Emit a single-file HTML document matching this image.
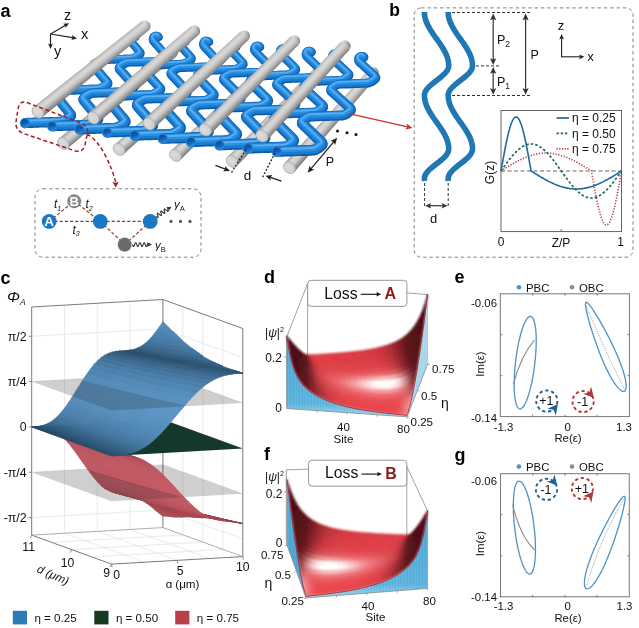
<!DOCTYPE html>
<html><head><meta charset="utf-8"><title>figure</title>
<style>
html,body{margin:0;padding:0;background:#fff;}
svg{display:block;font-family:"Liberation Sans",sans-serif;opacity:0.999;}
</style></head><body>
<svg width="639" height="628" viewBox="0 0 639 628">
<rect width="639" height="628" fill="#fff"/>
<defs><linearGradient id="rodcap" x1="0" y1="0" x2="0" y2="1"><stop offset="0" stop-color="#c4c4c4"/><stop offset="0.5" stop-color="#d6d6d6"/><stop offset="1" stop-color="#8f8f8f"/></linearGradient><radialGradient id="rodface" cx="0.45" cy="0.4" r="0.7"><stop offset="0" stop-color="#dedede"/><stop offset="0.7" stop-color="#cfcfcf"/><stop offset="1" stop-color="#b0b0b0"/></radialGradient><linearGradient id="tubeend" x1="0" y1="0" x2="0.3" y2="1"><stop offset="0" stop-color="#08428a"/><stop offset="0.55" stop-color="#0f5cae"/><stop offset="1" stop-color="#2a86d6"/></linearGradient></defs><text x="0.5" y="16.5" font-size="18" font-weight="bold" fill="#000">a</text><line x1="50.5" y1="34" x2="66.4" y2="24.7" stroke="#222" stroke-width="1.2"/><polygon points="69,23.2 65.5,28.1 65.3,25.4 63,23.8" fill="#222"/><line x1="50.5" y1="34" x2="74" y2="37.9" stroke="#222" stroke-width="1.2"/><polygon points="77,38.4 71.2,39.9 72.7,37.7 72,35.1" fill="#222"/><line x1="50.5" y1="34" x2="50.5" y2="46" stroke="#222" stroke-width="1.2"/><polygon points="50.5,49 48.1,43.5 50.5,44.7 52.9,43.5" fill="#222"/><text x="67.5" y="19.5" font-size="14.5" text-anchor="middle" fill="#111">z</text><text x="84.5" y="38.5" font-size="14.5" text-anchor="middle" fill="#111">x</text><text x="57.5" y="55.5" font-size="14.5" text-anchor="middle" fill="#111">y</text><linearGradient id="rg1" gradientUnits="userSpaceOnUse" x1="114.1" y1="93.3" x2="121.9" y2="102.6"><stop offset="0" stop-color="#a8a8a8"/><stop offset="0.14" stop-color="#c9c9c9"/><stop offset="0.36" stop-color="#dadada"/><stop offset="0.6" stop-color="#c4c4c4"/><stop offset="0.82" stop-color="#9c9c9c"/><stop offset="1" stop-color="#7e7e7e"/></linearGradient><ellipse cx="172.7" cy="52.5" rx="5.3" ry="5.5" transform="rotate(-39.7 172.7 52.5)" fill="url(#rg1)"/><polygon points="59.1,138.3 169.2,48.2 176.2,56.7 67.5,148.4" fill="url(#rg1)"/><ellipse cx="63.3" cy="143.4" rx="5.3" ry="6.6" transform="rotate(-39.7 63.3 143.4)" fill="url(#rodface)" stroke="#a2a2a2" stroke-width="0.6"/><linearGradient id="rg2" gradientUnits="userSpaceOnUse" x1="166.7" y1="98.9" x2="174.7" y2="107.9"><stop offset="0" stop-color="#a8a8a8"/><stop offset="0.14" stop-color="#c9c9c9"/><stop offset="0.36" stop-color="#dadada"/><stop offset="0.6" stop-color="#c4c4c4"/><stop offset="0.82" stop-color="#9c9c9c"/><stop offset="1" stop-color="#7e7e7e"/></linearGradient><ellipse cx="222.3" cy="57.4" rx="5.3" ry="5.5" transform="rotate(-41.7 222.3 57.4)" fill="url(#rg2)"/><polygon points="114.7,144.4 218.7,53.3 226,61.5 123.5,154.3" fill="url(#rg2)"/><ellipse cx="119.1" cy="149.4" rx="5.3" ry="6.6" transform="rotate(-41.7 119.1 149.4)" fill="url(#rodface)" stroke="#a2a2a2" stroke-width="0.6"/><linearGradient id="rg3" gradientUnits="userSpaceOnUse" x1="219.7" y1="104.6" x2="228.1" y2="113.3"><stop offset="0" stop-color="#a8a8a8"/><stop offset="0.14" stop-color="#c9c9c9"/><stop offset="0.36" stop-color="#dadada"/><stop offset="0.6" stop-color="#c4c4c4"/><stop offset="0.82" stop-color="#9c9c9c"/><stop offset="1" stop-color="#7e7e7e"/></linearGradient><ellipse cx="272.3" cy="62.4" rx="5.3" ry="5.5" transform="rotate(-43.8 272.3 62.4)" fill="url(#rg3)"/><polygon points="170.9,150.7 268.5,58.5 276.1,66.4 180,160.2" fill="url(#rg3)"/><ellipse cx="175.4" cy="155.4" rx="5.3" ry="6.6" transform="rotate(-43.8 175.4 155.4)" fill="url(#rodface)" stroke="#a2a2a2" stroke-width="0.6"/><linearGradient id="rg4" gradientUnits="userSpaceOnUse" x1="273.1" y1="110.3" x2="281.8" y2="118.7"><stop offset="0" stop-color="#a8a8a8"/><stop offset="0.14" stop-color="#c9c9c9"/><stop offset="0.36" stop-color="#dadada"/><stop offset="0.6" stop-color="#c4c4c4"/><stop offset="0.82" stop-color="#9c9c9c"/><stop offset="1" stop-color="#7e7e7e"/></linearGradient><ellipse cx="322.7" cy="67.5" rx="5.3" ry="5.5" transform="rotate(-46.1 322.7 67.5)" fill="url(#rg4)"/><polygon points="227.4,157 318.7,63.7 326.6,71.3 237,166.1" fill="url(#rg4)"/><ellipse cx="232.2" cy="161.5" rx="5.3" ry="6.6" transform="rotate(-46.1 232.2 161.5)" fill="url(#rodface)" stroke="#a2a2a2" stroke-width="0.6"/><linearGradient id="rg5" gradientUnits="userSpaceOnUse" x1="326.9" y1="116.1" x2="336" y2="124.1"><stop offset="0" stop-color="#a8a8a8"/><stop offset="0.14" stop-color="#c9c9c9"/><stop offset="0.36" stop-color="#dadada"/><stop offset="0.6" stop-color="#c4c4c4"/><stop offset="0.82" stop-color="#9c9c9c"/><stop offset="1" stop-color="#7e7e7e"/></linearGradient><ellipse cx="373.4" cy="72.5" rx="5.3" ry="5.5" transform="rotate(-48.6 373.4 72.5)" fill="url(#rg5)"/><polygon points="284.5,163.3 369.3,68.9 377.5,76.2 294.4,172" fill="url(#rg5)"/><ellipse cx="289.4" cy="167.7" rx="5.3" ry="6.6" transform="rotate(-48.6 289.4 167.7)" fill="url(#rodface)" stroke="#a2a2a2" stroke-width="0.6"/><g fill="none" stroke-linecap="round" stroke-linejoin="round"><defs><path id="tb0_0" d="M25.5 123 L27.1 122.9 L28.9 122.9 L30.7 122.8 L32.5 122.8 L34.3 122.7 L36.1 122.6 L37.9 122.6 L39.7 122.5 L41.6 122.5 L43.4 122.4 L45.2 122.3 L47 122.3 L48.8 122.2 L50.6 122.2 L52.4 122.1 L54.2 122 L56.1 122 L57.9 121.9 L59.7 121.9 L61.6 121.7 L64.4 120.6 L67.3 119 L69.5 117.6 L70.4 116.9 L70.8 116.4 L71.1 115.8 L71 115.2 L70.8 114.5 L70.3 113.8 L69.8 113.2 L69.2 112.5 L68.7 111.8 L68.2 111.2 L67.6 110.5 L67.1 109.8 L66.6 109.1 L66.1 108.5 L65.5 107.8 L65 107.2 L64.5 106.5 L64 105.8 L63.5 105.2 L62.9 104.5 L62.4 103.9 L61.9 103.2 L61.4 102.5 L60.9 101.9 L60.3 101.2 L59.8 100.6 L59.3 99.9 L58.8 99.3 L58.3 98.6 L57.8 98 L57.3 97.3"/><path id="tb0_1" d="M57.3 97.3 L57 96.7 L56.9 96.1 L57.1 95.5 L57.4 95 L58.1 94.4 L60 93.3 L62.7 91.8 L65.5 90.6 L67.5 90.2 L69.3 90.2 L71 90.1 L72.8 90 L74.5 90 L76.3 89.9 L78 89.9 L79.8 89.8 L81.5 89.8 L83.3 89.7 L85 89.7 L86.7 89.6 L88.5 89.5 L90.2 89.5 L92 89.4 L93.7 89.4 L95.5 89.3 L97.2 89.3 L99.1 89.1 L101.8 88 L104.5 86.5 L106.5 85.2 L107.3 84.7 L107.7 84.1 L107.8 83.6 L107.8 83 L107.5 82.4 L107 81.8 L106.4 81.1 L105.9 80.5 L105.4 79.9 L104.8 79.3 L104.3 78.7 L103.7 78 L103.2 77.4 L102.7 76.8 L102.1 76.2 L101.6 75.6 L101.1 74.9 L100.6 74.3 L100 73.7 L99.5 73.1 L99 72.5 L98.4 71.9 L97.9 71.3 L97.4 70.7 L96.9 70 L96.3 69.4 L95.8 68.8 L95.3 68.2 L94.8 67.6"/><path id="tb0_2" d="M94.8 67.6 L94.3 67 L93.8 66.4 L93.5 65.8 L93.4 65.3 L93.5 64.7 L93.9 64.2 L94.5 63.7 L96.4 62.6 L99 61.2 L101.6 60.1 L103.5 59.8 L105.2 59.8 L106.9 59.7 L108.6 59.7 L110.3 59.6 L111.9 59.6 L113.6 59.5 L115.3 59.5 L116.2 59.3 L117.8 59.3 L119.4 59.2 L121 59.1 L122.7 59.1 L124.3 59 L125.9 59 L127.5 58.9 L129.1 58.9 L130.7 58.8 L132.5 58.6 L135 57.5 L137.5 56.1 L139.3 55 L140 54.4 L140.3 54 L140.5 53.4 L140.4 52.9 L140.1 52.3 L139.6 51.8 L139.2 51.2 L138.7 50.6 L138.2 50 L137.7 49.5 L137.2 48.9 L136.7 48.3 L136.2 47.7 L135.8 47.2 L135.3 46.6 L134.8 46 L134.3 45.5 L133.8 44.9 L133.3 44.3 L132.9 43.8 L132.4 43.2 L131.9 42.6 L131.4 42.1 L131 41.5 L130.5 40.9 L130 40.2 L129.8 39.4 L129.7 38.5 L129.9 37.7 L130.3 36.9 L130.9 36.3 L131.6 35.8 L132.4 35.6 L133.3 35.5 L134.1 35.7 L134.9 36.1 L135.5 36.7"/></defs><g stroke="#0d5aa8"><use href="#tb0_0" stroke-width="10.2"/><use href="#tb0_1" stroke-width="9.3"/><use href="#tb0_2" stroke-width="8.4"/></g><g stroke="#187ad0" transform="translate(-0.35 -0.7)"><use href="#tb0_0" stroke-width="8.4"/><use href="#tb0_1" stroke-width="7.7"/><use href="#tb0_2" stroke-width="6.9"/></g><g stroke="#2a90e2" transform="translate(-0.7 -1.5)"><use href="#tb0_0" stroke-width="4.9"/><use href="#tb0_1" stroke-width="4.5"/><use href="#tb0_2" stroke-width="4"/></g><g stroke="#58aef0" transform="translate(-0.9 -2.3)"><use href="#tb0_0" stroke-width="1.9"/><use href="#tb0_1" stroke-width="1.7"/><use href="#tb0_2" stroke-width="1.6"/></g><defs><path id="tb1_0" d="M52.7 126.1 L54.3 126 L56.1 125.9 L58 125.9 L59.8 125.8 L61.7 125.8 L63.6 125.7 L65.4 125.6 L67.3 125.6 L69.1 125.5 L71 125.4 L72.8 125.4 L74.7 125.3 L76.5 125.3 L78.4 125.2 L80.3 125.1 L82.1 125.1 L84 125 L85.8 125 L87.7 124.9 L90 124.4 L93 122.9 L95.7 121.3 L97.3 120.2 L97.8 119.7 L98.1 119.1 L98.2 118.4 L98 117.8 L97.6 117.1 L97 116.4 L96.4 115.7 L95.9 115 L95.3 114.4 L94.8 113.7 L94.2 113 L93.6 112.3 L93.1 111.6 L92.5 110.9 L92 110.2 L91.4 109.6 L90.8 108.9 L90.3 108.2 L89.7 107.5 L89.2 106.8 L88.6 106.2 L88.1 105.5 L87.5 104.8 L87 104.1 L86.4 103.5 L85.9 102.8 L85.3 102.1 L84.8 101.5 L84.2 100.8 L83.7 100.1 L83.4 99.5"/><path id="tb1_1" d="M83.4 99.5 L83.4 98.9 L83.6 98.3 L84 97.7 L84.8 97.1 L87 95.7 L89.9 94.2 L92.6 93.2 L94.5 93 L96.2 93 L98 92.9 L99.8 92.9 L101.6 92.8 L103.4 92.8 L105.2 92.7 L107 92.6 L108.8 92.6 L110.5 92.5 L112.3 92.5 L114.1 92.4 L115.9 92.3 L117.7 92.3 L119.5 92.2 L121.3 92.2 L123.1 92.1 L124.9 92 L127.4 91.2 L130.2 89.7 L132.5 88.3 L133.5 87.6 L133.9 87 L134.1 86.5 L134 85.9 L133.8 85.3 L133.2 84.6 L132.7 84 L132.1 83.3 L131.5 82.7 L131 82.1 L130.4 81.4 L129.8 80.8 L129.3 80.1 L128.7 79.5 L128.1 78.9 L127.6 78.2 L127 77.6 L126.4 77 L125.9 76.3 L125.3 75.7 L124.8 75.1 L124.2 74.4 L123.6 73.8 L123.1 73.2 L122.5 72.6 L122 71.9 L121.4 71.3 L120.9 70.7 L120.3 70.1 L119.8 69.5 L119.3 68.8"/><path id="tb1_2" d="M119.3 68.8 L119.1 68.3 L119.1 67.7 L119.3 67.2 L119.8 66.7 L121 65.8 L123.3 64.4 L126.1 63.1 L128.4 62.5 L130.1 62.4 L131.8 62.4 L133.6 62.3 L135.3 62.3 L137 62.2 L138.7 62.2 L140.5 62.1 L141.4 62 L143.1 61.9 L144.7 61.9 L146.4 61.8 L148 61.7 L149.7 61.7 L151.3 61.6 L152.9 61.6 L154.6 61.5 L156.2 61.4 L158.1 61.2 L160.6 60.1 L163.1 58.7 L164.9 57.5 L165.5 57 L165.8 56.5 L165.9 56 L165.8 55.4 L165.5 54.8 L165 54.3 L164.4 53.7 L163.9 53.1 L163.4 52.5 L162.9 51.9 L162.4 51.3 L161.9 50.7 L161.3 50.1 L160.8 49.5 L160.3 49 L159.8 48.4 L159.3 47.8 L158.8 47.2 L158.3 46.6 L157.8 46 L157.3 45.5 L156.8 44.9 L156.2 44.3 L155.7 43.7 L155.2 43.1 L154.7 42.6 L154.2 42 L153.7 41.4 L153.2 40.7 L153 39.9 L152.9 39 L153.1 38.2 L153.5 37.4 L154 36.7 L154.7 36.3 L155.6 36 L156.4 35.9 L157.3 36.1 L158 36.5 L158.7 37.1"/></defs><g stroke="#0d5aa8"><use href="#tb1_0" stroke-width="10.3"/><use href="#tb1_1" stroke-width="9.4"/><use href="#tb1_2" stroke-width="8.4"/></g><g stroke="#187ad0" transform="translate(-0.35 -0.7)"><use href="#tb1_0" stroke-width="8.5"/><use href="#tb1_1" stroke-width="7.7"/><use href="#tb1_2" stroke-width="6.9"/></g><g stroke="#2a90e2" transform="translate(-0.7 -1.5)"><use href="#tb1_0" stroke-width="4.9"/><use href="#tb1_1" stroke-width="4.5"/><use href="#tb1_2" stroke-width="4"/></g><g stroke="#58aef0" transform="translate(-0.9 -2.3)"><use href="#tb1_0" stroke-width="1.9"/><use href="#tb1_1" stroke-width="1.8"/><use href="#tb1_2" stroke-width="1.6"/></g><defs><path id="tb2_0" d="M80.1 129.2 L81.6 129.1 L83.4 129 L85.2 129 L87.1 128.9 L88.9 128.9 L90.7 128.8 L92.5 128.7 L94.4 128.7 L96.2 128.6 L98 128.6 L99.8 128.5 L101.7 128.4 L103.5 128.4 L105.3 128.3 L107.1 128.2 L108.9 128.2 L110.8 128.1 L112.6 128.1 L114.4 128 L116.4 127.8 L119.1 126.7 L121.9 125.1 L124.1 123.7 L124.9 123 L125.3 122.4 L125.5 121.8 L125.4 121.2 L125.1 120.6 L124.6 119.9 L124 119.2 L123.5 118.5 L122.9 117.8 L122.3 117.2 L121.7 116.5 L121.2 115.8 L120.6 115.1 L120 114.4 L119.5 113.8 L118.9 113.1 L118.3 112.4 L117.8 111.8 L117.2 111.1 L116.6 110.4 L116.1 109.7 L115.5 109.1 L114.9 108.4 L114.4 107.7 L113.8 107.1 L113.3 106.4 L112.7 105.8 L112.1 105.1 L111.6 104.4 L111 103.8 L110.5 103.1"/><path id="tb2_1" d="M110.5 103.1 L110.1 102.5 L110 101.9 L110.1 101.3 L110.5 100.7 L111.1 100.2 L112.9 99 L115.6 97.5 L118.3 96.3 L120.4 95.9 L122.1 95.9 L123.9 95.8 L125.7 95.8 L127.4 95.7 L129.2 95.6 L130.9 95.6 L132.7 95.5 L134.4 95.5 L136.2 95.4 L137.9 95.4 L139.7 95.3 L141.4 95.2 L143.2 95.2 L145 95.1 L146.7 95.1 L148.5 95 L150.2 95 L152.1 94.8 L154.8 93.7 L157.4 92.2 L159.3 90.9 L160.1 90.3 L160.4 89.8 L160.6 89.2 L160.5 88.6 L160.1 88 L159.6 87.4 L159 86.7 L158.4 86.1 L157.8 85.5 L157.3 84.8 L156.7 84.2 L156.1 83.6 L155.5 83 L155 82.3 L154.4 81.7 L153.8 81.1 L153.2 80.4 L152.7 79.8 L152.1 79.2 L151.5 78.6 L151 78 L150.4 77.3 L149.8 76.7 L149.3 76.1 L148.7 75.5 L148.1 74.9 L147.6 74.3 L147 73.6 L146.4 73"/><path id="tb2_2" d="M146.4 73 L145.9 72.4 L145.3 71.8 L145 71.2 L144.9 70.6 L145 70.1 L145.3 69.6 L145.9 69.1 L147.7 67.9 L150.2 66.5 L152.8 65.4 L154.8 65.1 L156.5 65.1 L158.1 65 L159.8 65 L161.5 64.9 L163.2 64.9 L164.9 64.8 L166.6 64.8 L167.5 64.6 L169.1 64.6 L170.7 64.5 L172.4 64.4 L174 64.4 L175.6 64.3 L177.2 64.3 L178.8 64.2 L180.4 64.1 L182.1 64.1 L183.9 63.8 L186.3 62.8 L188.8 61.4 L190.5 60.2 L191.1 59.7 L191.4 59.2 L191.6 58.7 L191.5 58.1 L191.1 57.6 L190.6 57 L190.1 56.4 L189.6 55.8 L189.1 55.2 L188.5 54.6 L188 54.1 L187.5 53.5 L187 52.9 L186.4 52.3 L185.9 51.7 L185.4 51.2 L184.9 50.6 L184.4 50 L183.8 49.4 L183.3 48.9 L182.8 48.3 L182.3 47.7 L181.8 47.1 L181.2 46.6 L180.7 46 L180.2 45.3 L180 44.5 L179.9 43.6 L180 42.8 L180.4 42 L181 41.3 L181.7 40.9 L182.5 40.6 L183.4 40.5 L184.2 40.7 L185 41 L185.6 41.6"/></defs><g stroke="#0d5aa8"><use href="#tb2_0" stroke-width="10.4"/><use href="#tb2_1" stroke-width="9.4"/><use href="#tb2_2" stroke-width="8.5"/></g><g stroke="#187ad0" transform="translate(-0.35 -0.7)"><use href="#tb2_0" stroke-width="8.5"/><use href="#tb2_1" stroke-width="7.8"/><use href="#tb2_2" stroke-width="7"/></g><g stroke="#2a90e2" transform="translate(-0.7 -1.5)"><use href="#tb2_0" stroke-width="5"/><use href="#tb2_1" stroke-width="4.5"/><use href="#tb2_2" stroke-width="4.1"/></g><g stroke="#58aef0" transform="translate(-0.9 -2.3)"><use href="#tb2_0" stroke-width="1.9"/><use href="#tb2_1" stroke-width="1.8"/><use href="#tb2_2" stroke-width="1.6"/></g><defs><path id="tb3_0" d="M107.7 132.3 L109.2 132.2 L111.1 132.1 L112.9 132.1 L114.8 132 L116.7 132 L118.6 131.9 L120.4 131.8 L122.3 131.8 L124.2 131.7 L126 131.6 L127.9 131.6 L129.8 131.5 L131.6 131.5 L133.5 131.4 L135.4 131.3 L137.2 131.3 L139.1 131.2 L141 131.2 L142.8 131.1 L145.1 130.6 L148 129.1 L150.7 127.4 L152.2 126.3 L152.7 125.8 L153 125.2 L153 124.5 L152.8 123.9 L152.3 123.2 L151.7 122.5 L151.1 121.8 L150.5 121.1 L149.9 120.4 L149.2 119.7 L148.6 119 L148 118.3 L147.4 117.6 L146.8 116.9 L146.2 116.2 L145.6 115.5 L145 114.8 L144.4 114.2 L143.8 113.5 L143.2 112.8 L142.6 112.1 L142 111.4 L141.4 110.7 L140.8 110 L140.2 109.4 L139.6 108.7 L139 108 L138.5 107.3 L137.9 106.6 L137.3 106 L137 105.3"/><path id="tb3_1" d="M137 105.3 L136.9 104.7 L137 104.1 L137.4 103.5 L138.2 102.9 L140.3 101.5 L143.1 100 L145.8 98.9 L147.7 98.8 L149.5 98.7 L151.3 98.7 L153.1 98.6 L154.9 98.6 L156.7 98.5 L158.5 98.4 L160.3 98.4 L162.1 98.3 L163.9 98.3 L165.7 98.2 L167.4 98.1 L169.2 98.1 L171 98 L172.8 98 L174.6 97.9 L176.4 97.9 L178.2 97.8 L180.8 96.9 L183.5 95.4 L185.7 94 L186.6 93.3 L187 92.7 L187.2 92.1 L187.1 91.5 L186.8 90.9 L186.2 90.3 L185.6 89.6 L185 89 L184.4 88.3 L183.8 87.7 L183.2 87 L182.5 86.4 L181.9 85.7 L181.3 85.1 L180.7 84.4 L180.1 83.8 L179.5 83.1 L178.9 82.5 L178.3 81.9 L177.7 81.2 L177.1 80.6 L176.5 79.9 L175.9 79.3 L175.3 78.7 L174.7 78 L174.1 77.4 L173.5 76.8 L172.9 76.1 L172.3 75.5 L171.7 74.9 L171.2 74.3"/><path id="tb3_2" d="M171.2 74.3 L170.9 73.7 L170.9 73.1 L171.1 72.6 L171.5 72.1 L172.7 71.2 L175 69.8 L177.7 68.5 L180 67.8 L181.7 67.8 L183.4 67.7 L185.2 67.7 L186.9 67.6 L188.6 67.6 L190.4 67.5 L192.1 67.5 L193 67.3 L194.7 67.3 L196.4 67.2 L198 67.1 L199.7 67.1 L201.3 67 L203 66.9 L204.6 66.9 L206.3 66.8 L207.9 66.8 L209.8 66.5 L212.3 65.4 L214.7 64 L216.4 62.8 L217 62.3 L217.3 61.8 L217.4 61.2 L217.2 60.7 L216.8 60.1 L216.3 59.5 L215.7 58.9 L215.2 58.3 L214.6 57.7 L214.1 57.1 L213.5 56.5 L212.9 55.9 L212.4 55.3 L211.8 54.7 L211.3 54.1 L210.7 53.5 L210.2 52.9 L209.6 52.3 L209.1 51.8 L208.5 51.2 L208 50.6 L207.4 50 L206.9 49.4 L206.3 48.8 L205.8 48.2 L205.3 47.6 L204.7 47.1 L204.2 46.5 L203.7 45.8 L203.4 45 L203.3 44.1 L203.4 43.3 L203.8 42.5 L204.3 41.8 L205 41.3 L205.8 41 L206.7 40.9 L207.5 41.1 L208.3 41.4 L209 42"/></defs><g stroke="#0d5aa8"><use href="#tb3_0" stroke-width="10.4"/><use href="#tb3_1" stroke-width="9.5"/><use href="#tb3_2" stroke-width="8.5"/></g><g stroke="#187ad0" transform="translate(-0.35 -0.7)"><use href="#tb3_0" stroke-width="8.6"/><use href="#tb3_1" stroke-width="7.8"/><use href="#tb3_2" stroke-width="7"/></g><g stroke="#2a90e2" transform="translate(-0.7 -1.5)"><use href="#tb3_0" stroke-width="5"/><use href="#tb3_1" stroke-width="4.5"/><use href="#tb3_2" stroke-width="4.1"/></g><g stroke="#58aef0" transform="translate(-0.9 -2.3)"><use href="#tb3_0" stroke-width="2"/><use href="#tb3_1" stroke-width="1.8"/><use href="#tb3_2" stroke-width="1.6"/></g><defs><path id="tb4_0" d="M135.4 135.4 L137 135.3 L138.8 135.3 L140.6 135.2 L142.4 135.2 L144.3 135.1 L146.1 135 L147.9 135 L149.8 134.9 L151.6 134.9 L153.4 134.8 L155.3 134.7 L157.1 134.7 L158.9 134.6 L160.8 134.6 L162.6 134.5 L164.4 134.4 L166.3 134.4 L168.1 134.3 L169.9 134.2 L171.9 134.1 L174.6 132.9 L177.3 131.3 L179.4 129.9 L180.2 129.2 L180.6 128.6 L180.7 128 L180.6 127.3 L180.3 126.7 L179.7 126 L179.1 125.3 L178.5 124.6 L177.8 123.9 L177.2 123.2 L176.6 122.5 L176 121.9 L175.4 121.2 L174.8 120.5 L174.1 119.8 L173.5 119.1 L172.9 118.4 L172.3 117.8 L171.7 117.1 L171.1 116.4 L170.5 115.7 L169.9 115.1 L169.3 114.4 L168.7 113.7 L168 113 L167.4 112.4 L166.8 111.7 L166.2 111 L165.6 110.3 L165 109.7 L164.4 109"/><path id="tb4_1" d="M164.4 109 L164.1 108.4 L163.9 107.8 L164 107.2 L164.3 106.6 L164.9 106.1 L166.7 104.8 L169.2 103.3 L171.9 102.1 L174 101.7 L175.7 101.7 L177.5 101.6 L179.3 101.5 L181 101.5 L182.8 101.4 L184.6 101.4 L186.3 101.3 L188.1 101.3 L189.9 101.2 L191.6 101.1 L193.4 101.1 L195.1 101 L196.9 101 L198.7 100.9 L200.4 100.9 L202.2 100.8 L204 100.7 L205.9 100.5 L208.5 99.4 L211 97.9 L212.9 96.6 L213.6 96 L213.9 95.5 L214 94.9 L213.9 94.3 L213.5 93.7 L212.9 93 L212.3 92.4 L211.7 91.8 L211.1 91.1 L210.4 90.5 L209.8 89.8 L209.2 89.2 L208.6 88.6 L208 87.9 L207.3 87.3 L206.7 86.7 L206.1 86 L205.5 85.4 L204.9 84.8 L204.3 84.1 L203.7 83.5 L203 82.9 L202.4 82.2 L201.8 81.6 L201.2 81 L200.6 80.4 L200 79.7 L199.4 79.1 L198.8 78.5"/><path id="tb4_2" d="M198.8 78.5 L198.2 77.9 L197.6 77.3 L197.2 76.7 L197.1 76.1 L197.1 75.6 L197.5 75 L198.1 74.5 L199.8 73.3 L202.2 71.9 L204.8 70.8 L206.7 70.5 L208.4 70.5 L210.1 70.4 L211.8 70.4 L213.5 70.3 L215.2 70.2 L216.9 70.2 L218.6 70.1 L219.5 70 L221.1 69.9 L222.7 69.9 L224.4 69.8 L226 69.8 L227.6 69.7 L229.2 69.6 L230.9 69.6 L232.5 69.5 L234.1 69.4 L235.9 69.2 L238.3 68.1 L240.7 66.7 L242.4 65.5 L243 65 L243.3 64.5 L243.3 64 L243.2 63.4 L242.8 62.8 L242.3 62.2 L241.7 61.7 L241.2 61.1 L240.6 60.5 L240 59.9 L239.5 59.3 L238.9 58.7 L238.3 58.1 L237.8 57.5 L237.2 56.9 L236.7 56.4 L236.1 55.8 L235.5 55.2 L235 54.6 L234.4 54 L233.9 53.5 L233.3 52.9 L232.8 52.3 L232.2 51.7 L231.7 51.1 L231.1 50.4 L230.8 49.6 L230.7 48.8 L230.9 47.9 L231.2 47.1 L231.7 46.5 L232.4 46 L233.2 45.6 L234.1 45.6 L235 45.7 L235.7 46 L236.4 46.6"/></defs><g stroke="#0d5aa8"><use href="#tb4_0" stroke-width="10.5"/><use href="#tb4_1" stroke-width="9.5"/><use href="#tb4_2" stroke-width="8.6"/></g><g stroke="#187ad0" transform="translate(-0.35 -0.7)"><use href="#tb4_0" stroke-width="8.6"/><use href="#tb4_1" stroke-width="7.9"/><use href="#tb4_2" stroke-width="7.1"/></g><g stroke="#2a90e2" transform="translate(-0.7 -1.5)"><use href="#tb4_0" stroke-width="5"/><use href="#tb4_1" stroke-width="4.6"/><use href="#tb4_2" stroke-width="4.1"/></g><g stroke="#58aef0" transform="translate(-0.9 -2.3)"><use href="#tb4_0" stroke-width="2"/><use href="#tb4_1" stroke-width="1.8"/><use href="#tb4_2" stroke-width="1.6"/></g><defs><path id="tb5_0" d="M163.4 138.6 L165 138.5 L166.8 138.4 L168.7 138.4 L170.6 138.3 L172.5 138.3 L174.4 138.2 L176.2 138.1 L178.1 138.1 L180 138 L181.9 137.9 L183.7 137.9 L185.6 137.8 L187.5 137.8 L189.4 137.7 L191.3 137.6 L193.1 137.6 L195 137.5 L196.9 137.4 L198.8 137.4 L201.1 136.8 L203.9 135.4 L206.4 133.7 L207.9 132.5 L208.4 132 L208.6 131.4 L208.6 130.7 L208.3 130.1 L207.8 129.4 L207.2 128.7 L206.5 127.9 L205.8 127.2 L205.2 126.5 L204.5 125.8 L203.9 125.1 L203.2 124.4 L202.6 123.7 L201.9 123 L201.3 122.3 L200.6 121.6 L200 120.9 L199.3 120.2 L198.7 119.5 L198 118.8 L197.4 118.1 L196.7 117.4 L196.1 116.7 L195.4 116 L194.8 115.3 L194.2 114.6 L193.5 114 L192.9 113.3 L192.2 112.6 L191.6 111.9 L191.3 111.2"/><path id="tb5_1" d="M191.3 111.2 L191.1 110.6 L191.2 110 L191.6 109.4 L192.4 108.8 L194.4 107.4 L197.1 105.8 L199.7 104.8 L201.6 104.6 L203.4 104.6 L205.3 104.5 L207.1 104.4 L208.9 104.4 L210.7 104.3 L212.5 104.3 L214.3 104.2 L216.1 104.1 L217.9 104.1 L219.7 104 L221.5 104 L223.3 103.9 L225.1 103.9 L226.9 103.8 L228.7 103.7 L230.5 103.7 L232.4 103.6 L234.9 102.7 L237.5 101.2 L239.6 99.7 L240.5 99 L240.9 98.5 L241 97.9 L240.9 97.3 L240.5 96.6 L239.9 96 L239.3 95.3 L238.6 94.7 L238 94 L237.3 93.3 L236.6 92.7 L236 92 L235.3 91.4 L234.7 90.7 L234 90.1 L233.4 89.4 L232.7 88.8 L232.1 88.1 L231.4 87.5 L230.8 86.8 L230.1 86.2 L229.5 85.5 L228.8 84.9 L228.2 84.2 L227.6 83.6 L226.9 83 L226.3 82.3 L225.6 81.7 L225 81 L224.4 80.4 L223.8 79.8"/><path id="tb5_2" d="M223.8 79.8 L223.5 79.2 L223.4 78.6 L223.6 78 L224 77.5 L225.1 76.7 L227.4 75.3 L230 73.9 L232.2 73.2 L234 73.2 L235.7 73.1 L237.5 73.1 L239.2 73 L240.9 73 L242.7 72.9 L244.4 72.9 L245.4 72.7 L247 72.7 L248.7 72.6 L250.4 72.5 L252 72.5 L253.7 72.4 L255.4 72.3 L257 72.3 L258.7 72.2 L260.4 72.2 L262.2 71.9 L264.6 70.8 L267 69.3 L268.6 68.2 L269.2 67.6 L269.4 67.1 L269.5 66.6 L269.3 66 L268.9 65.4 L268.3 64.8 L267.7 64.2 L267.1 63.6 L266.5 63 L265.9 62.4 L265.3 61.8 L264.7 61.2 L264.1 60.6 L263.5 60 L262.9 59.4 L262.3 58.8 L261.7 58.2 L261.1 57.6 L260.6 57 L260 56.4 L259.4 55.8 L258.8 55.2 L258.2 54.6 L257.6 54 L257 53.4 L256.4 52.8 L255.9 52.2 L255.3 51.6 L254.8 50.9 L254.4 50.1 L254.3 49.3 L254.4 48.4 L254.8 47.6 L255.3 46.9 L256 46.4 L256.8 46.1 L257.6 46 L258.5 46.1 L259.3 46.4 L260 47"/></defs><g stroke="#0d5aa8"><use href="#tb5_0" stroke-width="10.6"/><use href="#tb5_1" stroke-width="9.6"/><use href="#tb5_2" stroke-width="8.6"/></g><g stroke="#187ad0" transform="translate(-0.35 -0.7)"><use href="#tb5_0" stroke-width="8.7"/><use href="#tb5_1" stroke-width="7.9"/><use href="#tb5_2" stroke-width="7.1"/></g><g stroke="#2a90e2" transform="translate(-0.7 -1.5)"><use href="#tb5_0" stroke-width="5.1"/><use href="#tb5_1" stroke-width="4.6"/><use href="#tb5_2" stroke-width="4.1"/></g><g stroke="#58aef0" transform="translate(-0.9 -2.3)"><use href="#tb5_0" stroke-width="2"/><use href="#tb5_1" stroke-width="1.8"/><use href="#tb5_2" stroke-width="1.6"/></g><defs><path id="tb6_0" d="M191.6 141.8 L193.1 141.7 L195 141.6 L196.9 141.6 L198.8 141.5 L200.7 141.4 L202.6 141.4 L204.4 141.3 L206.3 141.2 L208.2 141.2 L210.1 141.1 L212 141.1 L213.9 141 L215.7 140.9 L217.6 140.9 L219.5 140.8 L221.4 140.7 L223.3 140.7 L225.2 140.6 L227 140.5 L229.3 140 L232.1 138.5 L234.6 136.8 L236.1 135.7 L236.5 135.1 L236.8 134.5 L236.7 133.9 L236.4 133.2 L235.9 132.5 L235.2 131.8 L234.5 131.1 L233.8 130.3 L233.1 129.6 L232.5 128.9 L231.8 128.2 L231.1 127.5 L230.4 126.8 L229.8 126.1 L229.1 125.4 L228.4 124.7 L227.7 124 L227.1 123.3 L226.4 122.5 L225.7 121.8 L225 121.1 L224.4 120.4 L223.7 119.7 L223 119 L222.4 118.4 L221.7 117.7 L221.1 117 L220.4 116.3 L219.7 115.6 L219.1 114.9 L218.7 114.2"/><path id="tb6_1" d="M218.7 114.2 L218.5 113.6 L218.6 113 L219 112.4 L219.8 111.8 L221.8 110.3 L224.4 108.8 L227 107.7 L228.9 107.6 L230.7 107.5 L232.5 107.4 L234.3 107.4 L236.2 107.3 L238 107.3 L239.8 107.2 L241.6 107.2 L243.4 107.1 L245.2 107 L247 107 L248.8 106.9 L250.7 106.9 L252.5 106.8 L254.3 106.7 L256.1 106.7 L257.9 106.6 L259.7 106.5 L262.2 105.7 L264.8 104.1 L266.9 102.7 L267.8 101.9 L268.1 101.4 L268.2 100.8 L268.1 100.2 L267.7 99.5 L267.1 98.9 L266.4 98.2 L265.7 97.5 L265 96.9 L264.4 96.2 L263.7 95.6 L263 94.9 L262.3 94.2 L261.6 93.6 L261 92.9 L260.3 92.3 L259.6 91.6 L258.9 90.9 L258.3 90.3 L257.6 89.6 L256.9 89 L256.3 88.3 L255.6 87.7 L254.9 87 L254.3 86.4 L253.6 85.8 L252.9 85.1 L252.3 84.5 L251.6 83.8 L251 83.2 L250.4 82.5"/><path id="tb6_2" d="M250.4 82.5 L250.1 81.9 L250 81.4 L250.1 80.8 L250.5 80.3 L251.6 79.4 L253.8 78 L256.4 76.6 L258.6 76 L260.4 75.9 L262.1 75.9 L263.9 75.8 L265.6 75.8 L267.4 75.7 L269.1 75.7 L270.9 75.6 L271.8 75.5 L273.5 75.4 L275.2 75.3 L276.8 75.3 L278.5 75.2 L280.2 75.1 L281.8 75.1 L283.5 75 L285.2 75 L286.8 74.9 L288.7 74.6 L291.1 73.5 L293.4 72.1 L295 70.9 L295.5 70.3 L295.8 69.8 L295.8 69.3 L295.6 68.7 L295.2 68.1 L294.6 67.5 L293.9 66.9 L293.3 66.3 L292.7 65.6 L292.1 65 L291.5 64.4 L290.8 63.8 L290.2 63.2 L289.6 62.6 L289 62 L288.4 61.4 L287.8 60.8 L287.2 60.2 L286.5 59.6 L285.9 59 L285.3 58.4 L284.7 57.8 L284.1 57.2 L283.5 56.6 L282.9 56 L282.3 55.4 L281.7 54.8 L281.1 54.2 L280.6 53.5 L280.2 52.7 L280.1 51.9 L280.2 51 L280.5 50.2 L281 49.5 L281.7 49 L282.5 48.7 L283.4 48.6 L284.2 48.7 L285 49 L285.7 49.5"/></defs><g stroke="#0d5aa8"><use href="#tb6_0" stroke-width="10.6"/><use href="#tb6_1" stroke-width="9.7"/><use href="#tb6_2" stroke-width="8.7"/></g><g stroke="#187ad0" transform="translate(-0.35 -0.7)"><use href="#tb6_0" stroke-width="8.7"/><use href="#tb6_1" stroke-width="7.9"/><use href="#tb6_2" stroke-width="7.2"/></g><g stroke="#2a90e2" transform="translate(-0.7 -1.5)"><use href="#tb6_0" stroke-width="5.1"/><use href="#tb6_1" stroke-width="4.6"/><use href="#tb6_2" stroke-width="4.2"/></g><g stroke="#58aef0" transform="translate(-0.9 -2.3)"><use href="#tb6_0" stroke-width="2"/><use href="#tb6_1" stroke-width="1.8"/><use href="#tb6_2" stroke-width="1.6"/></g><defs><path id="tb7_0" d="M220 145 L221.5 144.9 L223.4 144.8 L225.3 144.8 L227.2 144.7 L229.1 144.6 L231 144.6 L232.9 144.5 L234.8 144.4 L236.6 144.4 L238.5 144.3 L240.4 144.3 L242.3 144.2 L244.2 144.1 L246.1 144.1 L248 144 L249.9 143.9 L251.7 143.9 L253.6 143.8 L255.5 143.7 L257.8 143.2 L260.6 141.7 L263 140 L264.4 138.9 L264.9 138.3 L265.1 137.7 L265 137 L264.7 136.3 L264.1 135.6 L263.4 134.9 L262.7 134.2 L262 133.5 L261.3 132.7 L260.6 132 L259.9 131.3 L259.2 130.6 L258.5 129.9 L257.8 129.2 L257.1 128.5 L256.4 127.7 L255.7 127 L255 126.3 L254.3 125.6 L253.6 124.9 L252.9 124.2 L252.2 123.5 L251.5 122.8 L250.8 122.1 L250.2 121.4 L249.5 120.7 L248.8 120 L248.1 119.3 L247.4 118.6 L246.8 117.9 L246.3 117.2"/><path id="tb7_1" d="M246.3 117.2 L246.2 116.6 L246.2 116 L246.6 115.4 L247.3 114.8 L249.3 113.3 L251.9 111.7 L254.5 110.7 L256.4 110.5 L258.2 110.5 L260 110.4 L261.8 110.4 L263.6 110.3 L265.5 110.2 L267.3 110.2 L269.1 110.1 L270.9 110.1 L272.7 110 L274.5 109.9 L276.4 109.9 L278.2 109.8 L280 109.8 L281.8 109.7 L283.6 109.6 L285.4 109.6 L287.3 109.5 L289.7 108.6 L292.3 107.1 L294.3 105.6 L295.2 104.8 L295.5 104.3 L295.6 103.7 L295.5 103.1 L295.1 102.4 L294.4 101.8 L293.7 101.1 L293 100.4 L292.3 99.8 L291.6 99.1 L290.9 98.4 L290.2 97.8 L289.5 97.1 L288.8 96.4 L288.1 95.8 L287.4 95.1 L286.7 94.5 L286 93.8 L285.3 93.1 L284.6 92.5 L283.9 91.8 L283.2 91.2 L282.5 90.5 L281.8 89.9 L281.2 89.2 L280.5 88.6 L279.8 87.9 L279.1 87.3 L278.4 86.6 L277.7 86 L277.1 85.3"/><path id="tb7_2" d="M277.1 85.3 L276.8 84.7 L276.7 84.1 L276.8 83.6 L277.2 83.1 L278.3 82.2 L280.4 80.8 L283 79.4 L285.2 78.7 L287 78.7 L288.7 78.6 L290.5 78.6 L292.2 78.5 L294 78.5 L295.7 78.4 L297.5 78.3 L298.4 78.2 L300.1 78.1 L301.8 78.1 L303.4 78 L305.1 78 L306.8 77.9 L308.5 77.8 L310.1 77.8 L311.8 77.7 L313.5 77.6 L315.3 77.4 L317.7 76.3 L320 74.8 L321.5 73.6 L322.1 73 L322.3 72.5 L322.3 72 L322.1 71.4 L321.6 70.8 L321 70.2 L320.4 69.6 L319.7 68.9 L319.1 68.3 L318.4 67.7 L317.8 67.1 L317.2 66.5 L316.5 65.9 L315.9 65.3 L315.2 64.7 L314.6 64 L314 63.4 L313.3 62.8 L312.7 62.2 L312.1 61.6 L311.5 61 L310.8 60.4 L310.2 59.8 L309.6 59.2 L308.9 58.6 L308.3 58 L307.7 57.4 L307.1 56.8 L306.5 56.1 L306.2 55.4 L306 54.5 L306.1 53.6 L306.5 52.8 L307 52.1 L307.6 51.6 L308.4 51.3 L309.3 51.1 L310.1 51.2 L310.9 51.5 L311.6 52"/></defs><g stroke="#0d5aa8"><use href="#tb7_0" stroke-width="10.7"/><use href="#tb7_1" stroke-width="9.7"/><use href="#tb7_2" stroke-width="8.7"/></g><g stroke="#187ad0" transform="translate(-0.35 -0.7)"><use href="#tb7_0" stroke-width="8.8"/><use href="#tb7_1" stroke-width="8"/><use href="#tb7_2" stroke-width="7.2"/></g><g stroke="#2a90e2" transform="translate(-0.7 -1.5)"><use href="#tb7_0" stroke-width="5.1"/><use href="#tb7_1" stroke-width="4.7"/><use href="#tb7_2" stroke-width="4.2"/></g><g stroke="#58aef0" transform="translate(-0.9 -2.3)"><use href="#tb7_0" stroke-width="2"/><use href="#tb7_1" stroke-width="1.8"/><use href="#tb7_2" stroke-width="1.6"/></g><defs><path id="tb8_0" d="M248.6 148.2 L250.1 148.1 L252 148.1 L253.9 148 L255.8 147.9 L257.7 147.9 L259.6 147.8 L261.5 147.7 L263.4 147.7 L265.3 147.6 L267.2 147.5 L269.1 147.5 L271 147.4 L272.9 147.4 L274.7 147.3 L276.6 147.2 L278.5 147.2 L280.4 147.1 L282.3 147 L284.2 147 L286.5 146.4 L289.2 144.9 L291.6 143.2 L293 142 L293.4 141.5 L293.6 140.9 L293.6 140.2 L293.2 139.5 L292.6 138.8 L291.9 138.1 L291.1 137.3 L290.4 136.6 L289.7 135.9 L289 135.2 L288.2 134.4 L287.5 133.7 L286.8 133 L286 132.3 L285.3 131.6 L284.6 130.9 L283.9 130.1 L283.1 129.4 L282.4 128.7 L281.7 128 L281 127.3 L280.3 126.6 L279.6 125.9 L278.8 125.2 L278.1 124.5 L277.4 123.8 L276.7 123 L276 122.3 L275.3 121.6 L274.6 120.9 L274.2 120.3"/><path id="tb8_1" d="M274.2 120.3 L274 119.6 L274 119 L274.3 118.4 L275.1 117.8 L277 116.3 L279.6 114.7 L282.1 113.7 L284 113.5 L285.9 113.5 L287.7 113.4 L289.5 113.3 L291.3 113.3 L293.1 113.2 L295 113.2 L296.8 113.1 L298.6 113 L300.4 113 L302.2 112.9 L304.1 112.9 L305.9 112.8 L307.7 112.7 L309.5 112.7 L311.4 112.6 L313.2 112.6 L315 112.5 L317.4 111.6 L320 110 L322 108.6 L322.8 107.8 L323.2 107.2 L323.2 106.6 L323 106 L322.6 105.4 L321.9 104.7 L321.2 104 L320.5 103.4 L319.7 102.7 L319 102 L318.3 101.3 L317.6 100.7 L316.8 100 L316.1 99.3 L315.4 98.7 L314.7 98 L314 97.3 L313.2 96.7 L312.5 96 L311.8 95.4 L311.1 94.7 L310.4 94 L309.7 93.4 L309 92.7 L308.2 92.1 L307.5 91.4 L306.8 90.8 L306.1 90.1 L305.4 89.4 L304.7 88.8 L304.1 88.2"/><path id="tb8_2" d="M304.1 88.2 L303.7 87.5 L303.6 87 L303.7 86.4 L304.1 85.9 L305.2 85 L307.2 83.6 L309.7 82.2 L312 81.5 L313.7 81.5 L315.5 81.4 L317.3 81.3 L319 81.3 L320.8 81.2 L322.5 81.2 L324.3 81.1 L325.2 81 L326.9 80.9 L328.6 80.8 L330.3 80.8 L331.9 80.7 L333.6 80.7 L335.3 80.6 L337 80.5 L338.6 80.5 L340.3 80.4 L342.1 80.2 L344.5 79 L346.7 77.5 L348.3 76.3 L348.8 75.8 L349 75.3 L349 74.7 L348.8 74.1 L348.3 73.5 L347.6 72.9 L347 72.3 L346.3 71.7 L345.6 71 L345 70.4 L344.3 69.8 L343.7 69.2 L343 68.6 L342.3 68 L341.7 67.3 L341 66.7 L340.4 66.1 L339.7 65.5 L339.1 64.9 L338.4 64.3 L337.8 63.7 L337.1 63.1 L336.5 62.5 L335.8 61.9 L335.2 61.3 L334.5 60.6 L333.9 60 L333.2 59.4 L332.7 58.8 L332.3 58 L332.2 57.1 L332.3 56.3 L332.6 55.5 L333.1 54.8 L333.7 54.2 L334.5 53.9 L335.4 53.7 L336.2 53.8 L337 54.1 L337.7 54.6"/></defs><g stroke="#0d5aa8"><use href="#tb8_0" stroke-width="10.8"/><use href="#tb8_1" stroke-width="9.8"/><use href="#tb8_2" stroke-width="8.8"/></g><g stroke="#187ad0" transform="translate(-0.35 -0.7)"><use href="#tb8_0" stroke-width="8.8"/><use href="#tb8_1" stroke-width="8"/><use href="#tb8_2" stroke-width="7.2"/></g><g stroke="#2a90e2" transform="translate(-0.7 -1.5)"><use href="#tb8_0" stroke-width="5.2"/><use href="#tb8_1" stroke-width="4.7"/><use href="#tb8_2" stroke-width="4.2"/></g><g stroke="#58aef0" transform="translate(-0.9 -2.3)"><use href="#tb8_0" stroke-width="2"/><use href="#tb8_1" stroke-width="1.8"/><use href="#tb8_2" stroke-width="1.6"/></g><defs><path id="tb9_0" d="M277.4 151.5 L278.9 151.4 L280.8 151.3 L282.7 151.3 L284.6 151.2 L286.5 151.1 L288.4 151.1 L290.3 151 L292.2 150.9 L294.1 150.9 L296 150.8 L297.9 150.7 L299.8 150.7 L301.7 150.6 L303.6 150.5 L305.5 150.5 L307.4 150.4 L309.3 150.3 L311.2 150.3 L313.1 150.2 L315.4 149.7 L318.1 148.1 L320.4 146.4 L321.8 145.3 L322.2 144.7 L322.4 144.1 L322.3 143.4 L321.9 142.7 L321.3 142 L320.5 141.3 L319.8 140.5 L319 139.8 L318.3 139.1 L317.5 138.3 L316.7 137.6 L316 136.9 L315.2 136.2 L314.5 135.4 L313.7 134.7 L313 134 L312.2 133.3 L311.5 132.5 L310.8 131.8 L310 131.1 L309.3 130.4 L308.5 129.7 L307.8 129 L307 128.3 L306.3 127.5 L305.6 126.8 L304.8 126.1 L304.1 125.4 L303.4 124.7 L302.7 124 L302.2 123.3"/><path id="tb9_1" d="M302.2 123.3 L302 122.7 L302 122.1 L302.3 121.5 L303 120.8 L304.9 119.4 L307.4 117.8 L310 116.7 L311.9 116.5 L313.7 116.5 L315.5 116.4 L317.4 116.3 L319.2 116.3 L321 116.2 L322.8 116.2 L324.7 116.1 L326.5 116 L328.3 116 L330.2 115.9 L332 115.9 L333.8 115.8 L335.6 115.7 L337.5 115.7 L339.3 115.6 L341.1 115.6 L343 115.5 L345.4 114.6 L347.9 113 L349.8 111.5 L350.6 110.8 L351 110.2 L351 109.6 L350.8 109 L350.4 108.3 L349.7 107.7 L348.9 107 L348.1 106.3 L347.4 105.6 L346.6 104.9 L345.9 104.3 L345.1 103.6 L344.4 102.9 L343.6 102.2 L342.9 101.6 L342.2 100.9 L341.4 100.2 L340.7 99.6 L339.9 98.9 L339.2 98.2 L338.5 97.6 L337.7 96.9 L337 96.2 L336.2 95.6 L335.5 94.9 L334.8 94.3 L334 93.6 L333.3 92.9 L332.6 92.3 L331.9 91.6 L331.2 91"/><path id="tb9_2" d="M331.2 91 L330.8 90.4 L330.7 89.8 L330.8 89.2 L331.1 88.7 L332.2 87.8 L334.2 86.4 L336.7 85 L338.9 84.3 L340.7 84.2 L342.5 84.2 L344.2 84.1 L346 84.1 L347.7 84 L349.5 84 L351.3 83.9 L352.2 83.8 L353.9 83.7 L355.6 83.6 L357.2 83.6 L358.9 83.5 L360.6 83.4 L362.3 83.4 L364 83.3 L365.6 83.2 L367.3 83.2 L369.2 82.9 L371.5 81.8 L373.7 80.3 L375.2 79.1 L375.7 78.5 L375.9 78 L375.9 77.4 L375.6 76.9 L375.1 76.3 L374.4 75.6 L373.8 75 L373.1 74.4 L372.4 73.8 L371.7 73.1 L371 72.5 L370.3 71.9 L369.6 71.3 L369 70.7 L368.3 70 L367.6 69.4 L366.9 68.8 L366.3 68.2 L365.6 67.6 L364.9 67 L364.2 66.3 L363.6 65.7 L362.9 65.1 L362.2 64.5 L361.5 63.9 L360.9 63.3 L360.2 62.7 L359.5 62.1 L359 61.4 L358.6 60.7 L358.5 59.8 L358.5 58.9 L358.8 58.1 L359.3 57.4 L360 56.9 L360.8 56.5 L361.6 56.4 L362.5 56.4 L363.3 56.7 L364 57.2"/></defs><g stroke="#0d5aa8"><use href="#tb9_0" stroke-width="10.8"/><use href="#tb9_1" stroke-width="9.8"/><use href="#tb9_2" stroke-width="8.8"/></g><g stroke="#187ad0" transform="translate(-0.35 -0.7)"><use href="#tb9_0" stroke-width="8.9"/><use href="#tb9_1" stroke-width="8.1"/><use href="#tb9_2" stroke-width="7.3"/></g><g stroke="#2a90e2" transform="translate(-0.7 -1.5)"><use href="#tb9_0" stroke-width="5.2"/><use href="#tb9_1" stroke-width="4.7"/><use href="#tb9_2" stroke-width="4.2"/></g><g stroke="#58aef0" transform="translate(-0.9 -2.3)"><use href="#tb9_0" stroke-width="2"/><use href="#tb9_1" stroke-width="1.8"/><use href="#tb9_2" stroke-width="1.7"/></g></g><ellipse cx="24.9" cy="123.2" rx="4.5" ry="4.6" fill="url(#tubeend)" stroke="#2485d6" stroke-width="1.2"/><ellipse cx="52.1" cy="126.3" rx="4.5" ry="4.6" fill="url(#tubeend)" stroke="#2485d6" stroke-width="1.2"/><ellipse cx="79.5" cy="129.4" rx="4.5" ry="4.6" fill="url(#tubeend)" stroke="#2485d6" stroke-width="1.2"/><ellipse cx="107.1" cy="132.5" rx="4.5" ry="4.6" fill="url(#tubeend)" stroke="#2485d6" stroke-width="1.2"/><ellipse cx="134.8" cy="135.6" rx="4.6" ry="4.7" fill="url(#tubeend)" stroke="#2485d6" stroke-width="1.2"/><ellipse cx="162.8" cy="138.8" rx="4.6" ry="4.7" fill="url(#tubeend)" stroke="#2485d6" stroke-width="1.2"/><ellipse cx="191" cy="142" rx="4.6" ry="4.7" fill="url(#tubeend)" stroke="#2485d6" stroke-width="1.2"/><ellipse cx="219.4" cy="145.2" rx="4.7" ry="4.8" fill="url(#tubeend)" stroke="#2485d6" stroke-width="1.2"/><ellipse cx="248" cy="148.4" rx="4.7" ry="4.8" fill="url(#tubeend)" stroke="#2485d6" stroke-width="1.2"/><ellipse cx="276.8" cy="151.7" rx="4.7" ry="4.8" fill="url(#tubeend)" stroke="#2485d6" stroke-width="1.2"/><linearGradient id="rg6" gradientUnits="userSpaceOnUse" x1="87.6" y1="64.1" x2="95.4" y2="73.9"><stop offset="0" stop-color="#a8a8a8"/><stop offset="0.14" stop-color="#c9c9c9"/><stop offset="0.36" stop-color="#dadada"/><stop offset="0.6" stop-color="#c4c4c4"/><stop offset="0.82" stop-color="#9c9c9c"/><stop offset="1" stop-color="#7e7e7e"/></linearGradient><ellipse cx="145" cy="26" rx="5.6" ry="5.8" transform="rotate(-38.8 145 26)" fill="url(#rg6)"/><polygon points="33.8,106.8 141.4,21.5 148.6,30.5 42.2,117.2" fill="url(#rg6)"/><ellipse cx="38" cy="112" rx="5.4" ry="6.7" transform="rotate(-38.8 38 112)" fill="url(#rodface)" stroke="#a2a2a2" stroke-width="0.6"/><linearGradient id="rg7" gradientUnits="userSpaceOnUse" x1="139.8" y1="69.7" x2="148" y2="79.2"><stop offset="0" stop-color="#a8a8a8"/><stop offset="0.14" stop-color="#c9c9c9"/><stop offset="0.36" stop-color="#dadada"/><stop offset="0.6" stop-color="#c4c4c4"/><stop offset="0.82" stop-color="#9c9c9c"/><stop offset="1" stop-color="#7e7e7e"/></linearGradient><ellipse cx="194.5" cy="30.9" rx="5.6" ry="5.8" transform="rotate(-40.7 194.5 30.9)" fill="url(#rg7)"/><polygon points="88.9,112.8 190.7,26.5 198.2,35.3 97.7,123" fill="url(#rg7)"/><ellipse cx="93.3" cy="117.9" rx="5.4" ry="6.7" transform="rotate(-40.7 93.3 117.9)" fill="url(#rodface)" stroke="#a2a2a2" stroke-width="0.6"/><linearGradient id="rg8" gradientUnits="userSpaceOnUse" x1="192.4" y1="75.3" x2="200.9" y2="84.5"><stop offset="0" stop-color="#a8a8a8"/><stop offset="0.14" stop-color="#c9c9c9"/><stop offset="0.36" stop-color="#dadada"/><stop offset="0.6" stop-color="#c4c4c4"/><stop offset="0.82" stop-color="#9c9c9c"/><stop offset="1" stop-color="#7e7e7e"/></linearGradient><ellipse cx="244.3" cy="35.9" rx="5.6" ry="5.8" transform="rotate(-42.7 244.3 35.9)" fill="url(#rg8)"/><polygon points="144.5,119 240.3,31.7 248.2,40.2 153.6,128.8" fill="url(#rg8)"/><ellipse cx="149.1" cy="123.9" rx="5.4" ry="6.7" transform="rotate(-42.7 149.1 123.9)" fill="url(#rodface)" stroke="#a2a2a2" stroke-width="0.6"/><linearGradient id="rg9" gradientUnits="userSpaceOnUse" x1="245.5" y1="81" x2="254.3" y2="89.9"><stop offset="0" stop-color="#a8a8a8"/><stop offset="0.14" stop-color="#c9c9c9"/><stop offset="0.36" stop-color="#dadada"/><stop offset="0.6" stop-color="#c4c4c4"/><stop offset="0.82" stop-color="#9c9c9c"/><stop offset="1" stop-color="#7e7e7e"/></linearGradient><ellipse cx="294.5" cy="40.9" rx="5.6" ry="5.8" transform="rotate(-44.9 294.5 40.9)" fill="url(#rg9)"/><polygon points="200.6,125.2 290.4,36.8 298.5,45.1 210,134.7" fill="url(#rg9)"/><ellipse cx="205.3" cy="129.9" rx="5.4" ry="6.7" transform="rotate(-44.9 205.3 129.9)" fill="url(#rodface)" stroke="#a2a2a2" stroke-width="0.6"/><linearGradient id="rg10" gradientUnits="userSpaceOnUse" x1="298.9" y1="86.8" x2="308.1" y2="95.2"><stop offset="0" stop-color="#a8a8a8"/><stop offset="0.14" stop-color="#c9c9c9"/><stop offset="0.36" stop-color="#dadada"/><stop offset="0.6" stop-color="#c4c4c4"/><stop offset="0.82" stop-color="#9c9c9c"/><stop offset="1" stop-color="#7e7e7e"/></linearGradient><ellipse cx="345" cy="46" rx="5.6" ry="5.8" transform="rotate(-47.3 345 46)" fill="url(#rg10)"/><polygon points="257.1,131.5 340.7,42.1 349.3,49.9 266.9,140.5" fill="url(#rg10)"/><ellipse cx="262" cy="136" rx="5.4" ry="6.7" transform="rotate(-47.3 262 136)" fill="url(#rodface)" stroke="#a2a2a2" stroke-width="0.6"/><path d="M27 102.5 L82 123.5 Q88.5 126.5 87.5 133 L85 145 Q83 152.5 75.5 151 L23.5 133.5 Q15 130 16 122 L18 109 Q19.5 100 27 102.5Z" fill="none" stroke="#a01f24" stroke-width="1.5" stroke-dasharray="4 2.6"/><path d="M87 134 Q97 140 104 153 Q113 170 115.5 182" fill="none" stroke="#a01f24" stroke-width="1.5" stroke-dasharray="4 2.6"/><polygon points="115.8,187.5 112.5,181.9 115.6,182.8 118.7,181.7" fill="#a01f24"/><rect x="35" y="188.8" width="166" height="68.4" rx="8" fill="none" stroke="#808080" stroke-width="1" stroke-dasharray="3.4 2.9"/><line x1="49.2" y1="221.4" x2="74.2" y2="201.2" stroke="#9c3a1c" stroke-width="1.2" stroke-dasharray="3.2 2"/><line x1="74.2" y1="201.2" x2="100.3" y2="221.4" stroke="#9c3a1c" stroke-width="1.2" stroke-dasharray="3.2 2"/><line x1="49.2" y1="221.4" x2="150.2" y2="221.4" stroke="#9c3a1c" stroke-width="1.2" stroke-dasharray="3.2 2"/><line x1="100.3" y1="221.4" x2="124.7" y2="244.6" stroke="#9c3a1c" stroke-width="1.2" stroke-dasharray="3.2 2"/><line x1="124.7" y1="244.6" x2="150.2" y2="221.4" stroke="#9c3a1c" stroke-width="1.2" stroke-dasharray="3.2 2"/><defs><radialGradient id="glow"><stop offset="0.7" stop-color="#888" stop-opacity="0.5"/><stop offset="1" stop-color="#888" stop-opacity="0"/></radialGradient></defs><circle cx="49.2" cy="221.4" r="7.4" fill="#1b78c2"/><circle cx="100.3" cy="221.4" r="7.4" fill="#1b78c2"/><circle cx="150.2" cy="221.4" r="7.4" fill="#1b78c2"/><circle cx="124.7" cy="244.6" r="8.2" fill="url(#glow)"/><circle cx="124.7" cy="244.6" r="6.8" fill="#6b6b6b"/><circle cx="74.2" cy="201.2" r="8" fill="url(#glow)"/><circle cx="74.2" cy="201.2" r="6.3" fill="#8a8a8a" stroke="#6a6a6a" stroke-width="0.8"/><text x="49.2" y="226.2" font-size="13.5" text-anchor="middle" font-weight="bold" fill="#fff">A</text><text x="74.2" y="205.9" font-size="13" text-anchor="middle" font-weight="bold" fill="#fff">B</text><circle cx="171" cy="221.4" r="1.6" fill="#555"/><circle cx="180.5" cy="221.4" r="1.6" fill="#555"/><circle cx="190" cy="221.4" r="1.6" fill="#555"/><text x="54" y="208" font-size="12" font-style="italic" fill="#111">t<tspan font-size="7" dy="2.5">1</tspan></text><text x="85.5" y="208" font-size="12" font-style="italic" fill="#111">t<tspan font-size="7" dy="2.5">2</tspan></text><text x="72.5" y="233.5" font-size="12" font-style="italic" fill="#111">t<tspan font-size="7" dy="2.5">3</tspan></text><text x="174" y="208" font-size="11.5" font-style="italic" fill="#111">γ<tspan font-size="7.5" dy="2.5" font-style="normal">A</tspan></text><text x="155" y="249" font-size="11.5" font-style="italic" fill="#111">γ<tspan font-size="7.5" dy="2.5" font-style="normal">B</tspan></text><path d="M156 216.5 L157 217.3 L157.7 217.7 L158 217.5 L158 216.6 L157.7 215.4 L157.4 214.2 L157.3 213.4 L157.7 213.2 L158.4 213.6 L159.4 214.4 L160.3 215.2 L161.1 215.6 L161.4 215.3 L161.4 214.5 L161.1 213.3 L160.8 212.1 L160.7 211.3 L161.1 211.1 L161.8 211.5 L162.8 212.2 L163.7 213 L164.4 213.4 L164.8 213.2 L164.7 212.4 L164.4 211.2 L164.1 210 L164.1 209.2 L164.4 208.9 L165.2 209.3 L166.1 210.1 L167.1 210.9 L167.8 211.3 L168.2 211.1 L168.1 210.3 L167.8 209.1 L167.7 208.2 L168 207.8 L168.5 207.9 L169.1 208 L169.5 208" fill="none" stroke="#333" stroke-width="1.1"/><polygon points="171.6,206.7 168.7,211.3 168.3,208.8 166.1,207.3" fill="#333"/><path d="M132.5 244.6 L132.9 245.8 L133.3 246.5 L133.8 246.5 L134.2 245.8 L134.6 244.6 L135.1 243.4 L135.5 242.7 L135.9 242.7 L136.3 243.4 L136.8 244.6 L137.2 245.8 L137.6 246.5 L138 246.5 L138.4 245.8 L138.9 244.6 L139.3 243.4 L139.7 242.7 L140.2 242.7 L140.6 243.4 L141 244.6 L141.4 245.8 L141.8 246.5 L142.3 246.5 L142.7 245.8 L143.1 244.6 L143.6 243.4 L144 242.7 L144.4 242.7 L144.8 243.4 L145.2 244.6 L145.7 245.8 L146.1 246.5 L146.5 246.5 L146.9 245.8 L147.4 244.6 L147.8 243.8 L148.2 243.6 L148.7 244 L149.1 244.4 L149.5 244.6" fill="none" stroke="#333" stroke-width="1.1"/><polygon points="152,244.6 147,247 148,244.6 147,242.2" fill="#333"/><line x1="246" y1="149.5" x2="231.5" y2="172.5" stroke="#222" stroke-width="1.3" stroke-dasharray="2 1.6"/><line x1="275" y1="153" x2="262.5" y2="177.5" stroke="#222" stroke-width="1.3" stroke-dasharray="2 1.6"/><line x1="215.5" y1="165.3" x2="226.7" y2="169.7" stroke="#222" stroke-width="1.3"/><polygon points="230,171 223,171.3 225.3,169.2 225.1,166" fill="#222"/><line x1="281.5" y1="181.2" x2="268.8" y2="176.9" stroke="#222" stroke-width="1.3"/><polygon points="265.5,175.8 272.5,175.1 270.3,177.4 270.6,180.5" fill="#222"/><text x="247.5" y="180" font-size="13.5" text-anchor="middle" fill="#111">d</text><line x1="310" y1="169.9" x2="334.8" y2="140.7" stroke="#222" stroke-width="1.3"/><polygon points="337.2,137.8 335.1,145 333.7,141.9 330.4,141.1" fill="#222"/><polygon points="307.6,172.8 309.7,165.6 311.1,168.7 314.4,169.5" fill="#222"/><text x="330" y="165.5" font-size="12.5" text-anchor="middle" fill="#111">P</text><circle cx="337.5" cy="131" r="1.5" fill="#111"/><circle cx="347" cy="132.7" r="1.5" fill="#111"/><circle cx="356" cy="134.6" r="1.5" fill="#111"/><line x1="350" y1="113.8" x2="408.9" y2="127.2" stroke="#c0392b" stroke-width="1.2"/><polygon points="412.6,128 405.2,129.5 407.3,126.8 406.6,123.5" fill="#c0392b"/>
<rect x="414.2" y="7.9" width="218.8" height="249.3" rx="7" fill="none" stroke="#808080" stroke-width="1" stroke-dasharray="3.4 2.9"/><text x="389.3" y="15.6" font-size="17.5" font-weight="bold" fill="#000">b</text><path d="M424.4 12 L424.4 13 L424.5 14 L424.6 15 L424.7 16 L424.9 17 L425.1 18 L425.4 19 L425.7 20 L426 21 L426.4 22 L426.8 23 L427.3 24 L427.7 25 L428.3 26 L428.8 27 L429.3 28 L429.9 29 L430.5 30 L431.2 31 L431.8 32 L432.5 33 L433.1 34 L433.8 35 L434.5 36 L435.2 37 L435.9 38 L436.7 39 L437.4 40 L438.1 41 L438.8 42 L439.5 43 L440.2 44 L440.8 45 L441.5 46 L442.1 47 L442.7 48 L443.3 49 L443.9 50 L444.5 51 L445 52 L445.5 53 L446 54 L446.4 55 L446.8 56 L447.2 57 L447.5 58 L447.8 59 L448 60 L448.2 61 L448.4 62 L448.5 63 L448.6 64 L448.7 65 L448.7 66 L448.6 67 L448.3 68 L448 69 L447.5 70 L446.8 71 L446.1 72 L445.2 73 L444.3 74 L443.2 75 L442.1 76 L441 77 L439.7 78 L438.5 79 L437.2 80 L435.9 81 L434.6 82 L433.4 83 L432.1 84 L431 85 L429.9 86 L428.8 87 L427.9 88 L427 89 L426.3 90 L425.6 91 L425.1 92 L424.8 93 L424.5 94 L424.4 95 L424.4 96 L424.5 97 L424.6 98 L424.7 99 L424.9 100 L425.1 101 L425.3 102 L425.6 103 L425.9 104 L426.3 105 L426.7 106 L427.1 107 L427.6 108 L428.1 109 L428.6 110 L429.2 111 L429.8 112 L430.4 113 L431 114 L431.6 115 L432.3 116 L432.9 117 L433.6 118 L434.3 119 L435 120 L435.7 121 L436.4 122 L437.2 123 L437.9 124 L438.6 125 L439.3 126 L440 127 L440.6 128 L441.3 129 L441.9 130 L442.6 131 L443.2 132 L443.8 133 L444.3 134 L444.8 135 L445.4 136 L445.8 137 L446.3 138 L446.7 139 L447.1 140 L447.4 141 L447.7 142 L448 143 L448.2 144 L448.4 145 L448.5 146 L448.6 147 L448.7 148 L448.7 149 L448.6 150 L448.4 151 L448.1 152 L447.6 153 L447 154 L446.3 155 L445.5 156 L444.6 157 L443.6 158 L442.5 159 L441.3 160 L440.1 161 L438.9 162 L437.6 163 L436.3 164 L435 165 L433.7 166 L432.5 167 L431.3 168 L430.2 169 L429.1 170 L428.1 171 L427.3 172 L426.5 173 L425.8 174 L425.3 175 L424.9 176 L424.6 177 L424.4 178 L424.4 179 L424.4 180 L424.5 181" fill="none" stroke="#1f78b4" stroke-width="5.6"/><path d="M448.2 12 L448.2 13 L448.3 14 L448.4 15 L448.5 16 L448.7 17 L448.9 18 L449.2 19 L449.5 20 L449.8 21 L450.2 22 L450.6 23 L451.1 24 L451.5 25 L452.1 26 L452.6 27 L453.1 28 L453.7 29 L454.3 30 L455 31 L455.6 32 L456.3 33 L456.9 34 L457.6 35 L458.3 36 L459 37 L459.7 38 L460.5 39 L461.2 40 L461.9 41 L462.6 42 L463.3 43 L464 44 L464.6 45 L465.3 46 L465.9 47 L466.5 48 L467.1 49 L467.7 50 L468.3 51 L468.8 52 L469.3 53 L469.8 54 L470.2 55 L470.6 56 L471 57 L471.3 58 L471.6 59 L471.8 60 L472 61 L472.2 62 L472.3 63 L472.4 64 L472.5 65 L472.5 66 L472.4 67 L472.1 68 L471.8 69 L471.3 70 L470.6 71 L469.9 72 L469 73 L468.1 74 L467 75 L465.9 76 L464.8 77 L463.5 78 L462.3 79 L461 80 L459.7 81 L458.4 82 L457.2 83 L455.9 84 L454.8 85 L453.7 86 L452.6 87 L451.7 88 L450.8 89 L450.1 90 L449.4 91 L448.9 92 L448.6 93 L448.3 94 L448.2 95 L448.2 96 L448.3 97 L448.4 98 L448.5 99 L448.7 100 L448.9 101 L449.1 102 L449.4 103 L449.7 104 L450.1 105 L450.5 106 L450.9 107 L451.4 108 L451.9 109 L452.4 110 L453 111 L453.6 112 L454.2 113 L454.8 114 L455.4 115 L456.1 116 L456.7 117 L457.4 118 L458.1 119 L458.8 120 L459.5 121 L460.2 122 L461 123 L461.7 124 L462.4 125 L463.1 126 L463.8 127 L464.4 128 L465.1 129 L465.7 130 L466.4 131 L467 132 L467.6 133 L468.1 134 L468.6 135 L469.2 136 L469.6 137 L470.1 138 L470.5 139 L470.9 140 L471.2 141 L471.5 142 L471.8 143 L472 144 L472.2 145 L472.3 146 L472.4 147 L472.5 148 L472.5 149 L472.4 150 L472.2 151 L471.9 152 L471.4 153 L470.8 154 L470.1 155 L469.3 156 L468.4 157 L467.4 158 L466.3 159 L465.1 160 L463.9 161 L462.7 162 L461.4 163 L460.1 164 L458.8 165 L457.5 166 L456.3 167 L455.1 168 L454 169 L452.9 170 L451.9 171 L451.1 172 L450.3 173 L449.6 174 L449.1 175 L448.7 176 L448.4 177 L448.2 178 L448.2 179 L448.2 180 L448.3 181" fill="none" stroke="#1f78b4" stroke-width="5.6"/><line x1="452" y1="12.5" x2="532" y2="12.5" stroke="#333" stroke-width="1" stroke-dasharray="3 2"/><line x1="476" y1="65.9" x2="500" y2="65.9" stroke="#333" stroke-width="1" stroke-dasharray="3 2"/><line x1="452" y1="95.5" x2="532" y2="95.5" stroke="#333" stroke-width="1" stroke-dasharray="3 2"/><line x1="493.2" y1="17.2" x2="493.2" y2="61.2" stroke="#333" stroke-width="1.2"/><polygon points="493.2,65 490.1,58.2 493.2,59.6 496.3,58.2" fill="#333"/><polygon points="493.2,13.5 496.3,20.3 493.2,18.9 490.1,20.3" fill="#333"/><line x1="493.2" y1="70.8" x2="493.2" y2="91" stroke="#333" stroke-width="1.2"/><polygon points="493.2,94.8 490.1,88 493.2,89.4 496.3,88" fill="#333"/><polygon points="493.2,67 496.3,73.8 493.2,72.4 490.1,73.8" fill="#333"/><line x1="525.6" y1="17.2" x2="525.6" y2="91" stroke="#333" stroke-width="1.2"/><polygon points="525.6,94.8 522.5,88 525.6,89.4 528.7,88" fill="#333"/><polygon points="525.6,13.5 528.7,20.3 525.6,18.9 522.5,20.3" fill="#333"/><text x="497" y="43.5" font-size="12.5" fill="#111">P<tspan font-size="8.5" dy="3">2</tspan></text><text x="497" y="86" font-size="12.5" fill="#111">P<tspan font-size="8.5" dy="3">1</tspan></text><text x="530.5" y="58.5" font-size="12.5" fill="#111">P</text><line x1="561.6" y1="57" x2="561.6" y2="37" stroke="#222" stroke-width="1.1"/><polygon points="561.6,34 564,39.5 561.6,38.3 559.2,39.5" fill="#222"/><line x1="561.1" y1="56.8" x2="581.5" y2="56.8" stroke="#222" stroke-width="1.1"/><polygon points="584.5,56.8 579,59.2 580.2,56.8 579,54.4" fill="#222"/><text x="561" y="30" font-size="13" text-anchor="middle" fill="#111">z</text><text x="590.5" y="61" font-size="13" text-anchor="middle" fill="#111">x</text><line x1="424.6" y1="183" x2="424.6" y2="208" stroke="#333" stroke-width="1" stroke-dasharray="3 2"/><line x1="448.2" y1="183" x2="448.2" y2="208" stroke="#333" stroke-width="1" stroke-dasharray="3 2"/><line x1="428.4" y1="205.7" x2="444.4" y2="205.7" stroke="#333" stroke-width="1.2"/><polygon points="447.6,205.7 441.7,208.4 442.9,205.7 441.7,203" fill="#333"/><polygon points="425.2,205.7 431.1,203 429.9,205.7 431.1,208.4" fill="#333"/><text x="433.5" y="223" font-size="13" text-anchor="middle" fill="#111">d</text><rect x="501" y="110.5" width="120.5" height="121.1" fill="#fff" stroke="#555" stroke-width="0.9"/><line x1="501" y1="171" x2="621.5" y2="171" stroke="#666" stroke-width="1" stroke-dasharray="4 2.5"/><path d="M501 171 L502 170.4 L503 169.7 L504 169.1 L505 168.5 L506 167.9 L507 167.3 L508 166.6 L509 166 L510 165.4 L511 164.8 L512 164.3 L513 163.7 L514.1 163.1 L515.1 162.5 L516.1 162 L517.1 161.5 L518.1 160.9 L519.1 160.4 L520.1 159.9 L521.1 159.4 L522.1 159 L523.1 158.5 L524.1 158.1 L525.1 157.6 L526.1 157.2 L527.1 156.8 L528.1 156.4 L529.1 156.1 L530.1 155.7 L531.1 155.4 L532.1 155.1 L533.1 154.8 L534.1 154.6 L535.1 154.3 L536.1 154.1 L537.1 153.9 L538.2 153.7 L539.2 153.5 L540.2 153.4 L541.2 153.3 L542.2 153.2 L543.2 153.1 L544.2 153 L545.2 153 L546.2 153 L547.2 153 L548.2 153 L549.2 153.1 L550.2 153.2 L551.2 153.3 L552.2 153.4 L553.2 153.5 L554.2 153.7 L555.2 153.9 L556.2 154.1 L557.2 154.3 L558.2 154.6 L559.2 154.8 L560.2 155.1 L561.2 155.4 L562.3 155.7 L563.3 156.1 L564.3 156.4 L565.3 156.8 L566.3 157.2 L567.3 157.6 L568.3 158.1 L569.3 158.5 L570.3 159 L571.3 159.4 L572.3 159.9 L573.3 160.4 L574.3 160.9 L575.3 161.5 L576.3 162 L577.3 162.5 L578.3 163.1 L579.3 163.7 L580.3 164.3 L581.3 164.8 L582.3 165.4 L583.3 166 L584.3 166.6 L585.4 167.3 L586.4 167.9 L587.4 168.5 L588.4 169.1 L589.4 169.7 L590.4 170.4 L591.4 171 L592.4 176.6 L593.4 182.2 L594.4 187.7 L595.4 193 L596.4 198 L597.4 202.7 L598.4 207.1 L599.4 211.1 L600.4 214.7 L601.4 217.8 L602.4 220.3 L603.4 222.4 L604.4 223.8 L605.4 224.7 L606.4 225 L607.4 224.7 L608.4 223.8 L609.5 222.4 L610.5 220.3 L611.5 217.8 L612.5 214.7 L613.5 211.1 L614.5 207.1 L615.5 202.7 L616.5 198 L617.5 193 L618.5 187.7 L619.5 182.2 L620.5 176.6 L621.5 171" fill="none" stroke="#b23a3a" stroke-width="1.6" stroke-dasharray="1.2 1.6"/><path d="M501 171 L502 169.6 L503 168.2 L504 166.8 L505 165.4 L506 164 L507 162.7 L508 161.3 L509 160 L510 158.7 L511 157.5 L512 156.3 L513 155.1 L514.1 154 L515.1 152.9 L516.1 151.9 L517.1 150.9 L518.1 150 L519.1 149.2 L520.1 148.4 L521.1 147.6 L522.1 146.9 L523.1 146.3 L524.1 145.8 L525.1 145.3 L526.1 144.9 L527.1 144.6 L528.1 144.3 L529.1 144.1 L530.1 144 L531.1 144 L532.1 144 L533.1 144.1 L534.1 144.3 L535.1 144.6 L536.1 144.9 L537.1 145.3 L538.2 145.8 L539.2 146.3 L540.2 146.9 L541.2 147.6 L542.2 148.4 L543.2 149.2 L544.2 150 L545.2 150.9 L546.2 151.9 L547.2 152.9 L548.2 154 L549.2 155.1 L550.2 156.3 L551.2 157.5 L552.2 158.7 L553.2 160 L554.2 161.3 L555.2 162.7 L556.2 164 L557.2 165.4 L558.2 166.8 L559.2 168.2 L560.2 169.6 L561.2 171 L562.3 172.4 L563.3 173.8 L564.3 175.2 L565.3 176.6 L566.3 178 L567.3 179.3 L568.3 180.7 L569.3 182 L570.3 183.3 L571.3 184.5 L572.3 185.7 L573.3 186.9 L574.3 188 L575.3 189.1 L576.3 190.1 L577.3 191.1 L578.3 192 L579.3 192.8 L580.3 193.6 L581.3 194.4 L582.3 195.1 L583.3 195.7 L584.3 196.2 L585.4 196.7 L586.4 197.1 L587.4 197.4 L588.4 197.7 L589.4 197.9 L590.4 198 L591.4 198 L592.4 198 L593.4 197.9 L594.4 197.7 L595.4 197.4 L596.4 197.1 L597.4 196.7 L598.4 196.2 L599.4 195.7 L600.4 195.1 L601.4 194.4 L602.4 193.6 L603.4 192.8 L604.4 192 L605.4 191.1 L606.4 190.1 L607.4 189.1 L608.4 188 L609.5 186.9 L610.5 185.7 L611.5 184.5 L612.5 183.3 L613.5 182 L614.5 180.7 L615.5 179.3 L616.5 178 L617.5 176.6 L618.5 175.2 L619.5 173.8 L620.5 172.4 L621.5 171" fill="none" stroke="#1f6b55" stroke-width="1.7" stroke-dasharray="2.6 2"/><path d="M501 171 L502 165.4 L503 159.8 L504 154.3 L505 149 L506 144 L507 139.3 L508 134.9 L509 130.9 L510 127.3 L511 124.2 L512 121.7 L513 119.6 L514.1 118.2 L515.1 117.3 L516.1 117 L517.1 117.3 L518.1 118.2 L519.1 119.6 L520.1 121.7 L521.1 124.2 L522.1 127.3 L523.1 130.9 L524.1 134.9 L525.1 139.3 L526.1 144 L527.1 149 L528.1 154.3 L529.1 159.8 L530.1 165.4 L531.1 171 L532.1 171.6 L533.1 172.3 L534.1 172.9 L535.1 173.5 L536.1 174.1 L537.1 174.7 L538.2 175.4 L539.2 176 L540.2 176.6 L541.2 177.2 L542.2 177.7 L543.2 178.3 L544.2 178.9 L545.2 179.5 L546.2 180 L547.2 180.5 L548.2 181.1 L549.2 181.6 L550.2 182.1 L551.2 182.6 L552.2 183 L553.2 183.5 L554.2 183.9 L555.2 184.4 L556.2 184.8 L557.2 185.2 L558.2 185.6 L559.2 185.9 L560.2 186.3 L561.2 186.6 L562.3 186.9 L563.3 187.2 L564.3 187.4 L565.3 187.7 L566.3 187.9 L567.3 188.1 L568.3 188.3 L569.3 188.5 L570.3 188.6 L571.3 188.7 L572.3 188.8 L573.3 188.9 L574.3 189 L575.3 189 L576.3 189 L577.3 189 L578.3 189 L579.3 188.9 L580.3 188.8 L581.3 188.7 L582.3 188.6 L583.3 188.5 L584.3 188.3 L585.4 188.1 L586.4 187.9 L587.4 187.7 L588.4 187.4 L589.4 187.2 L590.4 186.9 L591.4 186.6 L592.4 186.3 L593.4 185.9 L594.4 185.6 L595.4 185.2 L596.4 184.8 L597.4 184.4 L598.4 183.9 L599.4 183.5 L600.4 183 L601.4 182.6 L602.4 182.1 L603.4 181.6 L604.4 181.1 L605.4 180.5 L606.4 180 L607.4 179.5 L608.4 178.9 L609.5 178.3 L610.5 177.7 L611.5 177.2 L612.5 176.6 L613.5 176 L614.5 175.4 L615.5 174.7 L616.5 174.1 L617.5 173.5 L618.5 172.9 L619.5 172.3 L620.5 171.6 L621.5 171" fill="none" stroke="#1f6a9e" stroke-width="1.6"/><line x1="561.2" y1="231.6" x2="561.2" y2="229.1" stroke="#555" stroke-width="0.8"/><line x1="556.5" y1="118.0" x2="569" y2="118.0" stroke="#1f6a9e" stroke-width="1.7"/><text x="572" y="122.2" font-size="12" fill="#111">η = 0.25</text><line x1="556.5" y1="133.4" x2="569" y2="133.4" stroke="#1f6b55" stroke-width="1.7" stroke-dasharray="2.4 1.8"/><text x="572" y="137.6" font-size="12" fill="#111">η = 0.50</text><line x1="556.5" y1="148.8" x2="569" y2="148.8" stroke="#b23a3a" stroke-width="1.7" stroke-dasharray="1.2 1.5"/><text x="572" y="153" font-size="12" fill="#111">η = 0.75</text><text x="501" y="246" font-size="12" text-anchor="middle" fill="#111">0</text><text x="620.5" y="246" font-size="12" text-anchor="middle" fill="#111">1</text><text x="561" y="246.5" font-size="12" text-anchor="middle" fill="#111">Z/P</text><text x="0" y="0" font-size="12" text-anchor="middle" fill="#111" transform="translate(493.5,172.5) rotate(-90)">G(z)</text>
<text x="0.5" y="283.5" font-size="18" font-weight="bold" fill="#000">c</text><line x1="64.5" y1="533.2" x2="64.5" y2="305.1" stroke="#e4e4e4" stroke-width="0.8"/><line x1="182.9" y1="534.9" x2="182.9" y2="306.8" stroke="#e4e4e4" stroke-width="0.8"/><line x1="144.4" y1="562.2" x2="64.5" y2="533.2" stroke="#e4e4e4" stroke-width="0.8"/><line x1="91.6" y1="556.9" x2="222.8" y2="549.4" stroke="#e4e4e4" stroke-width="0.8"/><line x1="97.3" y1="531.4" x2="97.3" y2="303.2" stroke="#e4e4e4" stroke-width="0.8"/><line x1="202.8" y1="542.1" x2="202.8" y2="314" stroke="#e4e4e4" stroke-width="0.8"/><line x1="177.2" y1="560.4" x2="97.3" y2="531.4" stroke="#e4e4e4" stroke-width="0.8"/><line x1="71.6" y1="549.6" x2="202.8" y2="542.1" stroke="#e4e4e4" stroke-width="0.8"/><line x1="130.1" y1="529.5" x2="130.1" y2="301.4" stroke="#e4e4e4" stroke-width="0.8"/><line x1="222.8" y1="549.4" x2="222.8" y2="321.2" stroke="#e4e4e4" stroke-width="0.8"/><line x1="210" y1="558.5" x2="130.1" y2="529.5" stroke="#e4e4e4" stroke-width="0.8"/><line x1="51.7" y1="542.4" x2="182.9" y2="534.9" stroke="#e4e4e4" stroke-width="0.8"/><line x1="31.7" y1="517.5" x2="162.9" y2="510" stroke="#e4e4e4" stroke-width="0.8"/><line x1="162.9" y1="510" x2="242.8" y2="539" stroke="#e4e4e4" stroke-width="0.8"/><line x1="31.7" y1="472.2" x2="162.9" y2="464.7" stroke="#e4e4e4" stroke-width="0.8"/><line x1="162.9" y1="464.7" x2="242.8" y2="493.7" stroke="#e4e4e4" stroke-width="0.8"/><line x1="31.7" y1="426.9" x2="162.9" y2="419.4" stroke="#e4e4e4" stroke-width="0.8"/><line x1="162.9" y1="419.4" x2="242.8" y2="448.4" stroke="#e4e4e4" stroke-width="0.8"/><line x1="31.7" y1="381.6" x2="162.9" y2="374.1" stroke="#e4e4e4" stroke-width="0.8"/><line x1="162.9" y1="374.1" x2="242.8" y2="403.1" stroke="#e4e4e4" stroke-width="0.8"/><line x1="31.7" y1="336.3" x2="162.9" y2="328.8" stroke="#e4e4e4" stroke-width="0.8"/><line x1="162.9" y1="328.8" x2="242.8" y2="357.8" stroke="#e4e4e4" stroke-width="0.8"/><path d="M31.7 535.1 L31.7 307 L162.9 299.5 L242.8 328.5 L242.8 556.6" fill="none" stroke="#7a7a7a" stroke-width="1"/><line x1="162.9" y1="299.5" x2="162.9" y2="527.6" stroke="#7a7a7a" stroke-width="1"/><path d="M31.7 535.1 L111.6 564.1 L242.8 556.6" fill="none" stroke="#7a7a7a" stroke-width="1"/><path d="M31.7 535.1 L162.9 527.6 L242.8 556.6" fill="none" stroke="#999" stroke-width="0.8"/><g stroke-width="0.7"><path fill="#b14d57" stroke="#b14d57" d="M182.9 516.9 L172.9 516.8 L159.5 513.6 L162.9 516 L172.9 516.8 L182.9 516.9Z"/><path fill="#ad4b55" stroke="#ad4b55" d="M182.9 516.9 L169.7 514.1 L156 510.7 L159.5 513.6 L172.9 516.8 L182.9 516.9Z"/><path fill="#a94852" stroke="#a94852" d="M180 514.6 L166.2 511.2 L152.6 507.8 L156 510.7 L169.7 514.1 L182.9 516.9Z"/><path fill="#aa4953" stroke="#aa4953" d="M202.8 517.7 L192.9 517.1 L180 514.6 L182.9 516.9 L192.9 517.1 L202.8 517.7Z"/><path fill="#a4454f" stroke="#a4454f" d="M176.3 511.9 L162.6 508.5 L149.2 505.1 L152.6 507.8 L166.2 511.2 L180 514.6Z"/><path fill="#a64650" stroke="#a64650" d="M202.8 517.7 L190.3 515.3 L176.3 511.9 L180 514.6 L192.9 517.1 L202.8 517.7Z"/><path fill="#a0424c" stroke="#a0424c" d="M172.7 509.5 L159.1 506.1 L145.7 502.6 L149.2 505.1 L162.6 508.5 L176.3 511.9Z"/><path fill="#a1434d" stroke="#a1434d" d="M200.6 516.3 L186.5 512.9 L172.7 509.5 L176.3 511.9 L190.3 515.3 L202.8 517.7Z"/><path fill="#a3444e" stroke="#a3444e" d="M222.8 519.8 L212.8 518.5 L200.6 516.3 L202.8 517.7 L212.8 518.5 L222.8 519.8Z"/><path fill="#9c404a" stroke="#9c404a" d="M169 507.4 L155.6 503.9 L142.3 500.5 L145.7 502.6 L159.1 506.1 L172.7 509.5Z"/><path fill="#9e414b" stroke="#9e414b" d="M196.7 514.2 L182.7 510.8 L169 507.4 L172.7 509.5 L186.5 512.9 L200.6 516.3Z"/><path fill="#9f424c" stroke="#9f424c" d="M222.8 519.8 L210.9 517.6 L196.7 514.2 L200.6 516.3 L212.8 518.5 L222.8 519.8Z"/><path fill="#993e48" stroke="#993e48" d="M165.4 505.6 L152 502.2 L138.9 498.7 L142.3 500.5 L155.6 503.9 L169 507.4Z"/><path fill="#9a3f49" stroke="#9a3f49" d="M192.8 512.4 L179 509 L165.4 505.6 L169 507.4 L182.7 510.8 L196.7 514.2Z"/><path fill="#9c404a" stroke="#9c404a" d="M221.2 519.2 L206.9 515.8 L192.8 512.4 L196.7 514.2 L210.9 517.6 L222.8 519.8Z"/><path fill="#9d414b" stroke="#9d414b" d="M242.8 523.6 L232.8 521.5 L221.2 519.2 L222.8 519.8 L232.8 521.5 L242.8 523.6Z"/><path fill="#963c46" stroke="#963c46" d="M161.8 504.2 L148.5 500.7 L135.4 497.3 L138.9 498.7 L152 502.2 L165.4 505.6Z"/><path fill="#973d47" stroke="#973d47" d="M188.9 511 L175.2 507.6 L161.8 504.2 L165.4 505.6 L179 509 L192.8 512.4Z"/><path fill="#993e48" stroke="#993e48" d="M217.1 517.8 L202.9 514.4 L188.9 511 L192.8 512.4 L206.9 515.8 L221.2 519.2Z"/><path fill="#9a3f49" stroke="#9a3f49" d="M242.8 523.6 L231.6 521.1 L217.1 517.8 L221.2 519.2 L232.8 521.5 L242.8 523.6Z"/><path fill="#943b45" stroke="#943b45" d="M158.1 503 L145 499.6 L132 496.1 L135.4 497.3 L148.5 500.7 L161.8 504.2Z"/><path fill="#963c46" stroke="#963c46" d="M185 509.9 L171.5 506.5 L158.1 503 L161.8 504.2 L175.2 507.6 L188.9 511Z"/><path fill="#973d47" stroke="#973d47" d="M212.9 516.7 L198.8 513.3 L185 509.9 L188.9 511 L202.9 514.4 L217.1 517.8Z"/><path fill="#993e48" stroke="#993e48" d="M242 523.4 L227.3 520.1 L212.9 516.7 L217.1 517.8 L231.6 521.1 L242.8 523.6Z"/><path fill="#953b45" stroke="#953b45" d="M154.5 502.2 L141.4 498.7 L128.6 495.3 L132 496.1 L145 499.6 L158.1 503Z"/><path fill="#963c46" stroke="#963c46" d="M181.2 509.1 L167.7 505.6 L154.5 502.2 L158.1 503 L171.5 506.5 L185 509.9Z"/><path fill="#983d47" stroke="#983d47" d="M208.8 515.9 L194.8 512.5 L181.2 509.1 L185 509.9 L198.8 513.3 L212.9 516.7Z"/><path fill="#993e48" stroke="#993e48" d="M237.5 522.6 L223 519.3 L208.8 515.9 L212.9 516.7 L227.3 520.1 L242 523.4Z"/><path fill="#973d47" stroke="#973d47" d="M150.8 501.5 L137.9 498.1 L125.1 494.6 L128.6 495.3 L141.4 498.7 L154.5 502.2Z"/><path fill="#983e48" stroke="#983e48" d="M177.3 508.4 L164 505 L150.8 501.5 L154.5 502.2 L167.7 505.6 L181.2 509.1Z"/><path fill="#9a3e48" stroke="#9a3e48" d="M204.6 515.2 L190.8 511.8 L177.3 508.4 L181.2 509.1 L194.8 512.5 L208.8 515.9Z"/><path fill="#9b3f49" stroke="#9b3f49" d="M233.1 522 L218.7 518.6 L204.6 515.2 L208.8 515.9 L223 519.3 L237.5 522.6Z"/><path fill="#9a3f49" stroke="#9a3f49" d="M147.2 501 L134.4 497.5 L121.7 494 L125.1 494.6 L137.9 498.1 L150.8 501.5Z"/><path fill="#9b3f49" stroke="#9b3f49" d="M173.4 507.9 L160.2 504.4 L147.2 501 L150.8 501.5 L164 505 L177.3 508.4Z"/><path fill="#9d404a" stroke="#9d404a" d="M200.5 514.7 L186.8 511.3 L173.4 507.9 L177.3 508.4 L190.8 511.8 L204.6 515.2Z"/><path fill="#9e414b" stroke="#9e414b" d="M228.6 521.5 L214.4 518.1 L200.5 514.7 L204.6 515.2 L218.7 518.6 L233.1 522Z"/><path fill="#9d414b" stroke="#9d414b" d="M143.5 500.4 L130.8 496.9 L118.3 493.4 L121.7 494 L134.4 497.5 L147.2 501Z"/><path fill="#9f424c" stroke="#9f424c" d="M169.5 507.3 L156.4 503.8 L143.5 500.4 L147.2 501 L160.2 504.4 L173.4 507.9Z"/><path fill="#a0434d" stroke="#a0434d" d="M196.3 514.1 L182.8 510.7 L169.5 507.3 L173.4 507.9 L186.8 511.3 L200.5 514.7Z"/><path fill="#a2444e" stroke="#a2444e" d="M224.1 520.9 L210.1 517.6 L196.3 514.1 L200.5 514.7 L214.4 518.1 L228.6 521.5Z"/><path fill="#a1434d" stroke="#a1434d" d="M139.9 499.6 L127.3 496.2 L114.8 492.7 L118.3 493.4 L130.8 496.9 L143.5 500.4Z"/><path fill="#a3444e" stroke="#a3444e" d="M165.6 506.6 L152.7 503.1 L139.9 499.6 L143.5 500.4 L156.4 503.8 L169.5 507.3Z"/><path fill="#a4454f" stroke="#a4454f" d="M192.2 513.4 L178.8 510 L165.6 506.6 L169.5 507.3 L182.8 510.7 L196.3 514.1Z"/><path fill="#a64650" stroke="#a64650" d="M219.7 520.3 L205.8 516.9 L192.2 513.4 L196.3 514.1 L210.1 517.6 L224.1 520.9Z"/><path fill="#a64650" stroke="#a64650" d="M136.3 498.6 L123.8 495.2 L111.4 491.7 L114.8 492.7 L127.3 496.2 L139.9 499.6Z"/><path fill="#a74751" stroke="#a74751" d="M161.8 505.6 L148.9 502.1 L136.3 498.6 L139.9 499.6 L152.7 503.1 L165.6 506.6Z"/><path fill="#a94852" stroke="#a94852" d="M188 512.5 L174.8 509 L161.8 505.6 L165.6 506.6 L178.8 510 L192.2 513.4Z"/><path fill="#aa4953" stroke="#aa4953" d="M215.2 519.3 L201.5 515.9 L188 512.5 L192.2 513.4 L205.8 516.9 L219.7 520.3Z"/><path fill="#aa4953" stroke="#aa4953" d="M132.6 497.2 L120.2 493.8 L108 490.3 L111.4 491.7 L123.8 495.2 L136.3 498.6Z"/><path fill="#ac4a54" stroke="#ac4a54" d="M157.9 504.2 L145.2 500.7 L132.6 497.2 L136.3 498.6 L148.9 502.1 L161.8 505.6Z"/><path fill="#ad4b55" stroke="#ad4b55" d="M183.9 511.1 L170.8 507.7 L157.9 504.2 L161.8 505.6 L174.8 509 L188 512.5Z"/><path fill="#ae4c56" stroke="#ae4c56" d="M210.8 518 L197.2 514.5 L183.9 511.1 L188 512.5 L201.5 515.9 L215.2 519.3Z"/><path fill="#ae4c56" stroke="#ae4c56" d="M129 495.4 L116.7 491.9 L104.5 488.4 L108 490.3 L120.2 493.8 L132.6 497.2Z"/><path fill="#b04d57" stroke="#b04d57" d="M154 502.3 L141.4 498.9 L129 495.4 L132.6 497.2 L145.2 500.7 L157.9 504.2Z"/><path fill="#b14d57" stroke="#b14d57" d="M179.7 509.3 L166.8 505.8 L154 502.3 L157.9 504.2 L170.8 507.7 L183.9 511.1Z"/><path fill="#b34e58" stroke="#b34e58" d="M206.3 516.1 L192.9 512.7 L179.7 509.3 L183.9 511.1 L197.2 514.5 L210.8 518Z"/><path fill="#b24e58" stroke="#b24e58" d="M125.3 492.7 L113.2 489.2 L101.1 485.7 L104.5 488.4 L116.7 491.9 L129 495.4Z"/><path fill="#b44f59" stroke="#b44f59" d="M150.1 499.7 L137.6 496.2 L125.3 492.7 L129 495.4 L141.4 498.9 L154 502.3Z"/><path fill="#b5505a" stroke="#b5505a" d="M175.6 506.6 L162.7 503.2 L150.1 499.7 L154 502.3 L166.8 505.8 L179.7 509.3Z"/><path fill="#b7515b" stroke="#b7515b" d="M201.8 513.5 L188.6 510.1 L175.6 506.6 L179.7 509.3 L192.9 512.7 L206.3 516.1Z"/><path fill="#b6515b" stroke="#b6515b" d="M121.7 489.1 L109.6 485.6 L97.7 482.1 L101.1 485.7 L113.2 489.2 L125.3 492.7Z"/><path fill="#b8515b" stroke="#b8515b" d="M146.2 496.1 L133.9 492.6 L121.7 489.1 L125.3 492.7 L137.6 496.2 L150.1 499.7Z"/><path fill="#b9525c" stroke="#b9525c" d="M171.4 503.1 L158.7 499.6 L146.2 496.1 L150.1 499.7 L162.7 503.2 L175.6 506.6Z"/><path fill="#ba535d" stroke="#ba535d" d="M197.4 510 L184.3 506.6 L171.4 503.1 L175.6 506.6 L188.6 510.1 L201.8 513.5Z"/><path fill="#b9535d" stroke="#b9535d" d="M118 485.1 L106.1 481.6 L94.2 478.1 L97.7 482.1 L109.6 485.6 L121.7 489.1Z"/><path fill="#bb545e" stroke="#bb545e" d="M142.3 492.1 L130.1 488.6 L118 485.1 L121.7 489.1 L133.9 492.6 L146.2 496.1Z"/><path fill="#bc545e" stroke="#bc545e" d="M167.3 499.1 L154.7 495.6 L142.3 492.1 L146.2 496.1 L158.7 499.6 L171.4 503.1Z"/><path fill="#be555f" stroke="#be555f" d="M192.9 506 L180 502.6 L167.3 499.1 L171.4 503.1 L184.3 506.6 L197.4 510Z"/><path fill="#bc545e" stroke="#bc545e" d="M114.4 480.7 L102.6 477.2 L90.8 473.7 L94.2 478.1 L106.1 481.6 L118 485.1Z"/><path fill="#bd555f" stroke="#bd555f" d="M138.5 487.8 L126.4 484.3 L114.4 480.7 L118 485.1 L130.1 488.6 L142.3 492.1Z"/><path fill="#bf5660" stroke="#bf5660" d="M163.1 494.7 L150.7 491.3 L138.5 487.8 L142.3 492.1 L154.7 495.6 L167.3 499.1Z"/><path fill="#c05761" stroke="#c05761" d="M188.4 501.7 L175.7 498.2 L163.1 494.7 L167.3 499.1 L180 502.6 L192.9 506Z"/><path fill="#be555f" stroke="#be555f" d="M110.8 476.1 L99 472.5 L87.4 469 L90.8 473.7 L102.6 477.2 L114.4 480.7Z"/><path fill="#bf5660" stroke="#bf5660" d="M134.6 483.1 L122.6 479.6 L110.8 476.1 L114.4 480.7 L126.4 484.3 L138.5 487.8Z"/><path fill="#c15761" stroke="#c15761" d="M159 490.1 L146.7 486.6 L134.6 483.1 L138.5 487.8 L150.7 491.3 L163.1 494.7Z"/><path fill="#c25862" stroke="#c25862" d="M184 497.1 L171.4 493.6 L159 490.1 L163.1 494.7 L175.7 498.2 L188.4 501.7Z"/></g><polygon points="31.7,472.2 162.9,464.7 242.8,493.7 111.6,501.2" fill="#303030" fill-opacity="0.23"/><g stroke-width="0.7"><path fill="#bf5660" stroke="#bf5660" d="M109.1 473.9 L97.4 470.4 L85.8 466.8 L87.4 469 L99 472.5 L110.8 476.1Z"/><path fill="#c05761" stroke="#c05761" d="M132.8 480.9 L120.9 477.4 L109.1 473.9 L110.8 476.1 L122.6 479.6 L134.6 483.1Z"/><path fill="#c25862" stroke="#c25862" d="M157.1 487.9 L144.9 484.4 L132.8 480.9 L134.6 483.1 L146.7 486.6 L159 490.1Z"/><path fill="#c35963" stroke="#c35963" d="M182 494.9 L169.4 491.4 L157.1 487.9 L159 490.1 L171.4 493.6 L184 497.1Z"/><path fill="#bf5660" stroke="#bf5660" d="M107.5 471.7 L95.8 468.2 L84.3 464.6 L85.8 466.8 L97.4 470.4 L109.1 473.9Z"/><path fill="#c15761" stroke="#c15761" d="M131.1 478.8 L119.2 475.2 L107.5 471.7 L109.1 473.9 L120.9 477.4 L132.8 480.9Z"/><path fill="#c25862" stroke="#c25862" d="M155.2 485.8 L143.1 482.3 L131.1 478.8 L132.8 480.9 L144.9 484.4 L157.1 487.9Z"/><path fill="#c35963" stroke="#c35963" d="M180 492.7 L167.5 489.3 L155.2 485.8 L157.1 487.9 L169.4 491.4 L182 494.9Z"/><path fill="#bf5660" stroke="#bf5660" d="M105.8 469.5 L94.2 466 L82.7 462.4 L84.3 464.6 L95.8 468.2 L107.5 471.7Z"/><path fill="#c15761" stroke="#c15761" d="M129.3 476.6 L117.5 473 L105.8 469.5 L107.5 471.7 L119.2 475.2 L131.1 478.8Z"/><path fill="#c25862" stroke="#c25862" d="M153.3 483.6 L141.3 480.1 L129.3 476.6 L131.1 478.8 L143.1 482.3 L155.2 485.8Z"/><path fill="#c45963" stroke="#c45963" d="M177.9 490.6 L165.6 487.1 L153.3 483.6 L155.2 485.8 L167.5 489.3 L180 492.7Z"/><path fill="#bf5660" stroke="#bf5660" d="M104.2 467.3 L92.6 463.8 L81.2 460.2 L82.7 462.4 L94.2 466 L105.8 469.5Z"/><path fill="#c15761" stroke="#c15761" d="M127.6 474.4 L115.8 470.8 L104.2 467.3 L105.8 469.5 L117.5 473 L129.3 476.6Z"/><path fill="#c25862" stroke="#c25862" d="M151.5 481.4 L139.5 477.9 L127.6 474.4 L129.3 476.6 L141.3 480.1 L153.3 483.6Z"/><path fill="#c45963" stroke="#c45963" d="M175.9 488.4 L163.6 484.9 L151.5 481.4 L153.3 483.6 L165.6 487.1 L177.9 490.6Z"/><path fill="#bf5660" stroke="#bf5660" d="M102.6 465.1 L91.1 461.6 L79.6 458 L81.2 460.2 L92.6 463.8 L104.2 467.3Z"/><path fill="#c15761" stroke="#c15761" d="M125.8 472.2 L114.1 468.6 L102.6 465.1 L104.2 467.3 L115.8 470.8 L127.6 474.4Z"/><path fill="#c25862" stroke="#c25862" d="M149.6 479.2 L137.7 475.7 L125.8 472.2 L127.6 474.4 L139.5 477.9 L151.5 481.4Z"/><path fill="#c45963" stroke="#c45963" d="M173.9 486.2 L161.7 482.7 L149.6 479.2 L151.5 481.4 L163.6 484.9 L175.9 488.4Z"/><path fill="#bf5660" stroke="#bf5660" d="M100.9 462.9 L89.5 459.4 L78.1 455.8 L79.6 458 L91.1 461.6 L102.6 465.1Z"/><path fill="#c05761" stroke="#c05761" d="M124.1 470 L112.5 466.4 L100.9 462.9 L102.6 465.1 L114.1 468.6 L125.8 472.2Z"/><path fill="#c25862" stroke="#c25862" d="M147.7 477 L135.9 473.5 L124.1 470 L125.8 472.2 L137.7 475.7 L149.6 479.2Z"/><path fill="#c35963" stroke="#c35963" d="M171.9 484 L159.7 480.5 L147.7 477 L149.6 479.2 L161.7 482.7 L173.9 486.2Z"/><path fill="#bf5660" stroke="#bf5660" d="M99.3 460.7 L87.9 457.2 L76.5 453.7 L78.1 455.8 L89.5 459.4 L100.9 462.9Z"/><path fill="#c05761" stroke="#c05761" d="M122.3 467.8 L110.8 464.3 L99.3 460.7 L100.9 462.9 L112.5 466.4 L124.1 470Z"/><path fill="#c15862" stroke="#c15862" d="M145.9 474.9 L134 471.3 L122.3 467.8 L124.1 470 L135.9 473.5 L147.7 477Z"/><path fill="#c35963" stroke="#c35963" d="M169.9 481.9 L157.8 478.4 L145.9 474.9 L147.7 477 L159.7 480.5 L171.9 484Z"/><path fill="#be5660" stroke="#be5660" d="M97.6 458.6 L86.3 455.1 L75 451.5 L76.5 453.7 L87.9 457.2 L99.3 460.7Z"/><path fill="#bf5761" stroke="#bf5761" d="M120.6 465.7 L109.1 462.2 L97.6 458.6 L99.3 460.7 L110.8 464.3 L122.3 467.8Z"/><path fill="#c15761" stroke="#c15761" d="M144 472.8 L132.2 469.2 L120.6 465.7 L122.3 467.8 L134 471.3 L145.9 474.9Z"/><path fill="#c25862" stroke="#c25862" d="M167.9 479.8 L155.9 476.3 L144 472.8 L145.9 474.9 L157.8 478.4 L169.9 481.9Z"/><path fill="#bd555f" stroke="#bd555f" d="M96 456.6 L84.7 453 L73.5 449.5 L75 451.5 L86.3 455.1 L97.6 458.6Z"/><path fill="#bf5660" stroke="#bf5660" d="M118.9 463.6 L107.4 460.1 L96 456.6 L97.6 458.6 L109.1 462.2 L120.6 465.7Z"/><path fill="#c05761" stroke="#c05761" d="M142.1 470.7 L130.4 467.2 L118.9 463.6 L120.6 465.7 L132.2 469.2 L144 472.8Z"/><path fill="#c25862" stroke="#c25862" d="M165.9 477.7 L153.9 474.2 L142.1 470.7 L144 472.8 L155.9 476.3 L167.9 479.8Z"/><path fill="#bc555f" stroke="#bc555f" d="M94.3 454.5 L83.1 451 L71.9 447.4 L73.5 449.5 L84.7 453 L96 456.6Z"/><path fill="#be5660" stroke="#be5660" d="M117.1 461.6 L105.7 458.1 L94.3 454.5 L96 456.6 L107.4 460.1 L118.9 463.6Z"/><path fill="#bf5660" stroke="#bf5660" d="M140.3 468.7 L128.6 465.2 L117.1 461.6 L118.9 463.6 L130.4 467.2 L142.1 470.7Z"/><path fill="#c15761" stroke="#c15761" d="M163.9 475.7 L152 472.2 L140.3 468.7 L142.1 470.7 L153.9 474.2 L165.9 477.7Z"/><path fill="#bb545e" stroke="#bb545e" d="M92.7 452.6 L81.5 449 L70.4 445.5 L71.9 447.4 L83.1 451 L94.3 454.5Z"/><path fill="#bd555f" stroke="#bd555f" d="M115.4 459.7 L104 456.1 L92.7 452.6 L94.3 454.5 L105.7 458.1 L117.1 461.6Z"/><path fill="#be5660" stroke="#be5660" d="M138.4 466.8 L126.8 463.2 L115.4 459.7 L117.1 461.6 L128.6 465.2 L140.3 468.7Z"/><path fill="#c05761" stroke="#c05761" d="M161.9 473.8 L150.1 470.3 L138.4 466.8 L140.3 468.7 L152 472.2 L163.9 475.7Z"/><path fill="#ba535d" stroke="#ba535d" d="M91.1 450.7 L79.9 447.2 L68.8 443.6 L70.4 445.5 L81.5 449 L92.7 452.6Z"/><path fill="#bc545e" stroke="#bc545e" d="M113.6 457.8 L102.3 454.3 L91.1 450.7 L92.7 452.6 L104 456.1 L115.4 459.7Z"/><path fill="#bd555f" stroke="#bd555f" d="M136.5 464.9 L125 461.4 L113.6 457.8 L115.4 459.7 L126.8 463.2 L138.4 466.8Z"/><path fill="#bf5660" stroke="#bf5660" d="M159.9 472 L148.1 468.4 L136.5 464.9 L138.4 466.8 L150.1 470.3 L161.9 473.8Z"/><path fill="#b9525c" stroke="#b9525c" d="M89.4 448.9 L78.3 445.4 L67.3 441.8 L68.8 443.6 L79.9 447.2 L91.1 450.7Z"/><path fill="#ba535d" stroke="#ba535d" d="M111.9 456 L100.6 452.5 L89.4 448.9 L91.1 450.7 L102.3 454.3 L113.6 457.8Z"/><path fill="#bc545e" stroke="#bc545e" d="M134.6 463.1 L123.2 459.6 L111.9 456 L113.6 457.8 L125 461.4 L136.5 464.9Z"/><path fill="#bd555f" stroke="#bd555f" d="M157.8 470.2 L146.2 466.7 L134.6 463.1 L136.5 464.9 L148.1 468.4 L159.9 472Z"/><path fill="#b8525c" stroke="#b8525c" d="M87.8 447.2 L76.7 443.7 L65.7 440.1 L67.3 441.8 L78.3 445.4 L89.4 448.9Z"/><path fill="#b9525c" stroke="#b9525c" d="M110.1 454.3 L98.9 450.8 L87.8 447.2 L89.4 448.9 L100.6 452.5 L111.9 456Z"/><path fill="#ba535d" stroke="#ba535d" d="M132.8 461.4 L121.4 457.9 L110.1 454.3 L111.9 456 L123.2 459.6 L134.6 463.1Z"/><path fill="#bc545e" stroke="#bc545e" d="M155.8 468.5 L144.2 465 L132.8 461.4 L134.6 463.1 L146.2 466.7 L157.8 470.2Z"/><path fill="#b6515b" stroke="#b6515b" d="M86.1 445.6 L75.1 442 L64.2 438.5 L65.7 440.1 L76.7 443.7 L87.8 447.2Z"/><path fill="#b8515b" stroke="#b8515b" d="M108.4 452.7 L97.2 449.2 L86.1 445.6 L87.8 447.2 L98.9 450.8 L110.1 454.3Z"/><path fill="#b9525c" stroke="#b9525c" d="M130.9 459.8 L119.6 456.3 L108.4 452.7 L110.1 454.3 L121.4 457.9 L132.8 461.4Z"/><path fill="#ba535d" stroke="#ba535d" d="M153.8 466.9 L142.3 463.4 L130.9 459.8 L132.8 461.4 L144.2 465 L155.8 468.5Z"/><path fill="#b4505a" stroke="#b4505a" d="M84.5 444.1 L73.5 440.5 L62.6 437 L64.2 438.5 L75.1 442 L86.1 445.6Z"/><path fill="#b6505a" stroke="#b6505a" d="M106.6 451.2 L95.5 447.7 L84.5 444.1 L86.1 445.6 L97.2 449.2 L108.4 452.7Z"/><path fill="#b7515b" stroke="#b7515b" d="M129 458.3 L117.8 454.8 L106.6 451.2 L108.4 452.7 L119.6 456.3 L130.9 459.8Z"/><path fill="#b9525c" stroke="#b9525c" d="M151.8 465.4 L140.4 461.9 L129 458.3 L130.9 459.8 L142.3 463.4 L153.8 466.9Z"/><path fill="#b34e58" stroke="#b34e58" d="M82.9 442.7 L71.9 439.1 L61.1 435.5 L62.6 437 L73.5 440.5 L84.5 444.1Z"/><path fill="#b44f59" stroke="#b44f59" d="M104.9 449.8 L93.8 446.3 L82.9 442.7 L84.5 444.1 L95.5 447.7 L106.6 451.2Z"/><path fill="#b6505a" stroke="#b6505a" d="M127.2 456.9 L116 453.4 L104.9 449.8 L106.6 451.2 L117.8 454.8 L129 458.3Z"/><path fill="#b7515b" stroke="#b7515b" d="M149.8 464 L138.4 460.5 L127.2 456.9 L129 458.3 L140.4 461.9 L151.8 465.4Z"/><path fill="#b14d57" stroke="#b14d57" d="M81.2 441.4 L70.4 437.8 L59.5 434.2 L61.1 435.5 L71.9 439.1 L82.9 442.7Z"/><path fill="#b24e58" stroke="#b24e58" d="M103.1 448.5 L92.1 445 L81.2 441.4 L82.9 442.7 L93.8 446.3 L104.9 449.8Z"/><path fill="#b44f59" stroke="#b44f59" d="M125.3 455.7 L114.2 452.1 L103.1 448.5 L104.9 449.8 L116 453.4 L127.2 456.9Z"/><path fill="#b5505a" stroke="#b5505a" d="M147.8 462.8 L136.5 459.2 L125.3 455.7 L127.2 456.9 L138.4 460.5 L149.8 464Z"/><path fill="#af4c56" stroke="#af4c56" d="M79.6 440.2 L68.8 436.6 L58 433 L59.5 434.2 L70.4 437.8 L81.2 441.4Z"/><path fill="#b14d57" stroke="#b14d57" d="M101.4 447.3 L90.4 443.8 L79.6 440.2 L81.2 441.4 L92.1 445 L103.1 448.5Z"/><path fill="#b24e58" stroke="#b24e58" d="M123.4 454.5 L112.4 450.9 L101.4 447.3 L103.1 448.5 L114.2 452.1 L125.3 455.7Z"/><path fill="#b44f59" stroke="#b44f59" d="M145.8 461.6 L134.6 458 L123.4 454.5 L125.3 455.7 L136.5 459.2 L147.8 462.8Z"/><path fill="#ad4b55" stroke="#ad4b55" d="M77.9 439.1 L67.2 435.5 L56.4 432 L58 433 L68.8 436.6 L79.6 440.2Z"/><path fill="#af4c56" stroke="#af4c56" d="M99.6 446.3 L88.8 442.7 L77.9 439.1 L79.6 440.2 L90.4 443.8 L101.4 447.3Z"/><path fill="#b04d57" stroke="#b04d57" d="M121.5 453.4 L110.6 449.8 L99.6 446.3 L101.4 447.3 L112.4 450.9 L123.4 454.5Z"/><path fill="#b24e58" stroke="#b24e58" d="M143.8 460.5 L132.6 457 L121.5 453.4 L123.4 454.5 L134.6 458 L145.8 461.6Z"/><path fill="#ab4a54" stroke="#ab4a54" d="M76.3 438.2 L65.6 434.6 L54.9 431 L56.4 432 L67.2 435.5 L77.9 439.1Z"/><path fill="#ad4b55" stroke="#ad4b55" d="M97.9 445.3 L87.1 441.7 L76.3 438.2 L77.9 439.1 L88.8 442.7 L99.6 446.3Z"/><path fill="#ae4c56" stroke="#ae4c56" d="M119.7 452.5 L108.7 448.9 L97.9 445.3 L99.6 446.3 L110.6 449.8 L121.5 453.4Z"/><path fill="#b04c56" stroke="#b04c56" d="M141.8 459.6 L130.7 456 L119.7 452.5 L121.5 453.4 L132.6 457 L143.8 460.5Z"/><path fill="#a94852" stroke="#a94852" d="M74.7 437.3 L64 433.7 L53.4 430.1 L54.9 431 L65.6 434.6 L76.3 438.2Z"/><path fill="#ab4953" stroke="#ab4953" d="M96.1 444.5 L85.4 440.9 L74.7 437.3 L76.3 438.2 L87.1 441.7 L97.9 445.3Z"/><path fill="#ac4a54" stroke="#ac4a54" d="M117.8 451.6 L106.9 448 L96.1 444.5 L97.9 445.3 L108.7 448.9 L119.7 452.5Z"/><path fill="#ae4b55" stroke="#ae4b55" d="M139.7 458.8 L128.7 455.2 L117.8 451.6 L119.7 452.5 L130.7 456 L141.8 459.6Z"/><path fill="#a74751" stroke="#a74751" d="M73 436.5 L62.4 433 L51.8 429.4 L53.4 430.1 L64 433.7 L74.7 437.3Z"/><path fill="#a94852" stroke="#a94852" d="M94.4 443.7 L83.7 440.1 L73 436.5 L74.7 437.3 L85.4 440.9 L96.1 444.5Z"/><path fill="#aa4953" stroke="#aa4953" d="M115.9 450.9 L105.1 447.3 L94.4 443.7 L96.1 444.5 L106.9 448 L117.8 451.6Z"/><path fill="#ac4a54" stroke="#ac4a54" d="M137.7 458 L126.8 454.5 L115.9 450.9 L117.8 451.6 L128.7 455.2 L139.7 458.8Z"/><path fill="#a64650" stroke="#a64650" d="M71.4 435.9 L60.8 432.3 L50.3 428.7 L51.8 429.4 L62.4 433 L73 436.5Z"/><path fill="#a74751" stroke="#a74751" d="M92.6 443.1 L82 439.5 L71.4 435.9 L73 436.5 L83.7 440.1 L94.4 443.7Z"/><path fill="#a84852" stroke="#a84852" d="M114.1 450.2 L103.3 446.7 L92.6 443.1 L94.4 443.7 L105.1 447.3 L115.9 450.9Z"/><path fill="#aa4953" stroke="#aa4953" d="M135.7 457.4 L124.9 453.8 L114.1 450.2 L115.9 450.9 L126.8 454.5 L137.7 458Z"/><path fill="#a4454f" stroke="#a4454f" d="M69.7 435.4 L59.2 431.8 L48.7 428.2 L50.3 428.7 L60.8 432.3 L71.4 435.9Z"/><path fill="#a54650" stroke="#a54650" d="M90.9 442.5 L80.3 439 L69.7 435.4 L71.4 435.9 L82 439.5 L92.6 443.1Z"/><path fill="#a64751" stroke="#a64751" d="M112.2 449.7 L101.5 446.1 L90.9 442.5 L92.6 443.1 L103.3 446.7 L114.1 450.2Z"/><path fill="#a84852" stroke="#a84852" d="M133.7 456.9 L122.9 453.3 L112.2 449.7 L114.1 450.2 L124.9 453.8 L135.7 457.4Z"/><path fill="#a2444e" stroke="#a2444e" d="M68.1 434.9 L57.6 431.3 L47.2 427.7 L48.7 428.2 L59.2 431.8 L69.7 435.4Z"/><path fill="#a3444e" stroke="#a3444e" d="M89.1 442.1 L78.6 438.5 L68.1 434.9 L69.7 435.4 L80.3 439 L90.9 442.5Z"/><path fill="#a5454f" stroke="#a5454f" d="M110.3 449.3 L99.7 445.7 L89.1 442.1 L90.9 442.5 L101.5 446.1 L112.2 449.7Z"/><path fill="#a64650" stroke="#a64650" d="M131.7 456.5 L121 452.9 L110.3 449.3 L112.2 449.7 L122.9 453.3 L133.7 456.9Z"/><path fill="#a0424c" stroke="#a0424c" d="M66.4 434.6 L56 431 L45.6 427.4 L47.2 427.7 L57.6 431.3 L68.1 434.9Z"/><path fill="#a1434d" stroke="#a1434d" d="M87.4 441.8 L76.9 438.2 L66.4 434.6 L68.1 434.9 L78.6 438.5 L89.1 442.1Z"/><path fill="#a3444e" stroke="#a3444e" d="M108.5 448.9 L97.9 445.3 L87.4 441.8 L89.1 442.1 L99.7 445.7 L110.3 449.3Z"/><path fill="#a4454f" stroke="#a4454f" d="M129.7 456.1 L119.1 452.5 L108.5 448.9 L110.3 449.3 L121 452.9 L131.7 456.5Z"/><path fill="#9e414b" stroke="#9e414b" d="M64.8 434.3 L54.4 430.7 L44.1 427.1 L45.6 427.4 L56 431 L66.4 434.6Z"/><path fill="#9f424c" stroke="#9f424c" d="M85.6 441.5 L75.2 437.9 L64.8 434.3 L66.4 434.6 L76.9 438.2 L87.4 441.8Z"/><path fill="#a1434d" stroke="#a1434d" d="M106.6 448.7 L96.1 445.1 L85.6 441.5 L87.4 441.8 L97.9 445.3 L108.5 448.9Z"/><path fill="#a2444e" stroke="#a2444e" d="M127.7 455.9 L117.1 452.3 L106.6 448.7 L108.5 448.9 L119.1 452.5 L129.7 456.1Z"/><path fill="#9c404a" stroke="#9c404a" d="M63.2 434.1 L52.8 430.5 L42.5 426.9 L44.1 427.1 L54.4 430.7 L64.8 434.3Z"/><path fill="#9e414b" stroke="#9e414b" d="M83.9 441.3 L73.5 437.7 L63.2 434.1 L64.8 434.3 L75.2 437.9 L85.6 441.5Z"/><path fill="#9f424c" stroke="#9f424c" d="M104.7 448.5 L94.3 444.9 L83.9 441.3 L85.6 441.5 L96.1 445.1 L106.6 448.7Z"/><path fill="#a1434d" stroke="#a1434d" d="M125.7 455.7 L115.2 452.1 L104.7 448.5 L106.6 448.7 L117.1 452.3 L127.7 455.9Z"/><path fill="#9b3f49" stroke="#9b3f49" d="M61.5 434 L51.2 430.4 L41 426.7 L42.5 426.9 L52.8 430.5 L63.2 434.1Z"/><path fill="#9c404a" stroke="#9c404a" d="M82.1 441.2 L71.8 437.6 L61.5 434 L63.2 434.1 L73.5 437.7 L83.9 441.3Z"/><path fill="#9e414b" stroke="#9e414b" d="M102.8 448.4 L92.5 444.8 L82.1 441.2 L83.9 441.3 L94.3 444.9 L104.7 448.5Z"/><path fill="#9f424c" stroke="#9f424c" d="M123.7 455.6 L113.2 452 L102.8 448.4 L104.7 448.5 L115.2 452.1 L125.7 455.7Z"/><path fill="#993e48" stroke="#993e48" d="M59.9 433.9 L49.6 430.3 L39.4 426.7 L41 426.7 L51.2 430.4 L61.5 434Z"/><path fill="#9b3f49" stroke="#9b3f49" d="M80.4 441.1 L70.1 437.5 L59.9 433.9 L61.5 434 L71.8 437.6 L82.1 441.2Z"/><path fill="#9c404a" stroke="#9c404a" d="M101 448.3 L90.7 444.7 L80.4 441.1 L82.1 441.2 L92.5 444.8 L102.8 448.4Z"/><path fill="#9e414b" stroke="#9e414b" d="M121.7 455.5 L111.3 451.9 L101 448.3 L102.8 448.4 L113.2 452 L123.7 455.6Z"/><path fill="#983d47" stroke="#983d47" d="M58.2 433.9 L48.1 430.3 L37.9 426.7 L39.4 426.7 L49.6 430.3 L59.9 433.9Z"/><path fill="#993e48" stroke="#993e48" d="M78.6 441.1 L68.4 437.5 L58.2 433.9 L59.9 433.9 L70.1 437.5 L80.4 441.1Z"/><path fill="#9b3f49" stroke="#9b3f49" d="M99.1 448.3 L88.9 444.7 L78.6 441.1 L80.4 441.1 L90.7 444.7 L101 448.3Z"/><path fill="#9c404a" stroke="#9c404a" d="M119.6 455.6 L109.4 451.9 L99.1 448.3 L101 448.3 L111.3 451.9 L121.7 455.5Z"/><path fill="#973c46" stroke="#973c46" d="M56.6 433.9 L46.5 430.3 L36.3 426.7 L37.9 426.7 L48.1 430.3 L58.2 433.9Z"/><path fill="#983d47" stroke="#983d47" d="M76.9 441.1 L66.7 437.5 L56.6 433.9 L58.2 433.9 L68.4 437.5 L78.6 441.1Z"/><path fill="#9a3e48" stroke="#9a3e48" d="M97.2 448.4 L87.1 444.8 L76.9 441.1 L78.6 441.1 L88.9 444.7 L99.1 448.3Z"/><path fill="#9b3f49" stroke="#9b3f49" d="M117.6 455.6 L107.4 452 L97.2 448.4 L99.1 448.3 L109.4 451.9 L119.6 455.6Z"/><path fill="#963c46" stroke="#963c46" d="M55 434 L44.9 430.4 L34.8 426.7 L36.3 426.7 L46.5 430.3 L56.6 433.9Z"/><path fill="#973d47" stroke="#973d47" d="M75.1 441.2 L65 437.6 L55 434 L56.6 433.9 L66.7 437.5 L76.9 441.1Z"/><path fill="#983e48" stroke="#983e48" d="M95.4 448.5 L85.3 444.8 L75.1 441.2 L76.9 441.1 L87.1 444.8 L97.2 448.4Z"/><path fill="#9a3f49" stroke="#9a3f49" d="M115.6 455.7 L105.5 452.1 L95.4 448.5 L97.2 448.4 L107.4 452 L117.6 455.6Z"/><path fill="#953b45" stroke="#953b45" d="M53.3 434.1 L43.3 430.4 L33.2 426.8 L34.8 426.7 L44.9 430.4 L55 434Z"/><path fill="#963c46" stroke="#963c46" d="M73.4 441.3 L63.4 437.7 L53.3 434.1 L55 434 L65 437.6 L75.1 441.2Z"/><path fill="#983d47" stroke="#983d47" d="M93.5 448.5 L83.4 444.9 L73.4 441.3 L75.1 441.2 L85.3 444.8 L95.4 448.5Z"/><path fill="#993e48" stroke="#993e48" d="M113.6 455.8 L103.6 452.2 L93.5 448.5 L95.4 448.5 L105.5 452.1 L115.6 455.7Z"/><path fill="#943b45" stroke="#943b45" d="M51.7 434.1 L41.7 430.5 L31.7 426.9 L33.2 426.8 L43.3 430.4 L53.3 434.1Z"/><path fill="#963c46" stroke="#963c46" d="M71.6 441.4 L61.7 437.8 L51.7 434.1 L53.3 434.1 L63.4 437.7 L73.4 441.3Z"/><path fill="#973d47" stroke="#973d47" d="M91.6 448.6 L81.6 445 L71.6 441.4 L73.4 441.3 L83.4 444.9 L93.5 448.5Z"/><path fill="#993e48" stroke="#993e48" d="M111.6 455.9 L101.6 452.3 L91.6 448.6 L93.5 448.5 L103.6 452.2 L113.6 455.8Z"/></g><polygon points="31.7,426.9 162.9,419.4 242.8,448.4 111.6,455.9" fill="#15382c"/><g stroke-width="0.7"><path fill="#558cbb" stroke="#558cbb" d="M105.5 388.6 L93.4 385.4 L81.4 382.2 L82.8 380 L94.8 383.2 L107 386.3Z"/><path fill="#568fbd" stroke="#568fbd" d="M130.3 394.9 L117.8 391.8 L105.5 388.6 L107 386.3 L119.4 389.5 L132 392.6Z"/><path fill="#5891c0" stroke="#5891c0" d="M156.1 401.2 L143.1 398.1 L130.3 394.9 L132 392.6 L144.8 395.8 L157.9 398.9Z"/><path fill="#5993c3" stroke="#5993c3" d="M183.2 407.4 L169.4 404.3 L156.1 401.2 L157.9 398.9 L171.4 402 L185.2 405Z"/><path fill="#558dbc" stroke="#558dbc" d="M103.9 390.9 L91.9 387.7 L80 384.5 L81.4 382.2 L93.4 385.4 L105.5 388.6Z"/><path fill="#578fbe" stroke="#578fbe" d="M128.6 397.3 L116.2 394.1 L103.9 390.9 L105.5 388.6 L117.8 391.8 L130.3 394.9Z"/><path fill="#5891c1" stroke="#5891c1" d="M154.2 403.6 L141.3 400.4 L128.6 397.3 L130.3 394.9 L143.1 398.1 L156.1 401.2Z"/><path fill="#5a93c3" stroke="#5a93c3" d="M181.1 409.9 L167.5 406.7 L154.2 403.6 L156.1 401.2 L169.4 404.3 L183.2 407.4Z"/><path fill="#568ebc" stroke="#568ebc" d="M102.4 393.2 L90.4 390 L78.6 386.7 L80 384.5 L91.9 387.7 L103.9 390.9Z"/><path fill="#5790bf" stroke="#5790bf" d="M127 399.6 L114.6 396.4 L102.4 393.2 L103.9 390.9 L116.2 394.1 L128.6 397.3Z"/><path fill="#5992c1" stroke="#5992c1" d="M152.4 406 L139.5 402.8 L127 399.6 L128.6 397.3 L141.3 400.4 L154.2 403.6Z"/><path fill="#5a94c4" stroke="#5a94c4" d="M179.1 412.3 L165.6 409.2 L152.4 406 L154.2 403.6 L167.5 406.7 L181.1 409.9Z"/><path fill="#568ebd" stroke="#568ebd" d="M100.9 395.5 L88.9 392.3 L77.1 389 L78.6 386.7 L90.4 390 L102.4 393.2Z"/><path fill="#5790bf" stroke="#5790bf" d="M125.3 402 L113 398.8 L100.9 395.5 L102.4 393.2 L114.6 396.4 L127 399.6Z"/><path fill="#5992c2" stroke="#5992c2" d="M150.6 408.4 L137.8 405.2 L125.3 402 L127 399.6 L139.5 402.8 L152.4 406Z"/><path fill="#5a94c4" stroke="#5a94c4" d="M177 414.8 L163.6 411.6 L150.6 408.4 L152.4 406 L165.6 409.2 L179.1 412.3Z"/><path fill="#568ebd" stroke="#568ebd" d="M99.3 397.9 L87.4 394.6 L75.7 391.3 L77.1 389 L88.9 392.3 L100.9 395.5Z"/><path fill="#5790bf" stroke="#5790bf" d="M123.6 404.4 L111.4 401.1 L99.3 397.9 L100.9 395.5 L113 398.8 L125.3 402Z"/><path fill="#5992c2" stroke="#5992c2" d="M148.7 410.8 L136 407.6 L123.6 404.4 L125.3 402 L137.8 405.2 L150.6 408.4Z"/><path fill="#5a94c4" stroke="#5a94c4" d="M175 417.2 L161.7 414 L148.7 410.8 L150.6 408.4 L163.6 411.6 L177 414.8Z"/><path fill="#568ebc" stroke="#568ebc" d="M97.8 400.2 L86 396.9 L74.3 393.6 L75.7 391.3 L87.4 394.6 L99.3 397.9Z"/><path fill="#5790bf" stroke="#5790bf" d="M121.9 406.7 L109.8 403.5 L97.8 400.2 L99.3 397.9 L111.4 401.1 L123.6 404.4Z"/><path fill="#5992c1" stroke="#5992c1" d="M146.9 413.2 L134.3 410 L121.9 406.7 L123.6 404.4 L136 407.6 L148.7 410.8Z"/><path fill="#5a94c4" stroke="#5a94c4" d="M172.9 419.7 L159.7 416.5 L146.9 413.2 L148.7 410.8 L161.7 414 L175 417.2Z"/><path fill="#558dbc" stroke="#558dbc" d="M96.3 402.5 L84.5 399.2 L72.9 395.9 L74.3 393.6 L86 396.9 L97.8 400.2Z"/><path fill="#578fbe" stroke="#578fbe" d="M120.2 409.1 L108.2 405.8 L96.3 402.5 L97.8 400.2 L109.8 403.5 L121.9 406.7Z"/><path fill="#5891c1" stroke="#5891c1" d="M145 415.6 L132.5 412.3 L120.2 409.1 L121.9 406.7 L134.3 410 L146.9 413.2Z"/><path fill="#5a93c3" stroke="#5a93c3" d="M170.9 422.1 L157.8 418.9 L145 415.6 L146.9 413.2 L159.7 416.5 L172.9 419.7Z"/><path fill="#558cbb" stroke="#558cbb" d="M94.7 404.7 L83 401.4 L71.5 398.1 L72.9 395.9 L84.5 399.2 L96.3 402.5Z"/><path fill="#568ebd" stroke="#568ebd" d="M118.6 411.4 L106.6 408.1 L94.7 404.7 L96.3 402.5 L108.2 405.8 L120.2 409.1Z"/><path fill="#5890c0" stroke="#5890c0" d="M143.2 418 L130.8 414.7 L118.6 411.4 L120.2 409.1 L132.5 412.3 L145 415.6Z"/><path fill="#5993c2" stroke="#5993c2" d="M168.8 424.5 L155.9 421.2 L143.2 418 L145 415.6 L157.8 418.9 L170.9 422.1Z"/><path fill="#548bb9" stroke="#548bb9" d="M93.2 407 L81.5 403.6 L70 400.3 L71.5 398.1 L83 401.4 L94.7 404.7Z"/><path fill="#568dbc" stroke="#568dbc" d="M116.9 413.6 L105 410.3 L93.2 407 L94.7 404.7 L106.6 408.1 L118.6 411.4Z"/><path fill="#578fbe" stroke="#578fbe" d="M141.4 420.3 L129 416.9 L116.9 413.6 L118.6 411.4 L130.8 414.7 L143.2 418Z"/><path fill="#5992c1" stroke="#5992c1" d="M166.8 426.8 L153.9 423.5 L141.4 420.3 L143.2 418 L155.9 421.2 L168.8 424.5Z"/><path fill="#538ab8" stroke="#538ab8" d="M91.6 409.1 L80.1 405.8 L68.6 402.4 L70 400.3 L81.5 403.6 L93.2 407Z"/><path fill="#558cba" stroke="#558cba" d="M115.2 415.8 L103.4 412.5 L91.6 409.1 L93.2 407 L105 410.3 L116.9 413.6Z"/><path fill="#568ebd" stroke="#568ebd" d="M139.5 422.5 L127.3 419.2 L115.2 415.8 L116.9 413.6 L129 416.9 L141.4 420.3Z"/><path fill="#5890bf" stroke="#5890bf" d="M164.8 429.1 L152 425.8 L139.5 422.5 L141.4 420.3 L153.9 423.5 L166.8 426.8Z"/><path fill="#5288b6" stroke="#5288b6" d="M90.1 411.2 L78.6 407.9 L67.2 404.5 L68.6 402.4 L80.1 405.8 L91.6 409.1Z"/><path fill="#548bb8" stroke="#548bb8" d="M113.5 418 L101.8 414.6 L90.1 411.2 L91.6 409.1 L103.4 412.5 L115.2 415.8Z"/><path fill="#558dbb" stroke="#558dbb" d="M137.7 424.7 L125.5 421.3 L113.5 418 L115.2 415.8 L127.3 419.2 L139.5 422.5Z"/><path fill="#578fbe" stroke="#578fbe" d="M162.7 431.3 L150.1 428 L137.7 424.7 L139.5 422.5 L152 425.8 L164.8 429.1Z"/><path fill="#5187b4" stroke="#5187b4" d="M88.6 413.3 L77.1 409.9 L65.8 406.5 L67.2 404.5 L78.6 407.9 L90.1 411.2Z"/><path fill="#5289b6" stroke="#5289b6" d="M111.9 420.1 L100.1 416.7 L88.6 413.3 L90.1 411.2 L101.8 414.6 L113.5 418Z"/><path fill="#548bb9" stroke="#548bb9" d="M135.8 426.8 L123.8 423.4 L111.9 420.1 L113.5 418 L125.5 421.3 L137.7 424.7Z"/><path fill="#558dbb" stroke="#558dbb" d="M160.7 433.5 L148.1 430.1 L135.8 426.8 L137.7 424.7 L150.1 428 L162.7 431.3Z"/><path fill="#4f85b1" stroke="#4f85b1" d="M87 415.2 L75.6 411.8 L64.4 408.4 L65.8 406.5 L77.1 409.9 L88.6 413.3Z"/><path fill="#5187b4" stroke="#5187b4" d="M110.2 422 L98.5 418.6 L87 415.2 L88.6 413.3 L100.1 416.7 L111.9 420.1Z"/><path fill="#5289b6" stroke="#5289b6" d="M134 428.8 L122 425.4 L110.2 422 L111.9 420.1 L123.8 423.4 L135.8 426.8Z"/><path fill="#548bb9" stroke="#548bb9" d="M158.6 435.6 L146.2 432.2 L134 428.8 L135.8 426.8 L148.1 430.1 L160.7 433.5Z"/><path fill="#4e83af" stroke="#4e83af" d="M85.5 417.1 L74.2 413.7 L62.9 410.2 L64.4 408.4 L75.6 411.8 L87 415.2Z"/><path fill="#4f85b1" stroke="#4f85b1" d="M108.5 424 L96.9 420.5 L85.5 417.1 L87 415.2 L98.5 418.6 L110.2 422Z"/><path fill="#5187b4" stroke="#5187b4" d="M132.1 430.8 L120.2 427.4 L108.5 424 L110.2 422 L122 425.4 L134 428.8Z"/><path fill="#5289b6" stroke="#5289b6" d="M156.6 437.5 L144.2 434.2 L132.1 430.8 L134 428.8 L146.2 432.2 L158.6 435.6Z"/><path fill="#4c80ac" stroke="#4c80ac" d="M84 418.9 L72.7 415.4 L61.5 412 L62.9 410.2 L74.2 413.7 L85.5 417.1Z"/><path fill="#4e82ae" stroke="#4e82ae" d="M106.8 425.8 L95.3 422.3 L84 418.9 L85.5 417.1 L96.9 420.5 L108.5 424Z"/><path fill="#4f85b1" stroke="#4f85b1" d="M130.3 432.6 L118.5 429.2 L106.8 425.8 L108.5 424 L120.2 427.4 L132.1 430.8Z"/><path fill="#5187b4" stroke="#5187b4" d="M154.5 439.4 L142.3 436 L130.3 432.6 L132.1 430.8 L144.2 434.2 L156.6 437.5Z"/><path fill="#4b7ea9" stroke="#4b7ea9" d="M82.4 420.6 L71.2 417.1 L60.1 413.6 L61.5 412 L72.7 415.4 L84 418.9Z"/><path fill="#4c80ab" stroke="#4c80ab" d="M105.2 427.5 L93.7 424 L82.4 420.6 L84 418.9 L95.3 422.3 L106.8 425.8Z"/><path fill="#4e82ae" stroke="#4e82ae" d="M128.5 434.4 L116.7 430.9 L105.2 427.5 L106.8 425.8 L118.5 429.2 L130.3 432.6Z"/><path fill="#4f84b1" stroke="#4f84b1" d="M152.5 441.2 L140.4 437.8 L128.5 434.4 L130.3 432.6 L142.3 436 L154.5 439.4Z"/><path fill="#497ba5" stroke="#497ba5" d="M80.9 422.1 L69.7 418.7 L58.7 415.2 L60.1 413.6 L71.2 417.1 L82.4 420.6Z"/><path fill="#4a7da8" stroke="#4a7da8" d="M103.5 429.1 L92.1 425.6 L80.9 422.1 L82.4 420.6 L93.7 424 L105.2 427.5Z"/><path fill="#4c7fab" stroke="#4c7fab" d="M126.6 436 L115 432.6 L103.5 429.1 L105.2 427.5 L116.7 430.9 L128.5 434.4Z"/><path fill="#4d82ad" stroke="#4d82ad" d="M150.4 442.9 L138.4 439.5 L126.6 436 L128.5 434.4 L140.4 437.8 L152.5 441.2Z"/><path fill="#4779a2" stroke="#4779a2" d="M79.3 423.6 L68.3 420.1 L57.3 416.6 L58.7 415.2 L69.7 418.7 L80.9 422.1Z"/><path fill="#487ba5" stroke="#487ba5" d="M101.8 430.6 L90.5 427.1 L79.3 423.6 L80.9 422.1 L92.1 425.6 L103.5 429.1Z"/><path fill="#4a7da7" stroke="#4a7da7" d="M124.8 437.5 L113.2 434.1 L101.8 430.6 L103.5 429.1 L115 432.6 L126.6 436Z"/><path fill="#4b7faa" stroke="#4b7faa" d="M148.4 444.5 L136.5 441 L124.8 437.5 L126.6 436 L138.4 439.5 L150.4 442.9Z"/><path fill="#45769f" stroke="#45769f" d="M77.8 425 L66.8 421.5 L55.8 418 L57.3 416.6 L68.3 420.1 L79.3 423.6Z"/><path fill="#4678a1" stroke="#4678a1" d="M100.1 432 L88.9 428.5 L77.8 425 L79.3 423.6 L90.5 427.1 L101.8 430.6Z"/><path fill="#487aa4" stroke="#487aa4" d="M122.9 439 L111.5 435.5 L100.1 432 L101.8 430.6 L113.2 434.1 L124.8 437.5Z"/><path fill="#497ca6" stroke="#497ca6" d="M146.4 445.9 L134.6 442.4 L122.9 439 L124.8 437.5 L136.5 441 L148.4 444.5Z"/><path fill="#43739b" stroke="#43739b" d="M76.3 426.3 L65.3 422.7 L54.4 419.2 L55.8 418 L66.8 421.5 L77.8 425Z"/><path fill="#44759d" stroke="#44759d" d="M98.5 433.3 L87.3 429.8 L76.3 426.3 L77.8 425 L88.9 428.5 L100.1 432Z"/><path fill="#4677a0" stroke="#4677a0" d="M121.1 440.3 L109.7 436.8 L98.5 433.3 L100.1 432 L111.5 435.5 L122.9 439Z"/><path fill="#4779a3" stroke="#4779a3" d="M144.3 447.2 L132.6 443.8 L121.1 440.3 L122.9 439 L134.6 442.4 L146.4 445.9Z"/><path fill="#407097" stroke="#407097" d="M74.7 427.4 L63.8 423.9 L53 420.3 L54.4 419.2 L65.3 422.7 L76.3 426.3Z"/><path fill="#42729a" stroke="#42729a" d="M96.8 434.5 L85.7 430.9 L74.7 427.4 L76.3 426.3 L87.3 429.8 L98.5 433.3Z"/><path fill="#43749c" stroke="#43749c" d="M119.3 441.5 L108 438 L96.8 434.5 L98.5 433.3 L109.7 436.8 L121.1 440.3Z"/><path fill="#45769f" stroke="#45769f" d="M142.3 448.5 L130.7 445 L119.3 441.5 L121.1 440.3 L132.6 443.8 L144.3 447.2Z"/><path fill="#3e6d93" stroke="#3e6d93" d="M73.2 428.4 L62.4 424.9 L51.6 421.4 L53 420.3 L63.8 423.9 L74.7 427.4Z"/><path fill="#406f96" stroke="#406f96" d="M95.1 435.5 L84.1 432 L73.2 428.4 L74.7 427.4 L85.7 430.9 L96.8 434.5Z"/><path fill="#417199" stroke="#417199" d="M117.4 442.6 L106.2 439 L95.1 435.5 L96.8 434.5 L108 438 L119.3 441.5Z"/><path fill="#43739b" stroke="#43739b" d="M140.2 449.6 L128.7 446.1 L117.4 442.6 L119.3 441.5 L130.7 445 L142.3 448.5Z"/><path fill="#3c6a8f" stroke="#3c6a8f" d="M71.7 429.4 L60.9 425.8 L50.2 422.3 L51.6 421.4 L62.4 424.9 L73.2 428.4Z"/><path fill="#3d6c92" stroke="#3d6c92" d="M93.4 436.5 L82.5 432.9 L71.7 429.4 L73.2 428.4 L84.1 432 L95.1 435.5Z"/><path fill="#3f6e95" stroke="#3f6e95" d="M115.6 443.5 L104.5 440 L93.4 436.5 L95.1 435.5 L106.2 439 L117.4 442.6Z"/><path fill="#407097" stroke="#407097" d="M138.2 450.6 L126.8 447.1 L115.6 443.5 L117.4 442.6 L128.7 446.1 L140.2 449.6Z"/><path fill="#3a668c" stroke="#3a668c" d="M70.1 430.2 L59.4 426.6 L48.7 423.1 L50.2 422.3 L60.9 425.8 L71.7 429.4Z"/><path fill="#3b698e" stroke="#3b698e" d="M91.8 437.3 L80.9 433.8 L70.1 430.2 L71.7 429.4 L82.5 432.9 L93.4 436.5Z"/><path fill="#3d6b91" stroke="#3d6b91" d="M113.7 444.4 L102.7 440.9 L91.8 437.3 L93.4 436.5 L104.5 440 L115.6 443.5Z"/><path fill="#3e6d93" stroke="#3e6d93" d="M136.1 451.5 L124.9 447.9 L113.7 444.4 L115.6 443.5 L126.8 447.1 L138.2 450.6Z"/><path fill="#386388" stroke="#386388" d="M68.6 430.9 L57.9 427.4 L47.3 423.8 L48.7 423.1 L59.4 426.6 L70.1 430.2Z"/><path fill="#39658a" stroke="#39658a" d="M90.1 438.1 L79.3 434.5 L68.6 430.9 L70.1 430.2 L80.9 433.8 L91.8 437.3Z"/><path fill="#3b688d" stroke="#3b688d" d="M111.9 445.2 L100.9 441.6 L90.1 438.1 L91.8 437.3 L102.7 440.9 L113.7 444.4Z"/><path fill="#3c6a90" stroke="#3c6a90" d="M134.1 452.3 L122.9 448.7 L111.9 445.2 L113.7 444.4 L124.9 447.9 L136.1 451.5Z"/><path fill="#356084" stroke="#356084" d="M67 431.6 L56.4 428 L45.9 424.4 L47.3 423.8 L57.9 427.4 L68.6 430.9Z"/><path fill="#376287" stroke="#376287" d="M88.4 438.7 L77.7 435.1 L67 431.6 L68.6 430.9 L79.3 434.5 L90.1 438.1Z"/><path fill="#386589" stroke="#386589" d="M110 445.8 L99.2 442.3 L88.4 438.7 L90.1 438.1 L100.9 441.6 L111.9 445.2Z"/><path fill="#3a678c" stroke="#3a678c" d="M132 452.9 L121 449.4 L110 445.8 L111.9 445.2 L122.9 448.7 L134.1 452.3Z"/><path fill="#335d80" stroke="#335d80" d="M65.5 432.1 L55 428.5 L44.5 424.9 L45.9 424.4 L56.4 428 L67 431.6Z"/><path fill="#355f83" stroke="#355f83" d="M86.7 439.3 L76.1 435.7 L65.5 432.1 L67 431.6 L77.7 435.1 L88.4 438.7Z"/><path fill="#366286" stroke="#366286" d="M108.2 446.4 L97.4 442.8 L86.7 439.3 L88.4 438.7 L99.2 442.3 L110 445.8Z"/><path fill="#386488" stroke="#386488" d="M130 453.5 L119.1 450 L108.2 446.4 L110 445.8 L121 449.4 L132 452.9Z"/><path fill="#315b7d" stroke="#315b7d" d="M64 432.6 L53.5 429 L43.1 425.4 L44.5 424.9 L55 428.5 L65.5 432.1Z"/><path fill="#335d80" stroke="#335d80" d="M85.1 439.7 L74.5 436.1 L64 432.6 L65.5 432.1 L76.1 435.7 L86.7 439.3Z"/><path fill="#345f82" stroke="#345f82" d="M106.4 446.9 L95.7 443.3 L85.1 439.7 L86.7 439.3 L97.4 442.8 L108.2 446.4Z"/><path fill="#366185" stroke="#366185" d="M128 454 L117.1 450.5 L106.4 446.9 L108.2 446.4 L119.1 450 L130 453.5Z"/><path fill="#2f587a" stroke="#2f587a" d="M62.4 432.9 L52 429.3 L41.6 425.7 L43.1 425.4 L53.5 429 L64 432.6Z"/><path fill="#315a7c" stroke="#315a7c" d="M83.4 440.1 L72.9 436.5 L62.4 432.9 L64 432.6 L74.5 436.1 L85.1 439.7Z"/><path fill="#325c7f" stroke="#325c7f" d="M104.5 447.3 L93.9 443.7 L83.4 440.1 L85.1 439.7 L95.7 443.3 L106.4 446.9Z"/><path fill="#345e81" stroke="#345e81" d="M125.9 454.5 L115.2 450.9 L104.5 447.3 L106.4 446.9 L117.1 450.5 L128 454Z"/><path fill="#2d5576" stroke="#2d5576" d="M60.9 433.2 L50.5 429.6 L40.2 426 L41.6 425.7 L52 429.3 L62.4 432.9Z"/><path fill="#2f5779" stroke="#2f5779" d="M81.7 440.4 L71.3 436.8 L60.9 433.2 L62.4 432.9 L72.9 436.5 L83.4 440.1Z"/><path fill="#30597c" stroke="#30597c" d="M102.7 447.6 L92.2 444 L81.7 440.4 L83.4 440.1 L93.9 443.7 L104.5 447.3Z"/><path fill="#325b7e" stroke="#325b7e" d="M123.9 454.8 L113.2 451.2 L102.7 447.6 L104.5 447.3 L115.2 450.9 L125.9 454.5Z"/><path fill="#2c5373" stroke="#2c5373" d="M59.4 433.5 L49.1 429.9 L38.8 426.3 L40.2 426 L50.5 429.6 L60.9 433.2Z"/><path fill="#2d5576" stroke="#2d5576" d="M80 440.7 L69.7 437.1 L59.4 433.5 L60.9 433.2 L71.3 436.8 L81.7 440.4Z"/><path fill="#2f5779" stroke="#2f5779" d="M100.8 447.9 L90.4 444.3 L80 440.7 L81.7 440.4 L92.2 444 L102.7 447.6Z"/><path fill="#30597b" stroke="#30597b" d="M121.8 455.1 L111.3 451.5 L100.8 447.9 L102.7 447.6 L113.2 451.2 L123.9 454.8Z"/><path fill="#2a5171" stroke="#2a5171" d="M57.8 433.7 L47.6 430.1 L37.4 426.5 L38.8 426.3 L49.1 429.9 L59.4 433.5Z"/><path fill="#2c5373" stroke="#2c5373" d="M78.4 440.9 L68.1 437.3 L57.8 433.7 L59.4 433.5 L69.7 437.1 L80 440.7Z"/><path fill="#2d5576" stroke="#2d5576" d="M99 448.1 L88.7 444.5 L78.4 440.9 L80 440.7 L90.4 444.3 L100.8 447.9Z"/><path fill="#2f5778" stroke="#2f5778" d="M119.8 455.3 L109.4 451.7 L99 448.1 L100.8 447.9 L111.3 451.5 L121.8 455.1Z"/><path fill="#294f6e" stroke="#294f6e" d="M56.3 433.8 L46.1 430.2 L36 426.6 L37.4 426.5 L47.6 430.1 L57.8 433.7Z"/><path fill="#2a5171" stroke="#2a5171" d="M76.7 441.1 L66.5 437.5 L56.3 433.8 L57.8 433.7 L68.1 437.3 L78.4 440.9Z"/><path fill="#2c5373" stroke="#2c5373" d="M97.2 448.3 L86.9 444.7 L76.7 441.1 L78.4 440.9 L88.7 444.5 L99 448.1Z"/><path fill="#2d5576" stroke="#2d5576" d="M117.7 455.5 L107.4 451.9 L97.2 448.3 L99 448.1 L109.4 451.7 L119.8 455.3Z"/><path fill="#284d6c" stroke="#284d6c" d="M54.7 434 L44.6 430.3 L34.5 426.7 L36 426.6 L46.1 430.2 L56.3 433.8Z"/><path fill="#294f6f" stroke="#294f6f" d="M75 441.2 L64.9 437.6 L54.7 434 L56.3 433.8 L66.5 437.5 L76.7 441.1Z"/><path fill="#2b5171" stroke="#2b5171" d="M95.3 448.4 L85.1 444.8 L75 441.2 L76.7 441.1 L86.9 444.7 L97.2 448.3Z"/><path fill="#2c5374" stroke="#2c5374" d="M115.7 455.7 L105.5 452 L95.3 448.4 L97.2 448.3 L107.4 451.9 L117.7 455.5Z"/><path fill="#274c6b" stroke="#274c6b" d="M53.2 434.1 L43.2 430.4 L33.1 426.8 L34.5 426.7 L44.6 430.3 L54.7 434Z"/><path fill="#284e6d" stroke="#284e6d" d="M73.3 441.3 L63.3 437.7 L53.2 434.1 L54.7 434 L64.9 437.6 L75 441.2Z"/><path fill="#2a5070" stroke="#2a5070" d="M93.5 448.5 L83.4 444.9 L73.3 441.3 L75 441.2 L85.1 444.8 L95.3 448.4Z"/><path fill="#2b5272" stroke="#2b5272" d="M113.6 455.8 L103.6 452.2 L93.5 448.5 L95.3 448.4 L105.5 452 L115.7 455.7Z"/><path fill="#264b6a" stroke="#264b6a" d="M51.7 434.1 L41.7 430.5 L31.7 426.9 L33.1 426.8 L43.2 430.4 L53.2 434.1Z"/><path fill="#284d6c" stroke="#284d6c" d="M71.6 441.4 L61.7 437.8 L51.7 434.1 L53.2 434.1 L63.3 437.7 L73.3 441.3Z"/><path fill="#294f6f" stroke="#294f6f" d="M91.6 448.6 L81.6 445 L71.6 441.4 L73.3 441.3 L83.4 444.9 L93.5 448.5Z"/><path fill="#2b5171" stroke="#2b5171" d="M111.6 455.9 L101.6 452.3 L91.6 448.6 L93.5 448.5 L103.6 452.2 L113.6 455.8Z"/></g><polygon points="31.7,381.6 162.9,374.1 242.8,403.1 111.6,410.6" fill="#303030" fill-opacity="0.23"/><g stroke-width="0.7"><path fill="#548bb8" stroke="#548bb8" d="M182.9 341 L172.9 331.6 L159.3 327 L162.9 321.4 L172.9 331.6 L182.9 341Z"/><path fill="#5187b3" stroke="#5187b3" d="M182.9 341 L170.5 334.7 L155.6 332.1 L159.3 327 L172.9 331.6 L182.9 341Z"/><path fill="#4d81ad" stroke="#4d81ad" d="M181.9 342 L166.7 339.3 L152 336.6 L155.6 332.1 L170.5 334.7 L182.9 341Z"/><path fill="#4e83af" stroke="#4e83af" d="M202.8 356.2 L192.9 349.2 L181.9 342 L182.9 341 L192.9 349.2 L202.8 356.2Z"/><path fill="#487ba5" stroke="#487ba5" d="M178 346 L163 343.3 L148.3 340.5 L152 336.6 L166.7 339.3 L181.9 342Z"/><path fill="#4a7da7" stroke="#4a7da7" d="M202.8 356.2 L192.9 349.2 L178 346 L181.9 342 L192.9 349.2 L202.8 356.2Z"/><path fill="#43739c" stroke="#43739c" d="M174 349.3 L159.2 346.5 L144.7 343.8 L148.3 340.5 L163 343.3 L178 346Z"/><path fill="#44759e" stroke="#44759e" d="M202.8 356.2 L189.3 352.1 L174 349.3 L178 346 L192.9 349.2 L202.8 356.2Z"/><path fill="#3d6b92" stroke="#3d6b92" d="M170.1 351.9 L155.4 349.1 L141.1 346.3 L144.7 343.8 L159.2 346.5 L174 349.3Z"/><path fill="#3f6e95" stroke="#3f6e95" d="M200.7 357.4 L185.2 354.7 L170.1 351.9 L174 349.3 L189.3 352.1 L202.8 356.2Z"/><path fill="#407097" stroke="#407097" d="M222.8 366.4 L212.8 361.9 L200.7 357.4 L202.8 356.2 L212.8 361.9 L222.8 366.4Z"/><path fill="#386488" stroke="#386488" d="M166.1 353.8 L151.6 351 L137.4 348.1 L141.1 346.3 L155.4 349.1 L170.1 351.9Z"/><path fill="#39668b" stroke="#39668b" d="M196.4 359.3 L181.1 356.6 L166.1 353.8 L170.1 351.9 L185.2 354.7 L200.7 357.4Z"/><path fill="#3b688d" stroke="#3b688d" d="M222.8 366.4 L212.3 362.1 L196.4 359.3 L200.7 357.4 L212.8 361.9 L222.8 366.4Z"/><path fill="#325c7f" stroke="#325c7f" d="M162.2 355 L147.8 352.2 L133.8 349.4 L137.4 348.1 L151.6 351 L166.1 353.8Z"/><path fill="#345e81" stroke="#345e81" d="M192.1 360.6 L176.9 357.9 L162.2 355 L166.1 353.8 L181.1 356.6 L196.4 359.3Z"/><path fill="#356084" stroke="#356084" d="M222.8 366.4 L207.8 363.4 L192.1 360.6 L196.4 359.3 L212.3 362.1 L222.8 366.4Z"/><path fill="#2d5576" stroke="#2d5576" d="M158.3 355.8 L144 353 L130.1 350.1 L133.8 349.4 L147.8 352.2 L162.2 355Z"/><path fill="#2f5779" stroke="#2f5779" d="M187.8 361.5 L172.8 358.7 L158.3 355.8 L162.2 355 L176.9 357.9 L192.1 360.6Z"/><path fill="#30597b" stroke="#30597b" d="M219.3 367 L203.3 364.2 L187.8 361.5 L192.1 360.6 L207.8 363.4 L222.8 366.4Z"/><path fill="#325b7e" stroke="#325b7e" d="M242.8 373.2 L232.8 370 L219.3 367 L222.8 366.4 L232.8 370 L242.8 373.2Z"/><path fill="#294f6f" stroke="#294f6f" d="M154.3 356.3 L140.2 353.4 L126.5 350.5 L130.1 350.1 L144 353 L158.3 355.8Z"/><path fill="#2b5172" stroke="#2b5172" d="M183.5 361.9 L168.7 359.1 L154.3 356.3 L158.3 355.8 L172.8 358.7 L187.8 361.5Z"/><path fill="#2c5474" stroke="#2c5474" d="M214.6 367.5 L198.8 364.7 L183.5 361.9 L187.8 361.5 L203.3 364.2 L219.3 367Z"/><path fill="#2e5677" stroke="#2e5677" d="M242.8 373.2 L231 370.2 L214.6 367.5 L219.3 367 L232.8 370 L242.8 373.2Z"/><path fill="#274c6a" stroke="#274c6a" d="M150.4 356.5 L136.5 353.7 L122.9 350.8 L126.5 350.5 L140.2 353.4 L154.3 356.3Z"/><path fill="#284e6d" stroke="#284e6d" d="M179.2 362.2 L164.6 359.4 L150.4 356.5 L154.3 356.3 L168.7 359.1 L183.5 361.9Z"/><path fill="#2a5070" stroke="#2a5070" d="M209.9 367.8 L194.3 365 L179.2 362.2 L183.5 361.9 L198.8 364.7 L214.6 367.5Z"/><path fill="#2b5272" stroke="#2b5272" d="M242.8 373.2 L226 370.5 L209.9 367.8 L214.6 367.5 L231 370.2 L242.8 373.2Z"/><path fill="#264b6a" stroke="#264b6a" d="M146.4 356.8 L132.7 353.9 L119.2 351 L122.9 350.8 L136.5 353.7 L150.4 356.5Z"/><path fill="#284e6d" stroke="#284e6d" d="M174.9 362.5 L160.5 359.6 L146.4 356.8 L150.4 356.5 L164.6 359.4 L179.2 362.2Z"/><path fill="#295070" stroke="#295070" d="M205.2 368.1 L189.8 365.3 L174.9 362.5 L179.2 362.2 L194.3 365 L209.9 367.8Z"/><path fill="#2b5272" stroke="#2b5272" d="M237.6 373.5 L221.1 370.8 L205.2 368.1 L209.9 367.8 L226 370.5 L242.8 373.2Z"/><path fill="#294f6f" stroke="#294f6f" d="M142.5 357.2 L128.9 354.3 L115.6 351.4 L119.2 351 L132.7 353.9 L146.4 356.8Z"/><path fill="#2b5172" stroke="#2b5172" d="M170.7 362.9 L156.4 360.1 L142.5 357.2 L146.4 356.8 L160.5 359.6 L174.9 362.5Z"/><path fill="#2c5374" stroke="#2c5374" d="M200.4 368.5 L185.3 365.7 L170.7 362.9 L174.9 362.5 L189.8 365.3 L205.2 368.1Z"/><path fill="#2e5677" stroke="#2e5677" d="M232.4 374 L216.1 371.3 L200.4 368.5 L205.2 368.1 L221.1 370.8 L237.6 373.5Z"/><path fill="#2d5576" stroke="#2d5576" d="M138.5 358 L125.1 355.1 L111.9 352.2 L115.6 351.4 L128.9 354.3 L142.5 357.2Z"/><path fill="#2f5779" stroke="#2f5779" d="M166.4 363.7 L152.3 360.9 L138.5 358 L142.5 357.2 L156.4 360.1 L170.7 362.9Z"/><path fill="#30597b" stroke="#30597b" d="M195.7 369.4 L180.8 366.6 L166.4 363.7 L170.7 362.9 L185.3 365.7 L200.4 368.5Z"/><path fill="#325b7e" stroke="#325b7e" d="M227.1 374.9 L211.1 372.2 L195.7 369.4 L200.4 368.5 L216.1 371.3 L232.4 374Z"/><path fill="#325c7e" stroke="#325c7e" d="M134.6 359.2 L121.3 356.3 L108.3 353.4 L111.9 352.2 L125.1 355.1 L138.5 358Z"/><path fill="#345e81" stroke="#345e81" d="M162.1 365 L148.2 362.1 L134.6 359.2 L138.5 358 L152.3 360.9 L166.4 363.7Z"/><path fill="#356084" stroke="#356084" d="M191 370.7 L176.3 367.9 L162.1 365 L166.4 363.7 L180.8 366.6 L195.7 369.4Z"/><path fill="#376286" stroke="#376286" d="M221.9 376.3 L206.2 373.5 L191 370.7 L195.7 369.4 L211.1 372.2 L227.1 374.9Z"/><path fill="#386388" stroke="#386388" d="M130.7 361.1 L117.5 358.2 L104.7 355.2 L108.3 353.4 L121.3 356.3 L134.6 359.2Z"/><path fill="#39658a" stroke="#39658a" d="M157.8 366.9 L144.1 364 L130.7 361.1 L134.6 359.2 L148.2 362.1 L162.1 365Z"/><path fill="#3b688d" stroke="#3b688d" d="M186.3 372.7 L171.8 369.8 L157.8 366.9 L162.1 365 L176.3 367.9 L191 370.7Z"/><path fill="#3c6a90" stroke="#3c6a90" d="M216.7 378.3 L201.2 375.5 L186.3 372.7 L191 370.7 L206.2 373.5 L221.9 376.3Z"/><path fill="#3d6b92" stroke="#3d6b92" d="M126.7 363.7 L113.8 360.7 L101 357.7 L104.7 355.2 L117.5 358.2 L130.7 361.1Z"/><path fill="#3f6d94" stroke="#3f6d94" d="M153.5 369.5 L139.9 366.6 L126.7 363.7 L130.7 361.1 L144.1 364 L157.8 366.9Z"/><path fill="#406f97" stroke="#406f97" d="M181.5 375.3 L167.3 372.5 L153.5 369.5 L157.8 366.9 L171.8 369.8 L186.3 372.7Z"/><path fill="#427299" stroke="#427299" d="M211.4 381 L196.2 378.2 L181.5 375.3 L186.3 372.7 L201.2 375.5 L216.7 378.3Z"/><path fill="#43739b" stroke="#43739b" d="M122.8 366.9 L110 363.9 L97.4 360.9 L101 357.7 L113.8 360.7 L126.7 363.7Z"/><path fill="#44759e" stroke="#44759e" d="M149.2 372.9 L135.8 369.9 L122.8 366.9 L126.7 363.7 L139.9 366.6 L153.5 369.5Z"/><path fill="#4677a1" stroke="#4677a1" d="M176.8 378.7 L162.8 375.8 L149.2 372.9 L153.5 369.5 L167.3 372.5 L181.5 375.3Z"/><path fill="#4779a3" stroke="#4779a3" d="M206.2 384.5 L191.3 381.7 L176.8 378.7 L181.5 375.3 L196.2 378.2 L211.4 381Z"/><path fill="#487aa4" stroke="#487aa4" d="M118.8 370.9 L106.2 367.9 L93.7 364.8 L97.4 360.9 L110 363.9 L122.8 366.9Z"/><path fill="#4a7da7" stroke="#4a7da7" d="M144.9 376.9 L131.7 373.9 L118.8 370.9 L122.8 366.9 L135.8 369.9 L149.2 372.9Z"/><path fill="#4b7faa" stroke="#4b7faa" d="M172.1 382.9 L158.3 379.9 L144.9 376.9 L149.2 372.9 L162.8 375.8 L176.8 378.7Z"/><path fill="#4d81ac" stroke="#4d81ac" d="M200.9 388.7 L186.3 385.8 L172.1 382.9 L176.8 378.7 L191.3 381.7 L206.2 384.5Z"/><path fill="#4d81ad" stroke="#4d81ad" d="M114.9 375.5 L102.4 372.5 L90.1 369.4 L93.7 364.8 L106.2 367.9 L118.8 370.9Z"/><path fill="#4e83af" stroke="#4e83af" d="M140.6 381.6 L127.6 378.6 L114.9 375.5 L118.8 370.9 L131.7 373.9 L144.9 376.9Z"/><path fill="#5085b2" stroke="#5085b2" d="M167.4 387.7 L153.8 384.7 L140.6 381.6 L144.9 376.9 L158.3 379.9 L172.1 382.9Z"/><path fill="#5187b4" stroke="#5187b4" d="M195.7 393.6 L181.3 390.7 L167.4 387.7 L172.1 382.9 L186.3 385.8 L200.9 388.7Z"/><path fill="#5186b3" stroke="#5186b3" d="M111 380.7 L98.6 377.6 L86.5 374.5 L90.1 369.4 L102.4 372.5 L114.9 375.5Z"/><path fill="#5289b6" stroke="#5289b6" d="M136.3 386.9 L123.5 383.8 L111 380.7 L114.9 375.5 L127.6 378.6 L140.6 381.6Z"/><path fill="#548bb8" stroke="#548bb8" d="M162.7 393.1 L149.3 390 L136.3 386.9 L140.6 381.6 L153.8 384.7 L167.4 387.7Z"/><path fill="#558dbb" stroke="#558dbb" d="M190.4 399.1 L176.3 396.1 L162.7 393.1 L167.4 387.7 L181.3 390.7 L195.7 393.6Z"/><path fill="#548bb8" stroke="#548bb8" d="M107 386.3 L94.8 383.2 L82.8 380 L86.5 374.5 L98.6 377.6 L111 380.7Z"/><path fill="#558dbb" stroke="#558dbb" d="M132 392.6 L119.4 389.5 L107 386.3 L111 380.7 L123.5 383.8 L136.3 386.9Z"/><path fill="#578fbe" stroke="#578fbe" d="M157.9 398.9 L144.8 395.8 L132 392.6 L136.3 386.9 L149.3 390 L162.7 393.1Z"/><path fill="#5891c0" stroke="#5891c0" d="M185.2 405 L171.4 402 L157.9 398.9 L162.7 393.1 L176.3 396.1 L190.4 399.1Z"/></g><line x1="28.7" y1="336.3" x2="31.7" y2="336.3" stroke="#7a7a7a" stroke-width="0.9"/><text x="26.5" y="340.6" font-size="12.3" text-anchor="end" fill="#111">π/2</text><line x1="28.7" y1="381.6" x2="31.7" y2="381.6" stroke="#7a7a7a" stroke-width="0.9"/><text x="26.5" y="385.9" font-size="12.3" text-anchor="end" fill="#111">π/4</text><line x1="28.7" y1="426.9" x2="31.7" y2="426.9" stroke="#7a7a7a" stroke-width="0.9"/><text x="26.5" y="431.2" font-size="12.3" text-anchor="end" fill="#111">0</text><line x1="28.7" y1="472.2" x2="31.7" y2="472.2" stroke="#7a7a7a" stroke-width="0.9"/><text x="26.5" y="476.5" font-size="12.3" text-anchor="end" fill="#111">-π/4</text><line x1="28.7" y1="517.5" x2="31.7" y2="517.5" stroke="#7a7a7a" stroke-width="0.9"/><text x="26.5" y="521.8" font-size="12.3" text-anchor="end" fill="#111">-π/2</text><text x="7" y="302" font-size="15.5" font-style="italic" fill="#111">Φ<tspan font-size="8.5" dy="2.5">A</tspan></text><line x1="31.7" y1="535.1" x2="30.2" y2="538.1" stroke="#7a7a7a" stroke-width="0.9"/><text x="28.7" y="550.6" font-size="12.2" text-anchor="middle" fill="#111">11</text><line x1="71.6" y1="549.6" x2="70.1" y2="552.6" stroke="#7a7a7a" stroke-width="0.9"/><text x="67.6" y="567.1" font-size="12.2" text-anchor="middle" fill="#111">10</text><line x1="111.6" y1="564.1" x2="110.1" y2="567.1" stroke="#7a7a7a" stroke-width="0.9"/><text x="106.6" y="577.1" font-size="12.2" text-anchor="middle" fill="#111">9</text><line x1="111.6" y1="564.1" x2="112.1" y2="567.1" stroke="#7a7a7a" stroke-width="0.9"/><text x="116.6" y="578.6" font-size="12.2" text-anchor="middle" fill="#111">0</text><line x1="177.2" y1="560.4" x2="177.7" y2="563.4" stroke="#7a7a7a" stroke-width="0.9"/><text x="180.2" y="575.4" font-size="12.2" text-anchor="middle" fill="#111">5</text><line x1="242.8" y1="556.6" x2="243.3" y2="559.6" stroke="#7a7a7a" stroke-width="0.9"/><text x="242.8" y="571.1" font-size="12.2" text-anchor="middle" fill="#111">10</text><text x="0" y="0" font-size="11.6" text-anchor="middle" font-style="italic" fill="#111" transform="translate(51.5,578.5) rotate(24)">d (μm)</text><text x="182.5" y="588" font-size="11.6" text-anchor="middle" fill="#111">ɑ (μm)</text><rect x="12.8" y="610.8" width="14.2" height="13.6" fill="#2f7bb6"/><text x="34.4" y="621.8" font-size="11.6" fill="#111">η = 0.25</text><rect x="94.3" y="610.8" width="14.2" height="13.6" fill="#163a1e"/><text x="115.9" y="621.8" font-size="11.6" fill="#111">η = 0.50</text><rect x="175.2" y="610.8" width="14.2" height="13.6" fill="#b8404a"/><text x="196.8" y="621.8" font-size="11.6" fill="#111">η = 0.75</text>
<defs>
<linearGradient id="curdf" x1="0" y1="340" x2="0" y2="418" gradientUnits="userSpaceOnUse"><stop offset="0" stop-color="#3f9fd2"/><stop offset="0.82" stop-color="#52aeda"/><stop offset="1" stop-color="#a6d8ee"/></linearGradient>
<linearGradient id="curds" x1="405" y1="0" x2="430" y2="8" gradientUnits="userSpaceOnUse"><stop offset="0" stop-color="#429fd2"/><stop offset="0.75" stop-color="#50acd9"/><stop offset="1" stop-color="#a0d4ec"/></linearGradient>
<linearGradient id="curff" x1="0" y1="515" x2="0" y2="600" gradientUnits="userSpaceOnUse"><stop offset="0" stop-color="#3f9fd2"/><stop offset="0.82" stop-color="#52aeda"/><stop offset="1" stop-color="#a6d8ee"/></linearGradient>
<linearGradient id="curfs" x1="309" y1="8" x2="284" y2="0" gradientUnits="userSpaceOnUse"><stop offset="0" stop-color="#429fd2"/><stop offset="0.75" stop-color="#50acd9"/><stop offset="1" stop-color="#a0d4ec"/></linearGradient>
<filter id="blr" x="-5%" y="-5%" width="110%" height="110%"><feGaussianBlur stdDeviation="0.85"/></filter>
<pattern id="stripes" width="1.5" height="8" patternUnits="userSpaceOnUse"><rect x="0" y="0" width="0.5" height="8" fill="#ffffff" fill-opacity="0.22"/></pattern>
</defs><text x="264" y="283.2" font-size="18" font-weight="bold" fill="#000">d</text><line x1="286.6" y1="337.4" x2="286.6" y2="408.6" stroke="#8a8a8a" stroke-width="0.9"/><line x1="286.6" y1="337.4" x2="307.6" y2="283.5" stroke="#8a8a8a" stroke-width="0.8"/><line x1="307.6" y1="283.5" x2="307.6" y2="355.8" stroke="#8a8a8a" stroke-width="0.8"/><line x1="307.6" y1="284.5" x2="426.9" y2="294.5" stroke="#8a8a8a" stroke-width="0.8"/><line x1="426.9" y1="294.5" x2="427.7" y2="364" stroke="#8a8a8a" stroke-width="0.8"/><line x1="307.5" y1="355.8" x2="427.7" y2="364" stroke="#c8c8c8" stroke-width="0.7"/><g stroke-width="0.5" filter="url(#blr)"><path fill="#d93840" stroke="#d93840" d="M306.2 354.7 L307.7 355.1 L309 354.7 L307.5 354.8Z"/><path fill="#da3941" stroke="#da3941" d="M307.7 355.1 L309.6 355.5 L310.9 354.6 L309 354.7Z"/><path fill="#db3941" stroke="#db3941" d="M309.6 355.5 L311.8 355.8 L313.1 354.5 L310.9 354.6Z"/><path fill="#db3941" stroke="#db3941" d="M311.8 355.8 L314.4 356.1 L315.7 354.4 L313.1 354.5Z"/><path fill="#db3941" stroke="#db3941" d="M314.4 356.1 L317.4 356.2 L318.7 354.2 L315.7 354.4Z"/><path fill="#db3941" stroke="#db3941" d="M317.4 356.2 L320.7 356.3 L322 354 L318.7 354.2Z"/><path fill="#db3941" stroke="#db3941" d="M320.7 356.3 L324.3 356.3 L325.6 353.8 L322 354Z"/><path fill="#db3941" stroke="#db3941" d="M324.3 356.3 L328.2 356.2 L329.5 353.5 L325.6 353.8Z"/><path fill="#db3941" stroke="#db3941" d="M328.2 356.2 L332.3 356.1 L333.6 353.2 L329.5 353.5Z"/><path fill="#da3941" stroke="#da3941" d="M332.3 356.1 L336.7 356 L338 352.9 L333.6 353.2Z"/><path fill="#da3941" stroke="#da3941" d="M336.7 356 L341.3 355.8 L342.6 352.5 L338 352.9Z"/><path fill="#da3941" stroke="#da3941" d="M341.3 355.8 L346.1 355.5 L347.4 352.1 L342.6 352.5Z"/><path fill="#d93840" stroke="#d93840" d="M346.1 355.5 L351 355.2 L352.3 351.6 L347.4 352.1Z"/><path fill="#d83840" stroke="#d83840" d="M351 355.2 L356.1 354.8 L357.3 351 L352.3 351.6Z"/><path fill="#d73840" stroke="#d73840" d="M356.1 354.8 L361.2 354.2 L362.5 350.4 L357.3 351Z"/><path fill="#d5373f" stroke="#d5373f" d="M361.2 354.2 L366.3 353.6 L367.6 349.6 L362.5 350.4Z"/><path fill="#d2363e" stroke="#d2363e" d="M366.3 353.6 L371.4 352.9 L372.7 348.7 L367.6 349.6Z"/><path fill="#ce353d" stroke="#ce353d" d="M371.4 352.9 L376.6 352 L377.9 347.6 L372.7 348.7Z"/><path fill="#c7323a" stroke="#c7323a" d="M376.6 352 L381.6 350.9 L382.9 346.3 L377.9 347.6Z"/><path fill="#bc2f37" stroke="#bc2f37" d="M381.6 350.9 L386.5 349.6 L387.8 344.8 L382.9 346.3Z"/><path fill="#ab2931" stroke="#ab2931" d="M386.5 349.6 L391.3 348.1 L392.6 343.1 L387.8 344.8Z"/><path fill="#96222a" stroke="#96222a" d="M391.3 348.1 L395.9 346.2 L397.2 340.9 L392.6 343.1Z"/><path fill="#7f1a22" stroke="#7f1a22" d="M395.9 346.2 L400.3 344 L401.6 338.4 L397.2 340.9Z"/><path fill="#6b131b" stroke="#6b131b" d="M400.3 344 L404.4 341.3 L405.7 335.4 L401.6 338.4Z"/><path fill="#5c0e16" stroke="#5c0e16" d="M404.4 341.3 L408.3 338.1 L409.6 331.8 L405.7 335.4Z"/><path fill="#540b13" stroke="#540b13" d="M408.3 338.1 L411.9 334.4 L413.2 327.6 L409.6 331.8Z"/><path fill="#4f0a12" stroke="#4f0a12" d="M411.9 334.4 L415.2 330.1 L416.5 322.7 L413.2 327.6Z"/><path fill="#4d0911" stroke="#4d0911" d="M415.2 330.1 L418.2 325.3 L419.5 317.3 L416.5 322.7Z"/><path fill="#4b0810" stroke="#4b0810" d="M418.2 325.3 L420.8 320.1 L422.1 311.5 L419.5 317.3Z"/><path fill="#4b0810" stroke="#4b0810" d="M420.8 320.1 L423 314.7 L424.3 305.5 L422.1 311.5Z"/><path fill="#4a0810" stroke="#4a0810" d="M423 314.7 L424.9 309.5 L426.2 299.6 L424.3 305.5Z"/><path fill="#4a0810" stroke="#4a0810" d="M424.9 309.5 L426.4 304.6 L427.7 294.2 L426.2 299.6Z"/><path fill="#aa2931" stroke="#aa2931" d="M304.9 354.1 L306.4 355.1 L307.7 355.1 L306.2 354.7Z"/><path fill="#c5323a" stroke="#c5323a" d="M306.4 355.1 L308.3 356.1 L309.6 355.5 L307.7 355.1Z"/><path fill="#d5373f" stroke="#d5373f" d="M308.3 356.1 L310.5 356.9 L311.8 355.8 L309.6 355.5Z"/><path fill="#db3941" stroke="#db3941" d="M310.5 356.9 L313.1 357.5 L314.4 356.1 L311.8 355.8Z"/><path fill="#dc3a42" stroke="#dc3a42" d="M313.1 357.5 L316.1 358 L317.4 356.2 L314.4 356.1Z"/><path fill="#dc3a42" stroke="#dc3a42" d="M316.1 358 L319.4 358.4 L320.7 356.3 L317.4 356.2Z"/><path fill="#dc3a42" stroke="#dc3a42" d="M319.4 358.4 L323 358.6 L324.3 356.3 L320.7 356.3Z"/><path fill="#dc3a42" stroke="#dc3a42" d="M323 358.6 L326.9 358.8 L328.2 356.2 L324.3 356.3Z"/><path fill="#dc3a42" stroke="#dc3a42" d="M326.9 358.8 L331 358.9 L332.3 356.1 L328.2 356.2Z"/><path fill="#dc3a42" stroke="#dc3a42" d="M331 358.9 L335.4 358.9 L336.7 356 L332.3 356.1Z"/><path fill="#dc3a41" stroke="#dc3a41" d="M335.4 358.9 L340 358.9 L341.3 355.8 L336.7 356Z"/><path fill="#dc3941" stroke="#dc3941" d="M340 358.9 L344.8 358.8 L346.1 355.5 L341.3 355.8Z"/><path fill="#db3941" stroke="#db3941" d="M344.8 358.8 L349.7 358.6 L351 355.2 L346.1 355.5Z"/><path fill="#db3941" stroke="#db3941" d="M349.7 358.6 L354.8 358.4 L356.1 354.8 L351 355.2Z"/><path fill="#da3941" stroke="#da3941" d="M354.8 358.4 L359.9 358 L361.2 354.2 L356.1 354.8Z"/><path fill="#d93840" stroke="#d93840" d="M359.9 358 L365 357.6 L366.3 353.6 L361.2 354.2Z"/><path fill="#d63840" stroke="#d63840" d="M365 357.6 L370.2 357 L371.4 352.9 L366.3 353.6Z"/><path fill="#d3373f" stroke="#d3373f" d="M370.2 357 L375.3 356.3 L376.6 352 L371.4 352.9Z"/><path fill="#ce353d" stroke="#ce353d" d="M375.3 356.3 L380.3 355.4 L381.6 350.9 L376.6 352Z"/><path fill="#c5323a" stroke="#c5323a" d="M380.3 355.4 L385.2 354.3 L386.5 349.6 L381.6 350.9Z"/><path fill="#b72d35" stroke="#b72d35" d="M385.2 354.3 L390 353 L391.3 348.1 L386.5 349.6Z"/><path fill="#a4272f" stroke="#a4272f" d="M390 353 L394.6 351.4 L395.9 346.2 L391.3 348.1Z"/><path fill="#8c1f27" stroke="#8c1f27" d="M394.6 351.4 L399 349.5 L400.3 344 L395.9 346.2Z"/><path fill="#75171f" stroke="#75171f" d="M399 349.5 L403.2 347.2 L404.4 341.3 L400.3 344Z"/><path fill="#631119" stroke="#631119" d="M403.2 347.2 L407 344.4 L408.3 338.1 L404.4 341.3Z"/><path fill="#570d15" stroke="#570d15" d="M407 344.4 L410.6 341.1 L411.9 334.4 L408.3 338.1Z"/><path fill="#510a12" stroke="#510a12" d="M410.6 341.1 L413.9 337.3 L415.2 330.1 L411.9 334.4Z"/><path fill="#4e0911" stroke="#4e0911" d="M413.9 337.3 L416.9 333 L418.2 325.3 L415.2 330.1Z"/><path fill="#4c0911" stroke="#4c0911" d="M416.9 333 L419.5 328.4 L420.8 320.1 L418.2 325.3Z"/><path fill="#4b0810" stroke="#4b0810" d="M419.5 328.4 L421.7 323.7 L423 314.7 L420.8 320.1Z"/><path fill="#4b0810" stroke="#4b0810" d="M421.7 323.7 L423.6 319 L424.9 309.5 L423 314.7Z"/><path fill="#4a0810" stroke="#4a0810" d="M423.6 319 L425.1 314.7 L426.4 304.6 L424.9 309.5Z"/><path fill="#66121a" stroke="#66121a" d="M303.6 353.4 L305.1 354.9 L306.4 355.1 L304.9 354.1Z"/><path fill="#821b23" stroke="#821b23" d="M305.1 354.9 L307 356.4 L308.3 356.1 L306.4 355.1Z"/><path fill="#ab2931" stroke="#ab2931" d="M307 356.4 L309.2 357.8 L310.5 356.9 L308.3 356.1Z"/><path fill="#cb343c" stroke="#cb343c" d="M309.2 357.8 L311.9 358.9 L313.1 357.5 L310.5 356.9Z"/><path fill="#d93941" stroke="#d93941" d="M311.9 358.9 L314.8 359.7 L316.1 358 L313.1 357.5Z"/><path fill="#dc3a42" stroke="#dc3a42" d="M314.8 359.7 L318.1 360.4 L319.4 358.4 L316.1 358Z"/><path fill="#dd3a42" stroke="#dd3a42" d="M318.1 360.4 L321.7 360.9 L323 358.6 L319.4 358.4Z"/><path fill="#dd3a42" stroke="#dd3a42" d="M321.7 360.9 L325.6 361.3 L326.9 358.8 L323 358.6Z"/><path fill="#dd3a42" stroke="#dd3a42" d="M325.6 361.3 L329.7 361.6 L331 358.9 L326.9 358.8Z"/><path fill="#dd3a42" stroke="#dd3a42" d="M329.7 361.6 L334.1 361.8 L335.4 358.9 L331 358.9Z"/><path fill="#dd3a42" stroke="#dd3a42" d="M334.1 361.8 L338.7 362 L340 358.9 L335.4 358.9Z"/><path fill="#dd3a42" stroke="#dd3a42" d="M338.7 362 L343.5 362.1 L344.8 358.8 L340 358.9Z"/><path fill="#dd3a42" stroke="#dd3a42" d="M343.5 362.1 L348.4 362.1 L349.7 358.6 L344.8 358.8Z"/><path fill="#dd3a42" stroke="#dd3a42" d="M348.4 362.1 L353.5 362 L354.8 358.4 L349.7 358.6Z"/><path fill="#dc3a42" stroke="#dc3a42" d="M353.5 362 L358.6 361.8 L359.9 358 L354.8 358.4Z"/><path fill="#db3a42" stroke="#db3a42" d="M358.6 361.8 L363.7 361.5 L365 357.6 L359.9 358Z"/><path fill="#da3941" stroke="#da3941" d="M363.7 361.5 L368.9 361.1 L370.2 357 L365 357.6Z"/><path fill="#d73940" stroke="#d73940" d="M368.9 361.1 L374 360.6 L375.3 356.3 L370.2 357Z"/><path fill="#d4373f" stroke="#d4373f" d="M374 360.6 L379 359.9 L380.3 355.4 L375.3 356.3Z"/><path fill="#cd353d" stroke="#cd353d" d="M379 359.9 L383.9 359 L385.2 354.3 L380.3 355.4Z"/><path fill="#c23139" stroke="#c23139" d="M383.9 359 L388.7 357.9 L390 353 L385.2 354.3Z"/><path fill="#b22c34" stroke="#b22c34" d="M388.7 357.9 L393.3 356.5 L394.6 351.4 L390 353Z"/><path fill="#9b242c" stroke="#9b242c" d="M393.3 356.5 L397.7 354.9 L399 349.5 L394.6 351.4Z"/><path fill="#821b23" stroke="#821b23" d="M397.7 354.9 L401.9 352.9 L403.2 347.2 L399 349.5Z"/><path fill="#6c141c" stroke="#6c141c" d="M401.9 352.9 L405.7 350.4 L407 344.4 L403.2 347.2Z"/><path fill="#5d0f16" stroke="#5d0f16" d="M405.7 350.4 L409.3 347.6 L410.6 341.1 L407 344.4Z"/><path fill="#540b13" stroke="#540b13" d="M409.3 347.6 L412.6 344.3 L413.9 337.3 L410.6 341.1Z"/><path fill="#4f0a12" stroke="#4f0a12" d="M412.6 344.3 L415.6 340.6 L416.9 333 L413.9 337.3Z"/><path fill="#4d0911" stroke="#4d0911" d="M415.6 340.6 L418.2 336.5 L419.5 328.4 L416.9 333Z"/><path fill="#4c0911" stroke="#4c0911" d="M418.2 336.5 L420.4 332.4 L421.7 323.7 L419.5 328.4Z"/><path fill="#4b0810" stroke="#4b0810" d="M420.4 332.4 L422.3 328.3 L423.6 319 L421.7 323.7Z"/><path fill="#4b0810" stroke="#4b0810" d="M422.3 328.3 L423.8 324.5 L425.1 314.7 L423.6 319Z"/><path fill="#530b13" stroke="#530b13" d="M302.3 352.4 L303.8 354.6 L305.1 354.9 L303.6 353.4Z"/><path fill="#5e0f17" stroke="#5e0f17" d="M303.8 354.6 L305.7 356.7 L307 356.4 L305.1 354.9Z"/><path fill="#781820" stroke="#781820" d="M305.7 356.7 L308 358.6 L309.2 357.8 L307 356.4Z"/><path fill="#a4272f" stroke="#a4272f" d="M308 358.6 L310.6 360.1 L311.9 358.9 L309.2 357.8Z"/><path fill="#c8343b" stroke="#c8343b" d="M310.6 360.1 L313.5 361.4 L314.8 359.7 L311.9 358.9Z"/><path fill="#d83941" stroke="#d83941" d="M313.5 361.4 L316.8 362.3 L318.1 360.4 L314.8 359.7Z"/><path fill="#dd3b42" stroke="#dd3b42" d="M316.8 362.3 L320.4 363.1 L321.7 360.9 L318.1 360.4Z"/><path fill="#de3b43" stroke="#de3b43" d="M320.4 363.1 L324.3 363.8 L325.6 361.3 L321.7 360.9Z"/><path fill="#de3b43" stroke="#de3b43" d="M324.3 363.8 L328.4 364.3 L329.7 361.6 L325.6 361.3Z"/><path fill="#de3b43" stroke="#de3b43" d="M328.4 364.3 L332.8 364.7 L334.1 361.8 L329.7 361.6Z"/><path fill="#de3b43" stroke="#de3b43" d="M332.8 364.7 L337.4 365 L338.7 362 L334.1 361.8Z"/><path fill="#de3b43" stroke="#de3b43" d="M337.4 365 L342.2 365.3 L343.5 362.1 L338.7 362Z"/><path fill="#de3b43" stroke="#de3b43" d="M342.2 365.3 L347.1 365.4 L348.4 362.1 L343.5 362.1Z"/><path fill="#de3b43" stroke="#de3b43" d="M347.1 365.4 L352.2 365.5 L353.5 362 L348.4 362.1Z"/><path fill="#de3b43" stroke="#de3b43" d="M352.2 365.5 L357.3 365.5 L358.6 361.8 L353.5 362Z"/><path fill="#dd3b43" stroke="#dd3b43" d="M357.3 365.5 L362.4 365.3 L363.7 361.5 L358.6 361.8Z"/><path fill="#dc3b43" stroke="#dc3b43" d="M362.4 365.3 L367.6 365.1 L368.9 361.1 L363.7 361.5Z"/><path fill="#db3b42" stroke="#db3b42" d="M367.6 365.1 L372.7 364.7 L374 360.6 L368.9 361.1Z"/><path fill="#d83a42" stroke="#d83a42" d="M372.7 364.7 L377.7 364.2 L379 359.9 L374 360.6Z"/><path fill="#d43840" stroke="#d43840" d="M377.7 364.2 L382.6 363.5 L383.9 359 L379 359.9Z"/><path fill="#cc363d" stroke="#cc363d" d="M382.6 363.5 L387.4 362.6 L388.7 357.9 L383.9 359Z"/><path fill="#bf3139" stroke="#bf3139" d="M387.4 362.6 L392 361.5 L393.3 356.5 L388.7 357.9Z"/><path fill="#ab2a32" stroke="#ab2a32" d="M392 361.5 L396.4 360.1 L397.7 354.9 L393.3 356.5Z"/><path fill="#922129" stroke="#922129" d="M396.4 360.1 L400.6 358.4 L401.9 352.9 L397.7 354.9Z"/><path fill="#781820" stroke="#781820" d="M400.6 358.4 L404.5 356.4 L405.7 350.4 L401.9 352.9Z"/><path fill="#651119" stroke="#651119" d="M404.5 356.4 L408.1 353.9 L409.3 347.6 L405.7 350.4Z"/><path fill="#590d15" stroke="#590d15" d="M408.1 353.9 L411.3 351.1 L412.6 344.3 L409.3 347.6Z"/><path fill="#520b13" stroke="#520b13" d="M411.3 351.1 L414.3 347.9 L415.6 340.6 L412.6 344.3Z"/><path fill="#4e0a11" stroke="#4e0a11" d="M414.3 347.9 L416.9 344.4 L418.2 336.5 L415.6 340.6Z"/><path fill="#4c0911" stroke="#4c0911" d="M416.9 344.4 L419.1 340.8 L420.4 332.4 L418.2 336.5Z"/><path fill="#4b0911" stroke="#4b0911" d="M419.1 340.8 L421 337.2 L422.3 328.3 L420.4 332.4Z"/><path fill="#4b0810" stroke="#4b0810" d="M421 337.2 L422.5 333.9 L423.8 324.5 L422.3 328.3Z"/><path fill="#4e0911" stroke="#4e0911" d="M301 351.4 L302.5 354.2 L303.8 354.6 L302.3 352.4Z"/><path fill="#520b13" stroke="#520b13" d="M302.5 354.2 L304.4 356.9 L305.7 356.7 L303.8 354.6Z"/><path fill="#5f0f17" stroke="#5f0f17" d="M304.4 356.9 L306.7 359.3 L308 358.6 L305.7 356.7Z"/><path fill="#7d1a22" stroke="#7d1a22" d="M306.7 359.3 L309.3 361.3 L310.6 360.1 L308 358.6Z"/><path fill="#aa2931" stroke="#aa2931" d="M309.3 361.3 L312.2 362.9 L313.5 361.4 L310.6 360.1Z"/><path fill="#cb353c" stroke="#cb353c" d="M312.2 362.9 L315.5 364.2 L316.8 362.3 L313.5 361.4Z"/><path fill="#d93a41" stroke="#d93a41" d="M315.5 364.2 L319.1 365.3 L320.4 363.1 L316.8 362.3Z"/><path fill="#dd3b43" stroke="#dd3b43" d="M319.1 365.3 L323 366.2 L324.3 363.8 L320.4 363.1Z"/><path fill="#df3c44" stroke="#df3c44" d="M323 366.2 L327.1 366.9 L328.4 364.3 L324.3 363.8Z"/><path fill="#df3c44" stroke="#df3c44" d="M327.1 366.9 L331.5 367.5 L332.8 364.7 L328.4 364.3Z"/><path fill="#df3d44" stroke="#df3d44" d="M331.5 367.5 L336.1 368 L337.4 365 L332.8 364.7Z"/><path fill="#df3d45" stroke="#df3d45" d="M336.1 368 L340.9 368.4 L342.2 365.3 L337.4 365Z"/><path fill="#df3e45" stroke="#df3e45" d="M340.9 368.4 L345.8 368.8 L347.1 365.4 L342.2 365.3Z"/><path fill="#df3e45" stroke="#df3e45" d="M345.8 368.8 L350.9 369 L352.2 365.5 L347.1 365.4Z"/><path fill="#df3e46" stroke="#df3e46" d="M350.9 369 L356 369.1 L357.3 365.5 L352.2 365.5Z"/><path fill="#df3f46" stroke="#df3f46" d="M356 369.1 L361.1 369.1 L362.4 365.3 L357.3 365.5Z"/><path fill="#df3f46" stroke="#df3f46" d="M361.1 369.1 L366.3 369 L367.6 365.1 L362.4 365.3Z"/><path fill="#de3f46" stroke="#de3f46" d="M366.3 369 L371.4 368.8 L372.7 364.7 L367.6 365.1Z"/><path fill="#dd3f46" stroke="#dd3f46" d="M371.4 368.8 L376.4 368.5 L377.7 364.2 L372.7 364.7Z"/><path fill="#da3e45" stroke="#da3e45" d="M376.4 368.5 L381.3 368 L382.6 363.5 L377.7 364.2Z"/><path fill="#d43c43" stroke="#d43c43" d="M381.3 368 L386.1 367.3 L387.4 362.6 L382.6 363.5Z"/><path fill="#cb3840" stroke="#cb3840" d="M386.1 367.3 L390.7 366.4 L392 361.5 L387.4 362.6Z"/><path fill="#bb323a" stroke="#bb323a" d="M390.7 366.4 L395.1 365.3 L396.4 360.1 L392 361.5Z"/><path fill="#a42931" stroke="#a42931" d="M395.1 365.3 L399.3 363.9 L400.6 358.4 L396.4 360.1Z"/><path fill="#891f27" stroke="#891f27" d="M399.3 363.9 L403.2 362.1 L404.5 356.4 L400.6 358.4Z"/><path fill="#71161e" stroke="#71161e" d="M403.2 362.1 L406.8 360.1 L408.1 353.9 L404.5 356.4Z"/><path fill="#601018" stroke="#601018" d="M406.8 360.1 L410 357.7 L411.3 351.1 L408.1 353.9Z"/><path fill="#560c14" stroke="#560c14" d="M410 357.7 L413 354.9 L414.3 347.9 L411.3 351.1Z"/><path fill="#510a12" stroke="#510a12" d="M413 354.9 L415.6 352 L416.9 344.4 L414.3 347.9Z"/><path fill="#4e0911" stroke="#4e0911" d="M415.6 352 L417.9 348.9 L419.1 340.8 L416.9 344.4Z"/><path fill="#4c0911" stroke="#4c0911" d="M417.9 348.9 L419.7 345.8 L421 337.2 L419.1 340.8Z"/><path fill="#4c0911" stroke="#4c0911" d="M419.7 345.8 L421.2 343 L422.5 333.9 L421 337.2Z"/><path fill="#4c0911" stroke="#4c0911" d="M299.7 350.2 L301.2 353.7 L302.5 354.2 L301 351.4Z"/><path fill="#4e0911" stroke="#4e0911" d="M301.2 353.7 L303.1 357 L304.4 356.9 L302.5 354.2Z"/><path fill="#540c14" stroke="#540c14" d="M303.1 357 L305.4 360 L306.7 359.3 L304.4 356.9Z"/><path fill="#66121a" stroke="#66121a" d="M305.4 360 L308 362.5 L309.3 361.3 L306.7 359.3Z"/><path fill="#8a1f26" stroke="#8a1f26" d="M308 362.5 L310.9 364.5 L312.2 362.9 L309.3 361.3Z"/><path fill="#b52e35" stroke="#b52e35" d="M310.9 364.5 L314.2 366.1 L315.5 364.2 L312.2 362.9Z"/><path fill="#cf383f" stroke="#cf383f" d="M314.2 366.1 L317.8 367.4 L319.1 365.3 L315.5 364.2Z"/><path fill="#da3c43" stroke="#da3c43" d="M317.8 367.4 L321.7 368.5 L323 366.2 L319.1 365.3Z"/><path fill="#de3e45" stroke="#de3e45" d="M321.7 368.5 L325.9 369.5 L327.1 366.9 L323 366.2Z"/><path fill="#e03f46" stroke="#e03f46" d="M325.9 369.5 L330.2 370.3 L331.5 367.5 L327.1 366.9Z"/><path fill="#e04047" stroke="#e04047" d="M330.2 370.3 L334.8 371 L336.1 368 L331.5 367.5Z"/><path fill="#e14148" stroke="#e14148" d="M334.8 371 L339.6 371.6 L340.9 368.4 L336.1 368Z"/><path fill="#e14249" stroke="#e14249" d="M339.6 371.6 L344.6 372 L345.8 368.8 L340.9 368.4Z"/><path fill="#e1444b" stroke="#e1444b" d="M344.6 372 L349.6 372.4 L350.9 369 L345.8 368.8Z"/><path fill="#e2454c" stroke="#e2454c" d="M349.6 372.4 L354.7 372.7 L356 369.1 L350.9 369Z"/><path fill="#e2474e" stroke="#e2474e" d="M354.7 372.7 L359.8 372.9 L361.1 369.1 L356 369.1Z"/><path fill="#e2484f" stroke="#e2484f" d="M359.8 372.9 L365 372.9 L366.3 369 L361.1 369.1Z"/><path fill="#e24950" stroke="#e24950" d="M365 372.9 L370.1 372.9 L371.4 368.8 L366.3 369Z"/><path fill="#e14a50" stroke="#e14a50" d="M370.1 372.9 L375.1 372.7 L376.4 368.5 L371.4 368.8Z"/><path fill="#e04a50" stroke="#e04a50" d="M375.1 372.7 L380 372.4 L381.3 368 L376.4 368.5Z"/><path fill="#dd484f" stroke="#dd484f" d="M380 372.4 L384.8 371.9 L386.1 367.3 L381.3 368Z"/><path fill="#d7454c" stroke="#d7454c" d="M384.8 371.9 L389.4 371.2 L390.7 366.4 L386.1 367.3Z"/><path fill="#cb4047" stroke="#cb4047" d="M389.4 371.2 L393.8 370.3 L395.1 365.3 L390.7 366.4Z"/><path fill="#b9373e" stroke="#b9373e" d="M393.8 370.3 L398 369.2 L399.3 363.9 L395.1 365.3Z"/><path fill="#9f2b33" stroke="#9f2b33" d="M398 369.2 L401.9 367.8 L403.2 362.1 L399.3 363.9Z"/><path fill="#831f27" stroke="#831f27" d="M401.9 367.8 L405.5 366 L406.8 360.1 L403.2 362.1Z"/><path fill="#6c161e" stroke="#6c161e" d="M405.5 366 L408.8 364 L410 357.7 L406.8 360.1Z"/><path fill="#5d1018" stroke="#5d1018" d="M408.8 364 L411.7 361.8 L413 354.9 L410 357.7Z"/><path fill="#550c14" stroke="#550c14" d="M411.7 361.8 L414.3 359.3 L415.6 352 L413 354.9Z"/><path fill="#500a12" stroke="#500a12" d="M414.3 359.3 L416.6 356.7 L417.9 348.9 L415.6 352Z"/><path fill="#4e0a11" stroke="#4e0a11" d="M416.6 356.7 L418.4 354.1 L419.7 345.8 L417.9 348.9Z"/><path fill="#4d0911" stroke="#4d0911" d="M418.4 354.1 L419.9 351.7 L421.2 343 L419.7 345.8Z"/><path fill="#4b0810" stroke="#4b0810" d="M298.4 349 L299.9 353.1 L301.2 353.7 L299.7 350.2Z"/><path fill="#4c0911" stroke="#4c0911" d="M299.9 353.1 L301.8 357.1 L303.1 357 L301.2 353.7Z"/><path fill="#500a12" stroke="#500a12" d="M301.8 357.1 L304.1 360.6 L305.4 360 L303.1 357Z"/><path fill="#5a0e16" stroke="#5a0e16" d="M304.1 360.6 L306.7 363.6 L308 362.5 L305.4 360Z"/><path fill="#73171e" stroke="#73171e" d="M306.7 363.6 L309.6 366 L310.9 364.5 L308 362.5Z"/><path fill="#9c262d" stroke="#9c262d" d="M309.6 366 L312.9 367.9 L314.2 366.1 L310.9 364.5Z"/><path fill="#c0343b" stroke="#c0343b" d="M312.9 367.9 L316.5 369.5 L317.8 367.4 L314.2 366.1Z"/><path fill="#d33c43" stroke="#d33c43" d="M316.5 369.5 L320.4 370.9 L321.7 368.5 L317.8 367.4Z"/><path fill="#dc4047" stroke="#dc4047" d="M320.4 370.9 L324.6 372 L325.9 369.5 L321.7 368.5Z"/><path fill="#e0434a" stroke="#e0434a" d="M324.6 372 L329 373 L330.2 370.3 L325.9 369.5Z"/><path fill="#e2464c" stroke="#e2464c" d="M329 373 L333.6 373.9 L334.8 371 L330.2 370.3Z"/><path fill="#e3484f" stroke="#e3484f" d="M333.6 373.9 L338.3 374.6 L339.6 371.6 L334.8 371Z"/><path fill="#e44c52" stroke="#e44c52" d="M338.3 374.6 L343.3 375.3 L344.6 372 L339.6 371.6Z"/><path fill="#e54f55" stroke="#e54f55" d="M343.3 375.3 L348.3 375.8 L349.6 372.4 L344.6 372Z"/><path fill="#e55359" stroke="#e55359" d="M348.3 375.8 L353.4 376.2 L354.7 372.7 L349.6 372.4Z"/><path fill="#e6585e" stroke="#e6585e" d="M353.4 376.2 L358.5 376.6 L359.8 372.9 L354.7 372.7Z"/><path fill="#e75c62" stroke="#e75c62" d="M358.5 376.6 L363.7 376.8 L365 372.9 L359.8 372.9Z"/><path fill="#e86166" stroke="#e86166" d="M363.7 376.8 L368.8 376.8 L370.1 372.9 L365 372.9Z"/><path fill="#e8646a" stroke="#e8646a" d="M368.8 376.8 L373.8 376.8 L375.1 372.7 L370.1 372.9Z"/><path fill="#e8676c" stroke="#e8676c" d="M373.8 376.8 L378.8 376.6 L380 372.4 L375.1 372.7Z"/><path fill="#e7676c" stroke="#e7676c" d="M378.8 376.6 L383.5 376.3 L384.8 371.9 L380 372.4Z"/><path fill="#e3656a" stroke="#e3656a" d="M383.5 376.3 L388.1 375.9 L389.4 371.2 L384.8 371.9Z"/><path fill="#dd6065" stroke="#dd6065" d="M388.1 375.9 L392.5 375.2 L393.8 370.3 L389.4 371.2Z"/><path fill="#d1555b" stroke="#d1555b" d="M392.5 375.2 L396.7 374.3 L398 369.2 L393.8 370.3Z"/><path fill="#bb464d" stroke="#bb464d" d="M396.7 374.3 L400.6 373.2 L401.9 367.8 L398 369.2Z"/><path fill="#9f343b" stroke="#9f343b" d="M400.6 373.2 L404.2 371.8 L405.5 366 L401.9 367.8Z"/><path fill="#82242b" stroke="#82242b" d="M404.2 371.8 L407.5 370.2 L408.8 364 L405.5 366Z"/><path fill="#6c1820" stroke="#6c1820" d="M407.5 370.2 L410.4 368.3 L411.7 361.8 L408.8 364Z"/><path fill="#5d1119" stroke="#5d1119" d="M410.4 368.3 L413 366.3 L414.3 359.3 L411.7 361.8Z"/><path fill="#550d15" stroke="#550d15" d="M413 366.3 L415.3 364.1 L416.6 356.7 L414.3 359.3Z"/><path fill="#510b13" stroke="#510b13" d="M415.3 364.1 L417.1 362 L418.4 354.1 L416.6 356.7Z"/><path fill="#4f0a12" stroke="#4f0a12" d="M417.1 362 L418.6 360.1 L419.9 351.7 L418.4 354.1Z"/><path fill="#4b0810" stroke="#4b0810" d="M297.1 347.8 L298.7 352.5 L299.9 353.1 L298.4 349Z"/><path fill="#4b0810" stroke="#4b0810" d="M298.7 352.5 L300.5 357.1 L301.8 357.1 L299.9 353.1Z"/><path fill="#4d0911" stroke="#4d0911" d="M300.5 357.1 L302.8 361.2 L304.1 360.6 L301.8 357.1Z"/><path fill="#530b13" stroke="#530b13" d="M302.8 361.2 L305.4 364.7 L306.7 363.6 L304.1 360.6Z"/><path fill="#641219" stroke="#641219" d="M305.4 364.7 L308.3 367.5 L309.6 366 L306.7 363.6Z"/><path fill="#851e26" stroke="#851e26" d="M308.3 367.5 L311.6 369.7 L312.9 367.9 L309.6 366Z"/><path fill="#ad2e35" stroke="#ad2e35" d="M311.6 369.7 L315.2 371.6 L316.5 369.5 L312.9 367.9Z"/><path fill="#c93a41" stroke="#c93a41" d="M315.2 371.6 L319.1 373.2 L320.4 370.9 L316.5 369.5Z"/><path fill="#d74249" stroke="#d74249" d="M319.1 373.2 L323.3 374.5 L324.6 372 L320.4 370.9Z"/><path fill="#df484e" stroke="#df484e" d="M323.3 374.5 L327.7 375.7 L329 373 L324.6 372Z"/><path fill="#e24d53" stroke="#e24d53" d="M327.7 375.7 L332.3 376.8 L333.6 373.9 L329 373Z"/><path fill="#e55359" stroke="#e55359" d="M332.3 376.8 L337 377.7 L338.3 374.6 L333.6 373.9Z"/><path fill="#e7595f" stroke="#e7595f" d="M337 377.7 L342 378.5 L343.3 375.3 L338.3 374.6Z"/><path fill="#e96167" stroke="#e96167" d="M342 378.5 L347 379.2 L348.3 375.8 L343.3 375.3Z"/><path fill="#eb6c70" stroke="#eb6c70" d="M347 379.2 L352.1 379.7 L353.4 376.2 L348.3 375.8Z"/><path fill="#ed787c" stroke="#ed787c" d="M352.1 379.7 L357.2 380.2 L358.5 376.6 L353.4 376.2Z"/><path fill="#ef8689" stroke="#ef8689" d="M357.2 380.2 L362.4 380.5 L363.7 376.8 L358.5 376.6Z"/><path fill="#f19498" stroke="#f19498" d="M362.4 380.5 L367.5 380.7 L368.8 376.8 L363.7 376.8Z"/><path fill="#f3a3a5" stroke="#f3a3a5" d="M367.5 380.7 L372.5 380.9 L373.8 376.8 L368.8 376.8Z"/><path fill="#f5afb1" stroke="#f5afb1" d="M372.5 380.9 L377.5 380.8 L378.8 376.6 L373.8 376.8Z"/><path fill="#f5b6b8" stroke="#f5b6b8" d="M377.5 380.8 L382.2 380.7 L383.5 376.3 L378.8 376.6Z"/><path fill="#f5b8ba" stroke="#f5b8ba" d="M382.2 380.7 L386.8 380.4 L388.1 375.9 L383.5 376.3Z"/><path fill="#f3b3b5" stroke="#f3b3b5" d="M386.8 380.4 L391.2 380 L392.5 375.2 L388.1 375.9Z"/><path fill="#eda6a8" stroke="#eda6a8" d="M391.2 380 L395.4 379.3 L396.7 374.3 L392.5 375.2Z"/><path fill="#e18f93" stroke="#e18f93" d="M395.4 379.3 L399.3 378.5 L400.6 373.2 L396.7 374.3Z"/><path fill="#ca7175" stroke="#ca7175" d="M399.3 378.5 L402.9 377.4 L404.2 371.8 L400.6 373.2Z"/><path fill="#aa4f55" stroke="#aa4f55" d="M402.9 377.4 L406.2 376.1 L407.5 370.2 L404.2 371.8Z"/><path fill="#8a343a" stroke="#8a343a" d="M406.2 376.1 L409.1 374.7 L410.4 368.3 L407.5 370.2Z"/><path fill="#712128" stroke="#712128" d="M409.1 374.7 L411.7 373 L413 366.3 L410.4 368.3Z"/><path fill="#62161e" stroke="#62161e" d="M411.7 373 L414 371.3 L415.3 364.1 L413 366.3Z"/><path fill="#591118" stroke="#591118" d="M414 371.3 L415.8 369.6 L417.1 362 L415.3 364.1Z"/><path fill="#540e15" stroke="#540e15" d="M415.8 369.6 L417.4 368 L418.6 360.1 L417.1 362Z"/><path fill="#4a0810" stroke="#4a0810" d="M295.9 346.4 L297.4 351.8 L298.7 352.5 L297.1 347.8Z"/><path fill="#4b0810" stroke="#4b0810" d="M297.4 351.8 L299.2 357.1 L300.5 357.1 L298.7 352.5Z"/><path fill="#4c0911" stroke="#4c0911" d="M299.2 357.1 L301.5 361.8 L302.8 361.2 L300.5 357.1Z"/><path fill="#500a12" stroke="#500a12" d="M301.5 361.8 L304.1 365.7 L305.4 364.7 L302.8 361.2Z"/><path fill="#5b0e16" stroke="#5b0e16" d="M304.1 365.7 L307 368.9 L308.3 367.5 L305.4 364.7Z"/><path fill="#741820" stroke="#741820" d="M307 368.9 L310.3 371.5 L311.6 369.7 L308.3 367.5Z"/><path fill="#99272f" stroke="#99272f" d="M310.3 371.5 L313.9 373.6 L315.2 371.6 L311.6 369.7Z"/><path fill="#bb363d" stroke="#bb363d" d="M313.9 373.6 L317.8 375.4 L319.1 373.2 L315.2 371.6Z"/><path fill="#d04248" stroke="#d04248" d="M317.8 375.4 L322 377 L323.3 374.5 L319.1 373.2Z"/><path fill="#db4a51" stroke="#db4a51" d="M322 377 L326.4 378.4 L327.7 375.7 L323.3 374.5Z"/><path fill="#e25258" stroke="#e25258" d="M326.4 378.4 L331 379.6 L332.3 376.8 L327.7 375.7Z"/><path fill="#e65b60" stroke="#e65b60" d="M331 379.6 L335.7 380.7 L337 377.7 L332.3 376.8Z"/><path fill="#e9656a" stroke="#e9656a" d="M335.7 380.7 L340.7 381.6 L342 378.5 L337 377.7Z"/><path fill="#ec7377" stroke="#ec7377" d="M340.7 381.6 L345.7 382.4 L347 379.2 L342 378.5Z"/><path fill="#ef8487" stroke="#ef8487" d="M345.7 382.4 L350.8 383.2 L352.1 379.7 L347 379.2Z"/><path fill="#f2989b" stroke="#f2989b" d="M350.8 383.2 L356 383.7 L357.2 380.2 L352.1 379.7Z"/><path fill="#f6b1b3" stroke="#f6b1b3" d="M356 383.7 L361.1 384.2 L362.4 380.5 L357.2 380.2Z"/><path fill="#f9cbcc" stroke="#f9cbcc" d="M361.1 384.2 L366.2 384.6 L367.5 380.7 L362.4 380.5Z"/><path fill="#fce4e5" stroke="#fce4e5" d="M366.2 384.6 L371.2 384.8 L372.5 380.9 L367.5 380.7Z"/><path fill="#fefafa" stroke="#fefafa" d="M371.2 384.8 L376.2 384.9 L377.5 380.8 L372.5 380.9Z"/><path fill="#ffffff" stroke="#ffffff" d="M376.2 384.9 L380.9 385 L382.2 380.7 L377.5 380.8Z"/><path fill="#ffffff" stroke="#ffffff" d="M380.9 385 L385.5 384.8 L386.8 380.4 L382.2 380.7Z"/><path fill="#ffffff" stroke="#ffffff" d="M385.5 384.8 L389.9 384.6 L391.2 380 L386.8 380.4Z"/><path fill="#ffffff" stroke="#ffffff" d="M389.9 384.6 L394.1 384.2 L395.4 379.3 L391.2 380Z"/><path fill="#fbecec" stroke="#fbecec" d="M394.1 384.2 L398 383.6 L399.3 378.5 L395.4 379.3Z"/><path fill="#f0c8ca" stroke="#f0c8ca" d="M398 383.6 L401.6 382.8 L402.9 377.4 L399.3 378.5Z"/><path fill="#da9b9e" stroke="#da9b9e" d="M401.6 382.8 L404.9 381.9 L406.2 376.1 L402.9 377.4Z"/><path fill="#b96c71" stroke="#b96c71" d="M404.9 381.9 L407.8 380.7 L409.1 374.7 L406.2 376.1Z"/><path fill="#96474d" stroke="#96474d" d="M407.8 380.7 L410.4 379.5 L411.7 373 L409.1 374.7Z"/><path fill="#7c2e35" stroke="#7c2e35" d="M410.4 379.5 L412.7 378.2 L414 371.3 L411.7 373Z"/><path fill="#6a1f27" stroke="#6a1f27" d="M412.7 378.2 L414.6 376.8 L415.8 369.6 L414 371.3Z"/><path fill="#60171f" stroke="#60171f" d="M414.6 376.8 L416.1 375.6 L417.4 368 L415.8 369.6Z"/><path fill="#4a0810" stroke="#4a0810" d="M294.6 345 L296.1 351.1 L297.4 351.8 L295.9 346.4Z"/><path fill="#4b0810" stroke="#4b0810" d="M296.1 351.1 L297.9 357 L299.2 357.1 L297.4 351.8Z"/><path fill="#4b0910" stroke="#4b0910" d="M297.9 357 L300.2 362.3 L301.5 361.8 L299.2 357.1Z"/><path fill="#4e0911" stroke="#4e0911" d="M300.2 362.3 L302.8 366.7 L304.1 365.7 L301.5 361.8Z"/><path fill="#550c14" stroke="#550c14" d="M302.8 366.7 L305.7 370.3 L307 368.9 L304.1 365.7Z"/><path fill="#68141b" stroke="#68141b" d="M305.7 370.3 L309 373.2 L310.3 371.5 L307 368.9Z"/><path fill="#872028" stroke="#872028" d="M309 373.2 L312.6 375.6 L313.9 373.6 L310.3 371.5Z"/><path fill="#aa3037" stroke="#aa3037" d="M312.6 375.6 L316.5 377.7 L317.8 375.4 L313.9 373.6Z"/><path fill="#c43d44" stroke="#c43d44" d="M316.5 377.7 L320.7 379.4 L322 377 L317.8 375.4Z"/><path fill="#d5484e" stroke="#d5484e" d="M320.7 379.4 L325.1 381 L326.4 378.4 L322 377Z"/><path fill="#de5157" stroke="#de5157" d="M325.1 381 L329.7 382.4 L331 379.6 L326.4 378.4Z"/><path fill="#e45a60" stroke="#e45a60" d="M329.7 382.4 L334.5 383.6 L335.7 380.7 L331 379.6Z"/><path fill="#e9656a" stroke="#e9656a" d="M334.5 383.6 L339.4 384.7 L340.7 381.6 L335.7 380.7Z"/><path fill="#ec7276" stroke="#ec7276" d="M339.4 384.7 L344.4 385.7 L345.7 382.4 L340.7 381.6Z"/><path fill="#ef8185" stroke="#ef8185" d="M344.4 385.7 L349.5 386.5 L350.8 383.2 L345.7 382.4Z"/><path fill="#f29497" stroke="#f29497" d="M349.5 386.5 L354.7 387.2 L356 383.7 L350.8 383.2Z"/><path fill="#f5a9ab" stroke="#f5a9ab" d="M354.7 387.2 L359.8 387.8 L361.1 384.2 L356 383.7Z"/><path fill="#f8bfc1" stroke="#f8bfc1" d="M359.8 387.8 L364.9 388.3 L366.2 384.6 L361.1 384.2Z"/><path fill="#fbd4d5" stroke="#fbd4d5" d="M364.9 388.3 L369.9 388.7 L371.2 384.8 L366.2 384.6Z"/><path fill="#fce6e7" stroke="#fce6e7" d="M369.9 388.7 L374.9 389 L376.2 384.9 L371.2 384.8Z"/><path fill="#fef3f3" stroke="#fef3f3" d="M374.9 389 L379.7 389.1 L380.9 385 L376.2 384.9Z"/><path fill="#fef9f9" stroke="#fef9f9" d="M379.7 389.1 L384.3 389.2 L385.5 384.8 L380.9 385Z"/><path fill="#fef8f8" stroke="#fef8f8" d="M384.3 389.2 L388.6 389.1 L389.9 384.6 L385.5 384.8Z"/><path fill="#fdeff0" stroke="#fdeff0" d="M388.6 389.1 L392.8 388.9 L394.1 384.2 L389.9 384.6Z"/><path fill="#fadfe0" stroke="#fadfe0" d="M392.8 388.9 L396.7 388.5 L398 383.6 L394.1 384.2Z"/><path fill="#f4c8c9" stroke="#f4c8c9" d="M396.7 388.5 L400.3 388 L401.6 382.8 L398 383.6Z"/><path fill="#e8a9ac" stroke="#e8a9ac" d="M400.3 388 L403.6 387.3 L404.9 381.9 L401.6 382.8Z"/><path fill="#d48689" stroke="#d48689" d="M403.6 387.3 L406.5 386.5 L407.8 380.7 L404.9 381.9Z"/><path fill="#b86368" stroke="#b86368" d="M406.5 386.5 L409.1 385.6 L410.4 379.5 L407.8 380.7Z"/><path fill="#9b474d" stroke="#9b474d" d="M409.1 385.6 L411.4 384.7 L412.7 378.2 L410.4 379.5Z"/><path fill="#843239" stroke="#843239" d="M411.4 384.7 L413.3 383.7 L414.6 376.8 L412.7 378.2Z"/><path fill="#73252c" stroke="#73252c" d="M413.3 383.7 L414.8 382.8 L416.1 375.6 L414.6 376.8Z"/><path fill="#4a0810" stroke="#4a0810" d="M293.3 343.6 L294.8 350.4 L296.1 351.1 L294.6 345Z"/><path fill="#4a0810" stroke="#4a0810" d="M294.8 350.4 L296.6 356.9 L297.9 357 L296.1 351.1Z"/><path fill="#4b0810" stroke="#4b0810" d="M296.6 356.9 L298.9 362.7 L300.2 362.3 L297.9 357Z"/><path fill="#4d0911" stroke="#4d0911" d="M298.9 362.7 L301.5 367.6 L302.8 366.7 L300.2 362.3Z"/><path fill="#520b13" stroke="#520b13" d="M301.5 367.6 L304.5 371.7 L305.7 370.3 L302.8 366.7Z"/><path fill="#5f1018" stroke="#5f1018" d="M304.5 371.7 L307.7 374.9 L309 373.2 L305.7 370.3Z"/><path fill="#781a22" stroke="#781a22" d="M307.7 374.9 L311.3 377.6 L312.6 375.6 L309 373.2Z"/><path fill="#99282f" stroke="#99282f" d="M311.3 377.6 L315.2 379.9 L316.5 377.7 L312.6 375.6Z"/><path fill="#b6353c" stroke="#b6353c" d="M315.2 379.9 L319.4 381.9 L320.7 379.4 L316.5 377.7Z"/><path fill="#cb4047" stroke="#cb4047" d="M319.4 381.9 L323.8 383.6 L325.1 381 L320.7 379.4Z"/><path fill="#d8494f" stroke="#d8494f" d="M323.8 383.6 L328.4 385.2 L329.7 382.4 L325.1 381Z"/><path fill="#e05157" stroke="#e05157" d="M328.4 385.2 L333.2 386.6 L334.5 383.6 L329.7 382.4Z"/><path fill="#e55a5f" stroke="#e55a5f" d="M333.2 386.6 L338.1 387.8 L339.4 384.7 L334.5 383.6Z"/><path fill="#e96267" stroke="#e96267" d="M338.1 387.8 L343.1 388.9 L344.4 385.7 L339.4 384.7Z"/><path fill="#eb6b70" stroke="#eb6b70" d="M343.1 388.9 L348.2 389.8 L349.5 386.5 L344.4 385.7Z"/><path fill="#ee757a" stroke="#ee757a" d="M348.2 389.8 L353.4 390.7 L354.7 387.2 L349.5 386.5Z"/><path fill="#f08084" stroke="#f08084" d="M353.4 390.7 L358.5 391.4 L359.8 387.8 L354.7 387.2Z"/><path fill="#f18a8e" stroke="#f18a8e" d="M358.5 391.4 L363.6 392 L364.9 388.3 L359.8 387.8Z"/><path fill="#f39396" stroke="#f39396" d="M363.6 392 L368.7 392.5 L369.9 388.7 L364.9 388.3Z"/><path fill="#f49b9e" stroke="#f49b9e" d="M368.7 392.5 L373.6 392.9 L374.9 389 L369.9 388.7Z"/><path fill="#f49fa2" stroke="#f49fa2" d="M373.6 392.9 L378.4 393.2 L379.7 389.1 L374.9 389Z"/><path fill="#f4a1a3" stroke="#f4a1a3" d="M378.4 393.2 L383 393.4 L384.3 389.2 L379.7 389.1Z"/><path fill="#f49fa1" stroke="#f49fa1" d="M383 393.4 L387.4 393.4 L388.6 389.1 L384.3 389.2Z"/><path fill="#f39a9d" stroke="#f39a9d" d="M387.4 393.4 L391.5 393.4 L392.8 388.9 L388.6 389.1Z"/><path fill="#f09295" stroke="#f09295" d="M391.5 393.4 L395.4 393.2 L396.7 388.5 L392.8 388.9Z"/><path fill="#ed888c" stroke="#ed888c" d="M395.4 393.2 L399 393 L400.3 388 L396.7 388.5Z"/><path fill="#e67c80" stroke="#e67c80" d="M399 393 L402.3 392.6 L403.6 387.3 L400.3 388Z"/><path fill="#db6f74" stroke="#db6f74" d="M402.3 392.6 L405.2 392.1 L406.5 386.5 L403.6 387.3Z"/><path fill="#cc6267" stroke="#cc6267" d="M405.2 392.1 L407.8 391.5 L409.1 385.6 L406.5 386.5Z"/><path fill="#b95459" stroke="#b95459" d="M407.8 391.5 L410.1 390.8 L411.4 384.7 L409.1 385.6Z"/><path fill="#a5454a" stroke="#a5454a" d="M410.1 390.8 L412 390.1 L413.3 383.7 L411.4 384.7Z"/><path fill="#92373d" stroke="#92373d" d="M412 390.1 L413.5 389.5 L414.8 382.8 L413.3 383.7Z"/><path fill="#4a0810" stroke="#4a0810" d="M292 342.1 L293.5 349.6 L294.8 350.4 L293.3 343.6Z"/><path fill="#4a0810" stroke="#4a0810" d="M293.5 349.6 L295.4 356.8 L296.6 356.9 L294.8 350.4Z"/><path fill="#4b0810" stroke="#4b0810" d="M295.4 356.8 L297.6 363.2 L298.9 362.7 L296.6 356.9Z"/><path fill="#4c0911" stroke="#4c0911" d="M297.6 363.2 L300.2 368.6 L301.5 367.6 L298.9 362.7Z"/><path fill="#500a12" stroke="#500a12" d="M300.2 368.6 L303.2 373 L304.5 371.7 L301.5 367.6Z"/><path fill="#590e15" stroke="#590e15" d="M303.2 373 L306.4 376.6 L307.7 374.9 L304.5 371.7Z"/><path fill="#6d151d" stroke="#6d151d" d="M306.4 376.6 L310 379.5 L311.3 377.6 L307.7 374.9Z"/><path fill="#892028" stroke="#892028" d="M310 379.5 L313.9 382.1 L315.2 379.9 L311.3 377.6Z"/><path fill="#a62d34" stroke="#a62d34" d="M313.9 382.1 L318.1 384.2 L319.4 381.9 L315.2 379.9Z"/><path fill="#be373e" stroke="#be373e" d="M318.1 384.2 L322.5 386.2 L323.8 383.6 L319.4 381.9Z"/><path fill="#ce4046" stroke="#ce4046" d="M322.5 386.2 L327.1 387.9 L328.4 385.2 L323.8 383.6Z"/><path fill="#d9474d" stroke="#d9474d" d="M327.1 387.9 L331.9 389.4 L333.2 386.6 L328.4 385.2Z"/><path fill="#e04d53" stroke="#e04d53" d="M331.9 389.4 L336.8 390.8 L338.1 387.8 L333.2 386.6Z"/><path fill="#e45258" stroke="#e45258" d="M336.8 390.8 L341.8 392 L343.1 388.9 L338.1 387.8Z"/><path fill="#e7575d" stroke="#e7575d" d="M341.8 392 L346.9 393.1 L348.2 389.8 L343.1 388.9Z"/><path fill="#e95c61" stroke="#e95c61" d="M346.9 393.1 L352.1 394.1 L353.4 390.7 L348.2 389.8Z"/><path fill="#ea6065" stroke="#ea6065" d="M352.1 394.1 L357.2 394.9 L358.5 391.4 L353.4 390.7Z"/><path fill="#eb6469" stroke="#eb6469" d="M357.2 394.9 L362.3 395.6 L363.6 392 L358.5 391.4Z"/><path fill="#ec676c" stroke="#ec676c" d="M362.3 395.6 L367.4 396.2 L368.7 392.5 L363.6 392Z"/><path fill="#ec696e" stroke="#ec696e" d="M367.4 396.2 L372.3 396.7 L373.6 392.9 L368.7 392.5Z"/><path fill="#ed6a6f" stroke="#ed6a6f" d="M372.3 396.7 L377.1 397.1 L378.4 393.2 L373.6 392.9Z"/><path fill="#ec6a6f" stroke="#ec6a6f" d="M377.1 397.1 L381.7 397.4 L383 393.4 L378.4 393.2Z"/><path fill="#ec696d" stroke="#ec696d" d="M381.7 397.4 L386.1 397.6 L387.4 393.4 L383 393.4Z"/><path fill="#ec666b" stroke="#ec666b" d="M386.1 397.6 L390.2 397.8 L391.5 393.4 L387.4 393.4Z"/><path fill="#eb6368" stroke="#eb6368" d="M390.2 397.8 L394.1 397.8 L395.4 393.2 L391.5 393.4Z"/><path fill="#e96065" stroke="#e96065" d="M394.1 397.8 L397.7 397.7 L399 393 L395.4 393.2Z"/><path fill="#e65d63" stroke="#e65d63" d="M397.7 397.7 L401 397.5 L402.3 392.6 L399 393Z"/><path fill="#e35d63" stroke="#e35d63" d="M401 397.5 L403.9 397.3 L405.2 392.1 L402.3 392.6Z"/><path fill="#de6065" stroke="#de6065" d="M403.9 397.3 L406.5 396.9 L407.8 391.5 L405.2 392.1Z"/><path fill="#d66267" stroke="#d66267" d="M406.5 396.9 L408.8 396.6 L410.1 390.8 L407.8 391.5Z"/><path fill="#cc5e63" stroke="#cc5e63" d="M408.8 396.6 L410.7 396.1 L412 390.1 L410.1 390.8Z"/><path fill="#bf555b" stroke="#bf555b" d="M410.7 396.1 L412.2 395.8 L413.5 389.5 L412 390.1Z"/><path fill="#4a0810" stroke="#4a0810" d="M290.7 340.6 L292.2 348.7 L293.5 349.6 L292 342.1Z"/><path fill="#4a0810" stroke="#4a0810" d="M292.2 348.7 L294.1 356.6 L295.4 356.8 L293.5 349.6Z"/><path fill="#4a0810" stroke="#4a0810" d="M294.1 356.6 L296.3 363.6 L297.6 363.2 L295.4 356.8Z"/><path fill="#4b0910" stroke="#4b0910" d="M296.3 363.6 L298.9 369.5 L300.2 368.6 L297.6 363.2Z"/><path fill="#4e0911" stroke="#4e0911" d="M298.9 369.5 L301.9 374.3 L303.2 373 L300.2 368.6Z"/><path fill="#550c14" stroke="#550c14" d="M301.9 374.3 L305.2 378.2 L306.4 376.6 L303.2 373Z"/><path fill="#641219" stroke="#641219" d="M305.2 378.2 L308.8 381.5 L310 379.5 L306.4 376.6Z"/><path fill="#7c1b22" stroke="#7c1b22" d="M308.8 381.5 L312.6 384.2 L313.9 382.1 L310 379.5Z"/><path fill="#98252c" stroke="#98252c" d="M312.6 384.2 L316.8 386.6 L318.1 384.2 L313.9 382.1Z"/><path fill="#b12f36" stroke="#b12f36" d="M316.8 386.6 L321.2 388.7 L322.5 386.2 L318.1 384.2Z"/><path fill="#c4373e" stroke="#c4373e" d="M321.2 388.7 L325.8 390.6 L327.1 387.9 L322.5 386.2Z"/><path fill="#d13e44" stroke="#d13e44" d="M325.8 390.6 L330.6 392.3 L331.9 389.4 L327.1 387.9Z"/><path fill="#da4349" stroke="#da4349" d="M330.6 392.3 L335.5 393.8 L336.8 390.8 L331.9 389.4Z"/><path fill="#e0464d" stroke="#e0464d" d="M335.5 393.8 L340.5 395.1 L341.8 392 L336.8 390.8Z"/><path fill="#e44a50" stroke="#e44a50" d="M340.5 395.1 L345.6 396.3 L346.9 393.1 L341.8 392Z"/><path fill="#e64c52" stroke="#e64c52" d="M345.6 396.3 L350.8 397.4 L352.1 394.1 L346.9 393.1Z"/><path fill="#e74e54" stroke="#e74e54" d="M350.8 397.4 L355.9 398.3 L357.2 394.9 L352.1 394.1Z"/><path fill="#e85056" stroke="#e85056" d="M355.9 398.3 L361 399.1 L362.3 395.6 L357.2 394.9Z"/><path fill="#e85157" stroke="#e85157" d="M361 399.1 L366.1 399.8 L367.4 396.2 L362.3 395.6Z"/><path fill="#e95257" stroke="#e95257" d="M366.1 399.8 L371 400.4 L372.3 396.7 L367.4 396.2Z"/><path fill="#e95258" stroke="#e95258" d="M371 400.4 L375.8 400.9 L377.1 397.1 L372.3 396.7Z"/><path fill="#e95258" stroke="#e95258" d="M375.8 400.9 L380.4 401.3 L381.7 397.4 L377.1 397.1Z"/><path fill="#e85157" stroke="#e85157" d="M380.4 401.3 L384.8 401.7 L386.1 397.6 L381.7 397.4Z"/><path fill="#e85056" stroke="#e85056" d="M384.8 401.7 L388.9 401.9 L390.2 397.8 L386.1 397.6Z"/><path fill="#e84f55" stroke="#e84f55" d="M388.9 401.9 L392.8 402.1 L394.1 397.8 L390.2 397.8Z"/><path fill="#e84e54" stroke="#e84e54" d="M392.8 402.1 L396.4 402.2 L397.7 397.7 L394.1 397.8Z"/><path fill="#e74f55" stroke="#e74f55" d="M396.4 402.2 L399.7 402.2 L401 397.5 L397.7 397.7Z"/><path fill="#e7555a" stroke="#e7555a" d="M399.7 402.2 L402.6 402.2 L403.9 397.3 L401 397.5Z"/><path fill="#e86065" stroke="#e86065" d="M402.6 402.2 L405.3 402.1 L406.5 396.9 L403.9 397.3Z"/><path fill="#e86e72" stroke="#e86e72" d="M405.3 402.1 L407.5 401.9 L408.8 396.6 L406.5 396.9Z"/><path fill="#e77679" stroke="#e77679" d="M407.5 401.9 L409.4 401.7 L410.7 396.1 L408.8 396.6Z"/><path fill="#e37579" stroke="#e37579" d="M409.4 401.7 L410.9 401.5 L412.2 395.8 L410.7 396.1Z"/><path fill="#4a0810" stroke="#4a0810" d="M289.4 339 L290.9 347.8 L292.2 348.7 L290.7 340.6Z"/><path fill="#4a0810" stroke="#4a0810" d="M290.9 347.8 L292.8 356.4 L294.1 356.6 L292.2 348.7Z"/><path fill="#4a0810" stroke="#4a0810" d="M292.8 356.4 L295 364 L296.3 363.6 L294.1 356.6Z"/><path fill="#4b0810" stroke="#4b0810" d="M295 364 L297.6 370.4 L298.9 369.5 L296.3 363.6Z"/><path fill="#4d0911" stroke="#4d0911" d="M297.6 370.4 L300.6 375.6 L301.9 374.3 L298.9 369.5Z"/><path fill="#520b13" stroke="#520b13" d="M300.6 375.6 L303.9 379.8 L305.2 378.2 L301.9 374.3Z"/><path fill="#5e0f17" stroke="#5e0f17" d="M303.9 379.8 L307.5 383.3 L308.8 381.5 L305.2 378.2Z"/><path fill="#72171e" stroke="#72171e" d="M307.5 383.3 L311.3 386.3 L312.6 384.2 L308.8 381.5Z"/><path fill="#8b2027" stroke="#8b2027" d="M311.3 386.3 L315.5 388.9 L316.8 386.6 L312.6 384.2Z"/><path fill="#a42930" stroke="#a42930" d="M315.5 388.9 L319.9 391.2 L321.2 388.7 L316.8 386.6Z"/><path fill="#b93138" stroke="#b93138" d="M319.9 391.2 L324.5 393.2 L325.8 390.6 L321.2 388.7Z"/><path fill="#c9383e" stroke="#c9383e" d="M324.5 393.2 L329.3 395 L330.6 392.3 L325.8 390.6Z"/><path fill="#d53c43" stroke="#d53c43" d="M329.3 395 L334.2 396.7 L335.5 393.8 L330.6 392.3Z"/><path fill="#dc4046" stroke="#dc4046" d="M334.2 396.7 L339.2 398.1 L340.5 395.1 L335.5 393.8Z"/><path fill="#e14248" stroke="#e14248" d="M339.2 398.1 L344.3 399.4 L345.6 396.3 L340.5 395.1Z"/><path fill="#e3444a" stroke="#e3444a" d="M344.3 399.4 L349.5 400.6 L350.8 397.4 L345.6 396.3Z"/><path fill="#e5454b" stroke="#e5454b" d="M349.5 400.6 L354.6 401.6 L355.9 398.3 L350.8 397.4Z"/><path fill="#e6464c" stroke="#e6464c" d="M354.6 401.6 L359.7 402.5 L361 399.1 L355.9 398.3Z"/><path fill="#e7464c" stroke="#e7464c" d="M359.7 402.5 L364.8 403.3 L366.1 399.8 L361 399.1Z"/><path fill="#e7474d" stroke="#e7474d" d="M364.8 403.3 L369.7 404 L371 400.4 L366.1 399.8Z"/><path fill="#e7474d" stroke="#e7474d" d="M369.7 404 L374.5 404.6 L375.8 400.9 L371 400.4Z"/><path fill="#e7474d" stroke="#e7474d" d="M374.5 404.6 L379.1 405.1 L380.4 401.3 L375.8 400.9Z"/><path fill="#e7474d" stroke="#e7474d" d="M379.1 405.1 L383.5 405.5 L384.8 401.7 L380.4 401.3Z"/><path fill="#e7464c" stroke="#e7464c" d="M383.5 405.5 L387.6 405.9 L388.9 401.9 L384.8 401.7Z"/><path fill="#e7464c" stroke="#e7464c" d="M387.6 405.9 L391.5 406.2 L392.8 402.1 L388.9 401.9Z"/><path fill="#e7464c" stroke="#e7464c" d="M391.5 406.2 L395.1 406.4 L396.4 402.2 L392.8 402.1Z"/><path fill="#e7484e" stroke="#e7484e" d="M395.1 406.4 L398.4 406.6 L399.7 402.2 L396.4 402.2Z"/><path fill="#e85055" stroke="#e85055" d="M398.4 406.6 L401.4 406.7 L402.6 402.2 L399.7 402.2Z"/><path fill="#eb5f64" stroke="#eb5f64" d="M401.4 406.7 L404 406.8 L405.3 402.1 L402.6 402.2Z"/><path fill="#ee7175" stroke="#ee7175" d="M404 406.8 L406.2 406.8 L407.5 401.9 L405.3 402.1Z"/><path fill="#f07e82" stroke="#f07e82" d="M406.2 406.8 L408.1 406.8 L409.4 401.7 L407.5 401.9Z"/><path fill="#f08387" stroke="#f08387" d="M408.1 406.8 L409.6 406.8 L410.9 401.5 L409.4 401.7Z"/><path fill="#4a0810" stroke="#4a0810" d="M288.1 337.4 L289.6 346.9 L290.9 347.8 L289.4 339Z"/><path fill="#4a0810" stroke="#4a0810" d="M289.6 346.9 L291.5 356.1 L292.8 356.4 L290.9 347.8Z"/><path fill="#4a0810" stroke="#4a0810" d="M291.5 356.1 L293.7 364.3 L295 364 L292.8 356.4Z"/><path fill="#4b0810" stroke="#4b0810" d="M293.7 364.3 L296.3 371.2 L297.6 370.4 L295 364Z"/><path fill="#4c0911" stroke="#4c0911" d="M296.3 371.2 L299.3 376.9 L300.6 375.6 L297.6 370.4Z"/><path fill="#500a12" stroke="#500a12" d="M299.3 376.9 L302.6 381.4 L303.9 379.8 L300.6 375.6Z"/><path fill="#5a0e15" stroke="#5a0e15" d="M302.6 381.4 L306.2 385.2 L307.5 383.3 L303.9 379.8Z"/><path fill="#6a141b" stroke="#6a141b" d="M306.2 385.2 L310.1 388.4 L311.3 386.3 L307.5 383.3Z"/><path fill="#801c23" stroke="#801c23" d="M310.1 388.4 L314.2 391.2 L315.5 388.9 L311.3 386.3Z"/><path fill="#98252c" stroke="#98252c" d="M314.2 391.2 L318.6 393.6 L319.9 391.2 L315.5 388.9Z"/><path fill="#af2d34" stroke="#af2d34" d="M318.6 393.6 L323.2 395.8 L324.5 393.2 L319.9 391.2Z"/><path fill="#c1343a" stroke="#c1343a" d="M323.2 395.8 L328 397.8 L329.3 395 L324.5 393.2Z"/><path fill="#cf393f" stroke="#cf393f" d="M328 397.8 L332.9 399.5 L334.2 396.7 L329.3 395Z"/><path fill="#d83d43" stroke="#d83d43" d="M332.9 399.5 L337.9 401.1 L339.2 398.1 L334.2 396.7Z"/><path fill="#de3f45" stroke="#de3f45" d="M337.9 401.1 L343.1 402.5 L344.3 399.4 L339.2 398.1Z"/><path fill="#e24047" stroke="#e24047" d="M343.1 402.5 L348.2 403.7 L349.5 400.6 L344.3 399.4Z"/><path fill="#e44148" stroke="#e44148" d="M348.2 403.7 L353.3 404.8 L354.6 401.6 L349.5 400.6Z"/><path fill="#e54248" stroke="#e54248" d="M353.3 404.8 L358.4 405.8 L359.7 402.5 L354.6 401.6Z"/><path fill="#e64249" stroke="#e64249" d="M358.4 405.8 L363.5 406.6 L364.8 403.3 L359.7 402.5Z"/><path fill="#e74349" stroke="#e74349" d="M363.5 406.6 L368.4 407.4 L369.7 404 L364.8 403.3Z"/><path fill="#e74349" stroke="#e74349" d="M368.4 407.4 L373.2 408.1 L374.5 404.6 L369.7 404Z"/><path fill="#e74349" stroke="#e74349" d="M373.2 408.1 L377.8 408.6 L379.1 405.1 L374.5 404.6Z"/><path fill="#e74349" stroke="#e74349" d="M377.8 408.6 L382.2 409.2 L383.5 405.5 L379.1 405.1Z"/><path fill="#e74349" stroke="#e74349" d="M382.2 409.2 L386.3 409.6 L387.6 405.9 L383.5 405.5Z"/><path fill="#e74349" stroke="#e74349" d="M386.3 409.6 L390.2 410 L391.5 406.2 L387.6 405.9Z"/><path fill="#e74349" stroke="#e74349" d="M390.2 410 L393.8 410.4 L395.1 406.4 L391.5 406.2Z"/><path fill="#e7454b" stroke="#e7454b" d="M393.8 410.4 L397.1 410.6 L398.4 406.6 L395.1 406.4Z"/><path fill="#e94d52" stroke="#e94d52" d="M397.1 410.6 L400.1 410.9 L401.4 406.7 L398.4 406.6Z"/><path fill="#eb5b60" stroke="#eb5b60" d="M400.1 410.9 L402.7 411.1 L404 406.8 L401.4 406.7Z"/><path fill="#ef6d71" stroke="#ef6d71" d="M402.7 411.1 L404.9 411.2 L406.2 406.8 L404 406.8Z"/><path fill="#f17a7e" stroke="#f17a7e" d="M404.9 411.2 L406.8 411.3 L408.1 406.8 L406.2 406.8Z"/><path fill="#f28083" stroke="#f28083" d="M406.8 411.3 L408.3 411.4 L409.6 406.8 L408.1 406.8Z"/><path fill="#4a0810" stroke="#4a0810" d="M286.8 335.8 L288.3 346 L289.6 346.9 L288.1 337.4Z"/><path fill="#4a0810" stroke="#4a0810" d="M288.3 346 L290.2 355.9 L291.5 356.1 L289.6 346.9Z"/><path fill="#4a0810" stroke="#4a0810" d="M290.2 355.9 L292.4 364.7 L293.7 364.3 L291.5 356.1Z"/><path fill="#4b0810" stroke="#4b0810" d="M292.4 364.7 L295 372 L296.3 371.2 L293.7 364.3Z"/><path fill="#4c0911" stroke="#4c0911" d="M295 372 L298 378.1 L299.3 376.9 L296.3 371.2Z"/><path fill="#4f0a12" stroke="#4f0a12" d="M298 378.1 L301.3 383 L302.6 381.4 L299.3 376.9Z"/><path fill="#560c14" stroke="#560c14" d="M301.3 383 L304.9 387 L306.2 385.2 L302.6 381.4Z"/><path fill="#641119" stroke="#641119" d="M304.9 387 L308.8 390.4 L310.1 388.4 L306.2 385.2Z"/><path fill="#771920" stroke="#771920" d="M308.8 390.4 L312.9 393.4 L314.2 391.2 L310.1 388.4Z"/><path fill="#8e2128" stroke="#8e2128" d="M312.9 393.4 L317.3 396 L318.6 393.6 L314.2 391.2Z"/><path fill="#a52930" stroke="#a52930" d="M317.3 396 L321.9 398.3 L323.2 395.8 L318.6 393.6Z"/><path fill="#b93137" stroke="#b93137" d="M321.9 398.3 L326.7 400.4 L328 397.8 L323.2 395.8Z"/><path fill="#c9363d" stroke="#c9363d" d="M326.7 400.4 L331.6 402.3 L332.9 399.5 L328 397.8Z"/><path fill="#d43b41" stroke="#d43b41" d="M331.6 402.3 L336.6 404 L337.9 401.1 L332.9 399.5Z"/><path fill="#dc3e44" stroke="#dc3e44" d="M336.6 404 L341.8 405.4 L343.1 402.5 L337.9 401.1Z"/><path fill="#e13f45" stroke="#e13f45" d="M341.8 405.4 L346.9 406.8 L348.2 403.7 L343.1 402.5Z"/><path fill="#e34047" stroke="#e34047" d="M346.9 406.8 L352 407.9 L353.3 404.8 L348.2 403.7Z"/><path fill="#e54147" stroke="#e54147" d="M352 407.9 L357.2 408.9 L358.4 405.8 L353.3 404.8Z"/><path fill="#e64248" stroke="#e64248" d="M357.2 408.9 L362.2 409.9 L363.5 406.6 L358.4 405.8Z"/><path fill="#e74248" stroke="#e74248" d="M362.2 409.9 L367.1 410.7 L368.4 407.4 L363.5 406.6Z"/><path fill="#e74248" stroke="#e74248" d="M367.1 410.7 L371.9 411.4 L373.2 408.1 L368.4 407.4Z"/><path fill="#e74248" stroke="#e74248" d="M371.9 411.4 L376.5 412 L377.8 408.6 L373.2 408.1Z"/><path fill="#e74248" stroke="#e74248" d="M376.5 412 L380.9 412.6 L382.2 409.2 L377.8 408.6Z"/><path fill="#e84248" stroke="#e84248" d="M380.9 412.6 L385 413.1 L386.3 409.6 L382.2 409.2Z"/><path fill="#e84248" stroke="#e84248" d="M385 413.1 L388.9 413.5 L390.2 410 L386.3 409.6Z"/><path fill="#e84248" stroke="#e84248" d="M388.9 413.5 L392.5 413.9 L393.8 410.4 L390.2 410Z"/><path fill="#e8444a" stroke="#e8444a" d="M392.5 413.9 L395.8 414.2 L397.1 410.6 L393.8 410.4Z"/><path fill="#e94a50" stroke="#e94a50" d="M395.8 414.2 L398.8 414.5 L400.1 410.9 L397.1 410.6Z"/><path fill="#eb565b" stroke="#eb565b" d="M398.8 414.5 L401.4 414.8 L402.7 411.1 L400.1 410.9Z"/><path fill="#ee6468" stroke="#ee6468" d="M401.4 414.8 L403.6 415 L404.9 411.2 L402.7 411.1Z"/><path fill="#ef6f73" stroke="#ef6f73" d="M403.6 415 L405.5 415.2 L406.8 411.3 L404.9 411.2Z"/><path fill="#f07377" stroke="#f07377" d="M405.5 415.2 L407 415.3 L408.3 411.4 L406.8 411.3Z"/></g><polygon points="407,415.3 407.3,414.4 407.7,413.4 408,412.3 408.4,411.1 408.7,410 409.1,408.7 409.4,407.4 409.8,406.1 410.1,404.8 410.4,403.3 410.8,401.9 411.1,400.4 411.5,398.9 411.8,397.3 412.2,395.8 412.5,394.1 412.9,392.5 413.2,390.8 413.6,389.1 413.9,387.3 414.2,385.5 414.6,383.7 414.9,381.8 415.3,380 415.6,378 416,376.1 416.3,374.1 416.7,372.1 417,370.1 417.4,368 417.7,366 418,363.8 418.4,361.7 418.7,359.5 419.1,357.3 419.4,355.1 419.8,352.9 420.1,350.6 420.5,348.3 420.8,346 421.1,343.6 421.5,341.2 421.8,338.8 422.2,336.4 422.5,333.9 422.9,331.5 423.2,329 423.6,326.4 423.9,323.9 424.2,321.3 424.6,318.7 424.9,316.1 425.3,313.4 425.6,310.7 426,308 426.3,305.3 426.7,302.6 427,299.8 427.4,297 427.7,294.2 427.7,364 407,416.8" fill="url(#curds)"/><polygon points="286.8,335.8 288.8,348.9 290.8,358.6 292.8,365.9 294.8,371.5 296.8,375.9 298.8,379.5 300.8,382.4 302.8,384.8 304.8,387 306.8,388.8 308.8,390.5 310.8,392 312.8,393.3 314.8,394.6 316.9,395.7 318.9,396.8 320.9,397.8 322.9,398.8 324.9,399.7 326.9,400.5 328.9,401.3 330.9,402 332.9,402.7 334.9,403.4 336.9,404 338.9,404.6 340.9,405.2 342.9,405.7 344.9,406.3 346.9,406.8 348.9,407.2 350.9,407.7 352.9,408.1 354.9,408.5 356.9,408.9 358.9,409.3 360.9,409.6 362.9,410 364.9,410.3 366.9,410.6 368.9,410.9 370.9,411.2 372.9,411.5 374.9,411.8 376.9,412.1 379,412.3 381,412.6 383,412.8 385,413 387,413.3 389,413.5 391,413.7 393,413.9 395,414.1 397,414.3 399,414.5 401,414.7 403,414.9 405,415.1 407,415.3 407,416.8 286.8,408.6" fill="url(#curdf)"/><polygon points="407,415.3 407.3,414.4 407.7,413.4 408,412.3 408.4,411.1 408.7,410 409.1,408.7 409.4,407.4 409.8,406.1 410.1,404.8 410.4,403.3 410.8,401.9 411.1,400.4 411.5,398.9 411.8,397.3 412.2,395.8 412.5,394.1 412.9,392.5 413.2,390.8 413.6,389.1 413.9,387.3 414.2,385.5 414.6,383.7 414.9,381.8 415.3,380 415.6,378 416,376.1 416.3,374.1 416.7,372.1 417,370.1 417.4,368 417.7,366 418,363.8 418.4,361.7 418.7,359.5 419.1,357.3 419.4,355.1 419.8,352.9 420.1,350.6 420.5,348.3 420.8,346 421.1,343.6 421.5,341.2 421.8,338.8 422.2,336.4 422.5,333.9 422.9,331.5 423.2,329 423.6,326.4 423.9,323.9 424.2,321.3 424.6,318.7 424.9,316.1 425.3,313.4 425.6,310.7 426,308 426.3,305.3 426.7,302.6 427,299.8 427.4,297 427.7,294.2 427.7,364 407,416.8" fill="url(#stripes)"/><polygon points="286.8,335.8 288.8,348.9 290.8,358.6 292.8,365.9 294.8,371.5 296.8,375.9 298.8,379.5 300.8,382.4 302.8,384.8 304.8,387 306.8,388.8 308.8,390.5 310.8,392 312.8,393.3 314.8,394.6 316.9,395.7 318.9,396.8 320.9,397.8 322.9,398.8 324.9,399.7 326.9,400.5 328.9,401.3 330.9,402 332.9,402.7 334.9,403.4 336.9,404 338.9,404.6 340.9,405.2 342.9,405.7 344.9,406.3 346.9,406.8 348.9,407.2 350.9,407.7 352.9,408.1 354.9,408.5 356.9,408.9 358.9,409.3 360.9,409.6 362.9,410 364.9,410.3 366.9,410.6 368.9,410.9 370.9,411.2 372.9,411.5 374.9,411.8 376.9,412.1 379,412.3 381,412.6 383,412.8 385,413 387,413.3 389,413.5 391,413.7 393,413.9 395,414.1 397,414.3 399,414.5 401,414.7 403,414.9 405,415.1 407,415.3 407,416.8 286.8,408.6" fill="url(#stripes)"/><path d="M286.8 335.8 L288.8 348.9 L290.8 358.6 L292.8 365.9 L294.8 371.5 L296.8 375.9 L298.8 379.5 L300.8 382.4 L302.8 384.8 L304.8 387 L306.8 388.8 L308.8 390.5 L310.8 392 L312.8 393.3 L314.8 394.6 L316.9 395.7 L318.9 396.8 L320.9 397.8 L322.9 398.8 L324.9 399.7 L326.9 400.5 L328.9 401.3 L330.9 402 L332.9 402.7 L334.9 403.4 L336.9 404 L338.9 404.6 L340.9 405.2 L342.9 405.7 L344.9 406.3 L346.9 406.8 L348.9 407.2 L350.9 407.7 L352.9 408.1 L354.9 408.5 L356.9 408.9 L358.9 409.3 L360.9 409.6 L362.9 410 L364.9 410.3 L366.9 410.6 L368.9 410.9 L370.9 411.2 L372.9 411.5 L374.9 411.8 L376.9 412.1 L379 412.3 L381 412.6 L383 412.8 L385 413 L387 413.3 L389 413.5 L391 413.7 L393 413.9 L395 414.1 L397 414.3 L399 414.5 L401 414.7 L403 414.9 L405 415.1 L407 415.3" fill="none" stroke="#a8202c" stroke-width="0.9"/><path d="M407 415.3 L407.3 414.4 L407.7 413.4 L408 412.3 L408.4 411.1 L408.7 410 L409.1 408.7 L409.4 407.4 L409.8 406.1 L410.1 404.8 L410.4 403.3 L410.8 401.9 L411.1 400.4 L411.5 398.9 L411.8 397.3 L412.2 395.8 L412.5 394.1 L412.9 392.5 L413.2 390.8 L413.6 389.1 L413.9 387.3 L414.2 385.5 L414.6 383.7 L414.9 381.8 L415.3 380 L415.6 378 L416 376.1 L416.3 374.1 L416.7 372.1 L417 370.1 L417.4 368 L417.7 366 L418 363.8 L418.4 361.7 L418.7 359.5 L419.1 357.3 L419.4 355.1 L419.8 352.9 L420.1 350.6 L420.5 348.3 L420.8 346 L421.1 343.6 L421.5 341.2 L421.8 338.8 L422.2 336.4 L422.5 333.9 L422.9 331.5 L423.2 329 L423.6 326.4 L423.9 323.9 L424.2 321.3 L424.6 318.7 L424.9 316.1 L425.3 313.4 L425.6 310.7 L426 308 L426.3 305.3 L426.7 302.6 L427 299.8 L427.4 297 L427.7 294.2" fill="none" stroke="#a8202c" stroke-width="0.9"/><line x1="286.8" y1="408.6" x2="407" y2="416.8" stroke="#8a8a8a" stroke-width="0.8"/><line x1="407" y1="416.8" x2="427.7" y2="364" stroke="#8a8a8a" stroke-width="0.8"/><rect x="307.7" y="280.3" width="99.2" height="26.1" rx="3.5" fill="#fff" stroke="#8c8c8c" stroke-width="0.9"/><text x="324.2" y="298.6" font-size="15.8" fill="#111">Loss</text><line x1="360.7" y1="294.3" x2="378.4" y2="294.3" stroke="#111" stroke-width="1.1"/><polygon points="381.2,294.3 376.2,296.5 377.2,294.3 376.2,292.1" fill="#111"/><text x="384.5" y="298.9" font-size="16" font-weight="bold" fill="#8c1a1a">A</text><text x="265" y="337.3" font-size="12" fill="#111">|<tspan font-style="italic">ψ</tspan>|<tspan font-size="7" dy="-5.5">2</tspan></text><line x1="284" y1="357" x2="286.6" y2="357" stroke="#8a8a8a" stroke-width="0.8"/><text x="282" y="362" font-size="12" text-anchor="end" fill="#111">0.2</text><text x="282" y="412" font-size="12" text-anchor="end" fill="#111">0</text><text x="343.5" y="430.5" font-size="11.6" text-anchor="middle" fill="#111">40</text><text x="403.5" y="432.5" font-size="11.6" text-anchor="middle" fill="#111">80</text><text x="343.5" y="442.5" font-size="11.6" text-anchor="middle" fill="#111">Site</text><text x="410.5" y="425.5" font-size="11.6" fill="#111">0.25</text><text x="421" y="399.5" font-size="11.6" fill="#111">0.5</text><text x="432" y="373.2" font-size="11.6" fill="#111">0.75</text><text x="441" y="408" font-size="14" fill="#111">η</text><line x1="316.9" y1="410.7" x2="316.9" y2="412.7" stroke="#8a8a8a" stroke-width="0.7"/><line x1="346.9" y1="412.7" x2="346.9" y2="414.7" stroke="#8a8a8a" stroke-width="0.7"/><line x1="376.9" y1="414.8" x2="376.9" y2="416.8" stroke="#8a8a8a" stroke-width="0.7"/><line x1="407" y1="416.8" x2="407" y2="418.8" stroke="#8a8a8a" stroke-width="0.7"/><line x1="407" y1="416.8" x2="409.2" y2="417.3" stroke="#8a8a8a" stroke-width="0.7"/><line x1="417.4" y1="390.4" x2="419.6" y2="390.9" stroke="#8a8a8a" stroke-width="0.7"/><line x1="427.7" y1="364" x2="429.9" y2="364.5" stroke="#8a8a8a" stroke-width="0.7"/><text x="264" y="460" font-size="18" font-weight="bold" fill="#000">f</text><line x1="286.3" y1="469.8" x2="286.3" y2="545.3" stroke="#8a8a8a" stroke-width="0.9"/><line x1="286.3" y1="469.8" x2="406.8" y2="466.5" stroke="#8a8a8a" stroke-width="0.8"/><line x1="406.8" y1="466.5" x2="406.8" y2="535.8" stroke="#8a8a8a" stroke-width="0.8"/><line x1="406.8" y1="466.5" x2="427.6" y2="511" stroke="#8a8a8a" stroke-width="0.8"/><line x1="427.6" y1="511" x2="427.6" y2="588.4" stroke="#8a8a8a" stroke-width="0.8"/><line x1="287.1" y1="545.3" x2="408.5" y2="535.8" stroke="#c8c8c8" stroke-width="0.7"/><g stroke-width="0.5" filter="url(#blr)"><path fill="#d83840" stroke="#d83840" d="M408.2 535 L409.7 534.5 L408.5 534.8 L407 534.8Z"/><path fill="#da3941" stroke="#da3941" d="M406.3 535.4 L408.2 535 L407 534.8 L405.1 534.7Z"/><path fill="#db3941" stroke="#db3941" d="M404 535.8 L406.3 535.4 L405.1 534.7 L402.8 534.6Z"/><path fill="#db3941" stroke="#db3941" d="M401.4 536.1 L404 535.8 L402.8 534.6 L400.2 534.5Z"/><path fill="#db3941" stroke="#db3941" d="M398.4 536.3 L401.4 536.1 L400.2 534.5 L397.2 534.4Z"/><path fill="#db3941" stroke="#db3941" d="M395.1 536.4 L398.4 536.3 L397.2 534.4 L393.9 534.3Z"/><path fill="#db3941" stroke="#db3941" d="M391.4 536.5 L395.1 536.4 L393.9 534.3 L390.2 534.1Z"/><path fill="#db3941" stroke="#db3941" d="M387.5 536.5 L391.4 536.5 L390.2 534.1 L386.3 533.9Z"/><path fill="#db3941" stroke="#db3941" d="M383.3 536.5 L387.5 536.5 L386.3 533.9 L382.1 533.7Z"/><path fill="#db3941" stroke="#db3941" d="M378.9 536.5 L383.3 536.5 L382.1 533.7 L377.7 533.5Z"/><path fill="#da3941" stroke="#da3941" d="M374.2 536.3 L378.9 536.5 L377.7 533.5 L373 533.2Z"/><path fill="#da3941" stroke="#da3941" d="M369.4 536.2 L374.2 536.3 L373 533.2 L368.2 532.8Z"/><path fill="#da3941" stroke="#da3941" d="M364.4 535.9 L369.4 536.2 L368.2 532.8 L363.2 532.5Z"/><path fill="#d93840" stroke="#d93840" d="M359.3 535.6 L364.4 535.9 L363.2 532.5 L358.2 532Z"/><path fill="#d83840" stroke="#d83840" d="M354.2 535.2 L359.3 535.6 L358.2 532 L353 531.4Z"/><path fill="#d6373f" stroke="#d6373f" d="M349 534.7 L354.2 535.2 L353 531.4 L347.8 530.8Z"/><path fill="#d4373f" stroke="#d4373f" d="M343.8 534.1 L349 534.7 L347.8 530.8 L342.6 530Z"/><path fill="#d0353d" stroke="#d0353d" d="M338.6 533.4 L343.8 534.1 L342.6 530 L337.4 529.1Z"/><path fill="#ca333b" stroke="#ca333b" d="M333.6 532.4 L338.6 533.4 L337.4 529.1 L332.4 528Z"/><path fill="#c03038" stroke="#c03038" d="M328.6 531.3 L333.6 532.4 L332.4 528 L327.4 526.6Z"/><path fill="#b22b33" stroke="#b22b33" d="M323.7 529.9 L328.6 531.3 L327.4 526.6 L322.6 525Z"/><path fill="#9d252c" stroke="#9d252c" d="M319.1 528.2 L323.7 529.9 L322.6 525 L317.9 523.1Z"/><path fill="#861d24" stroke="#861d24" d="M314.7 526.2 L319.1 528.2 L317.9 523.1 L313.5 520.7Z"/><path fill="#70151d" stroke="#70151d" d="M310.5 523.7 L314.7 526.2 L313.5 520.7 L309.3 517.9Z"/><path fill="#600f17" stroke="#600f17" d="M306.5 520.8 L310.5 523.7 L309.3 517.9 L305.4 514.6Z"/><path fill="#560c14" stroke="#560c14" d="M302.9 517.3 L306.5 520.8 L305.4 514.6 L301.7 510.7Z"/><path fill="#500a12" stroke="#500a12" d="M299.6 513.3 L302.9 517.3 L301.7 510.7 L298.4 506.2Z"/><path fill="#4d0911" stroke="#4d0911" d="M296.6 508.9 L299.6 513.3 L298.4 506.2 L295.4 501.2Z"/><path fill="#4c0911" stroke="#4c0911" d="M294 504 L296.6 508.9 L295.4 501.2 L292.8 495.7Z"/><path fill="#4b0810" stroke="#4b0810" d="M291.7 499 L294 504 L292.8 495.7 L290.5 490.1Z"/><path fill="#4b0810" stroke="#4b0810" d="M289.8 494 L291.7 499 L290.5 490.1 L288.6 484.6Z"/><path fill="#4a0810" stroke="#4a0810" d="M288.3 489.5 L289.8 494 L288.6 484.6 L287.1 479.5Z"/><path fill="#9f252d" stroke="#9f252d" d="M409.4 534.7 L410.9 533.6 L409.7 534.5 L408.2 535Z"/><path fill="#be3037" stroke="#be3037" d="M407.5 535.7 L409.4 534.7 L408.2 535 L406.3 535.4Z"/><path fill="#d2363e" stroke="#d2363e" d="M405.2 536.6 L407.5 535.7 L406.3 535.4 L404 535.8Z"/><path fill="#da3941" stroke="#da3941" d="M402.6 537.4 L405.2 536.6 L404 535.8 L401.4 536.1Z"/><path fill="#dc3a41" stroke="#dc3a41" d="M399.6 538 L402.6 537.4 L401.4 536.1 L398.4 536.3Z"/><path fill="#dc3a42" stroke="#dc3a42" d="M396.3 538.4 L399.6 538 L398.4 536.3 L395.1 536.4Z"/><path fill="#dc3a42" stroke="#dc3a42" d="M392.6 538.8 L396.3 538.4 L395.1 536.4 L391.4 536.5Z"/><path fill="#dc3a42" stroke="#dc3a42" d="M388.7 539 L392.6 538.8 L391.4 536.5 L387.5 536.5Z"/><path fill="#dc3a42" stroke="#dc3a42" d="M384.5 539.2 L388.7 539 L387.5 536.5 L383.3 536.5Z"/><path fill="#dc3a42" stroke="#dc3a42" d="M380.1 539.3 L384.5 539.2 L383.3 536.5 L378.9 536.5Z"/><path fill="#dc3a42" stroke="#dc3a42" d="M375.4 539.4 L380.1 539.3 L378.9 536.5 L374.2 536.3Z"/><path fill="#dc3a41" stroke="#dc3a41" d="M370.6 539.4 L375.4 539.4 L374.2 536.3 L369.4 536.2Z"/><path fill="#dc3941" stroke="#dc3941" d="M365.6 539.3 L370.6 539.4 L369.4 536.2 L364.4 535.9Z"/><path fill="#db3941" stroke="#db3941" d="M360.5 539.2 L365.6 539.3 L364.4 535.9 L359.3 535.6Z"/><path fill="#da3941" stroke="#da3941" d="M355.4 539 L360.5 539.2 L359.3 535.6 L354.2 535.2Z"/><path fill="#d93941" stroke="#d93941" d="M350.2 538.6 L355.4 539 L354.2 535.2 L349 534.7Z"/><path fill="#d83840" stroke="#d83840" d="M345 538.2 L350.2 538.6 L349 534.7 L343.8 534.1Z"/><path fill="#d5373f" stroke="#d5373f" d="M339.8 537.6 L345 538.2 L343.8 534.1 L338.6 533.4Z"/><path fill="#d0363e" stroke="#d0363e" d="M334.7 536.8 L339.8 537.6 L338.6 533.4 L333.6 532.4Z"/><path fill="#c9333b" stroke="#c9333b" d="M329.8 535.9 L334.7 536.8 L333.6 532.4 L328.6 531.3Z"/><path fill="#bd2f37" stroke="#bd2f37" d="M324.9 534.7 L329.8 535.9 L328.6 531.3 L323.7 529.9Z"/><path fill="#ab2931" stroke="#ab2931" d="M320.3 533.3 L324.9 534.7 L323.7 529.9 L319.1 528.2Z"/><path fill="#932129" stroke="#932129" d="M315.9 531.5 L320.3 533.3 L319.1 528.2 L314.7 526.2Z"/><path fill="#7b1921" stroke="#7b1921" d="M311.7 529.4 L315.9 531.5 L314.7 526.2 L310.5 523.7Z"/><path fill="#67121a" stroke="#67121a" d="M307.7 526.8 L311.7 529.4 L310.5 523.7 L306.5 520.8Z"/><path fill="#5a0e15" stroke="#5a0e15" d="M304.1 523.8 L307.7 526.8 L306.5 520.8 L302.9 517.3Z"/><path fill="#520b13" stroke="#520b13" d="M300.8 520.3 L304.1 523.8 L302.9 517.3 L299.6 513.3Z"/><path fill="#4e0a12" stroke="#4e0a12" d="M297.8 516.3 L300.8 520.3 L299.6 513.3 L296.6 508.9Z"/><path fill="#4c0911" stroke="#4c0911" d="M295.2 512 L297.8 516.3 L296.6 508.9 L294 504Z"/><path fill="#4b0810" stroke="#4b0810" d="M292.9 507.6 L295.2 512 L294 504 L291.7 499Z"/><path fill="#4b0810" stroke="#4b0810" d="M291 503.2 L292.9 507.6 L291.7 499 L289.8 494Z"/><path fill="#4b0810" stroke="#4b0810" d="M289.5 499.2 L291 503.2 L289.8 494 L288.3 489.5Z"/><path fill="#611018" stroke="#611018" d="M410.5 534.2 L412.1 532.5 L410.9 533.6 L409.4 534.7Z"/><path fill="#791820" stroke="#791820" d="M408.6 535.9 L410.5 534.2 L409.4 534.7 L407.5 535.7Z"/><path fill="#a0262e" stroke="#a0262e" d="M406.4 537.3 L408.6 535.9 L407.5 535.7 L405.2 536.6Z"/><path fill="#c5323a" stroke="#c5323a" d="M403.7 538.6 L406.4 537.3 L405.2 536.6 L402.6 537.4Z"/><path fill="#d73840" stroke="#d73840" d="M400.8 539.5 L403.7 538.6 L402.6 537.4 L399.6 538Z"/><path fill="#dc3a42" stroke="#dc3a42" d="M397.4 540.3 L400.8 539.5 L399.6 538 L396.3 538.4Z"/><path fill="#dd3a42" stroke="#dd3a42" d="M393.8 540.9 L397.4 540.3 L396.3 538.4 L392.6 538.8Z"/><path fill="#dd3a42" stroke="#dd3a42" d="M389.9 541.4 L393.8 540.9 L392.6 538.8 L388.7 539Z"/><path fill="#dd3a42" stroke="#dd3a42" d="M385.7 541.8 L389.9 541.4 L388.7 539 L384.5 539.2Z"/><path fill="#dd3a42" stroke="#dd3a42" d="M381.2 542.1 L385.7 541.8 L384.5 539.2 L380.1 539.3Z"/><path fill="#dd3a42" stroke="#dd3a42" d="M376.6 542.4 L381.2 542.1 L380.1 539.3 L375.4 539.4Z"/><path fill="#dd3a42" stroke="#dd3a42" d="M371.8 542.6 L376.6 542.4 L375.4 539.4 L370.6 539.4Z"/><path fill="#dd3a42" stroke="#dd3a42" d="M366.8 542.7 L371.8 542.6 L370.6 539.4 L365.6 539.3Z"/><path fill="#dd3a42" stroke="#dd3a42" d="M361.7 542.7 L366.8 542.7 L365.6 539.3 L360.5 539.2Z"/><path fill="#dc3a42" stroke="#dc3a42" d="M356.6 542.6 L361.7 542.7 L360.5 539.2 L355.4 539Z"/><path fill="#dc3a42" stroke="#dc3a42" d="M351.4 542.4 L356.6 542.6 L355.4 539 L350.2 538.6Z"/><path fill="#db3941" stroke="#db3941" d="M346.2 542.2 L351.4 542.4 L350.2 538.6 L345 538.2Z"/><path fill="#d93941" stroke="#d93941" d="M341 541.7 L346.2 542.2 L345 538.2 L339.8 537.6Z"/><path fill="#d53840" stroke="#d53840" d="M335.9 541.2 L341 541.7 L339.8 537.6 L334.7 536.8Z"/><path fill="#d0363e" stroke="#d0363e" d="M331 540.4 L335.9 541.2 L334.7 536.8 L329.8 535.9Z"/><path fill="#c7333b" stroke="#c7333b" d="M326.1 539.5 L331 540.4 L329.8 535.9 L324.9 534.7Z"/><path fill="#b82e36" stroke="#b82e36" d="M321.5 538.3 L326.1 539.5 L324.9 534.7 L320.3 533.3Z"/><path fill="#a2272e" stroke="#a2272e" d="M317 536.8 L321.5 538.3 L320.3 533.3 L315.9 531.5Z"/><path fill="#891e26" stroke="#891e26" d="M312.8 534.9 L317 536.8 L315.9 531.5 L311.7 529.4Z"/><path fill="#71161d" stroke="#71161d" d="M308.9 532.7 L312.8 534.9 L311.7 529.4 L307.7 526.8Z"/><path fill="#601018" stroke="#601018" d="M305.3 530.1 L308.9 532.7 L307.7 526.8 L304.1 523.8Z"/><path fill="#560c14" stroke="#560c14" d="M302 527 L305.3 530.1 L304.1 523.8 L300.8 520.3Z"/><path fill="#500a12" stroke="#500a12" d="M299 523.6 L302 527 L300.8 520.3 L297.8 516.3Z"/><path fill="#4d0911" stroke="#4d0911" d="M296.3 519.8 L299 523.6 L297.8 516.3 L295.2 512Z"/><path fill="#4c0911" stroke="#4c0911" d="M294.1 515.9 L296.3 519.8 L295.2 512 L292.9 507.6Z"/><path fill="#4b0810" stroke="#4b0810" d="M292.2 512.1 L294.1 515.9 L292.9 507.6 L291 503.2Z"/><path fill="#4b0810" stroke="#4b0810" d="M290.7 508.6 L292.2 512.1 L291 503.2 L289.5 499.2Z"/><path fill="#510a12" stroke="#510a12" d="M411.7 533.7 L413.2 531.3 L412.1 532.5 L410.5 534.2Z"/><path fill="#5a0e16" stroke="#5a0e16" d="M409.8 535.9 L411.7 533.7 L410.5 534.2 L408.6 535.9Z"/><path fill="#70151d" stroke="#70151d" d="M407.6 538 L409.8 535.9 L408.6 535.9 L406.4 537.3Z"/><path fill="#99242b" stroke="#99242b" d="M404.9 539.7 L407.6 538 L406.4 537.3 L403.7 538.6Z"/><path fill="#c23139" stroke="#c23139" d="M402 541 L404.9 539.7 L403.7 538.6 L400.8 539.5Z"/><path fill="#d53840" stroke="#d53840" d="M398.6 542.1 L402 541 L400.8 539.5 L397.4 540.3Z"/><path fill="#dc3a42" stroke="#dc3a42" d="M395 543 L398.6 542.1 L397.4 540.3 L393.8 540.9Z"/><path fill="#de3b42" stroke="#de3b42" d="M391.1 543.8 L395 543 L393.8 540.9 L389.9 541.4Z"/><path fill="#de3b43" stroke="#de3b43" d="M386.9 544.4 L391.1 543.8 L389.9 541.4 L385.7 541.8Z"/><path fill="#de3b43" stroke="#de3b43" d="M382.4 544.9 L386.9 544.4 L385.7 541.8 L381.2 542.1Z"/><path fill="#de3b43" stroke="#de3b43" d="M377.8 545.3 L382.4 544.9 L381.2 542.1 L376.6 542.4Z"/><path fill="#de3b43" stroke="#de3b43" d="M373 545.7 L377.8 545.3 L376.6 542.4 L371.8 542.6Z"/><path fill="#de3b43" stroke="#de3b43" d="M368 546 L373 545.7 L371.8 542.6 L366.8 542.7Z"/><path fill="#de3b43" stroke="#de3b43" d="M362.9 546.1 L368 546 L366.8 542.7 L361.7 542.7Z"/><path fill="#de3b43" stroke="#de3b43" d="M357.7 546.2 L362.9 546.1 L361.7 542.7 L356.6 542.6Z"/><path fill="#de3b43" stroke="#de3b43" d="M352.6 546.2 L357.7 546.2 L356.6 542.6 L351.4 542.4Z"/><path fill="#dd3b43" stroke="#dd3b43" d="M347.4 546.1 L352.6 546.2 L351.4 542.4 L346.2 542.2Z"/><path fill="#dc3b42" stroke="#dc3b42" d="M342.2 545.8 L347.4 546.1 L346.2 542.2 L341 541.7Z"/><path fill="#d93a42" stroke="#d93a42" d="M337.1 545.4 L342.2 545.8 L341 541.7 L335.9 541.2Z"/><path fill="#d63940" stroke="#d63940" d="M332.1 544.9 L337.1 545.4 L335.9 541.2 L331 540.4Z"/><path fill="#cf363e" stroke="#cf363e" d="M327.3 544.1 L332.1 544.9 L331 540.4 L326.1 539.5Z"/><path fill="#c4323a" stroke="#c4323a" d="M322.7 543.1 L327.3 544.1 L326.1 539.5 L321.5 538.3Z"/><path fill="#b12c34" stroke="#b12c34" d="M318.2 541.9 L322.7 543.1 L321.5 538.3 L317 536.8Z"/><path fill="#99242b" stroke="#99242b" d="M314 540.4 L318.2 541.9 L317 536.8 L312.8 534.9Z"/><path fill="#7f1b22" stroke="#7f1b22" d="M310.1 538.5 L314 540.4 L312.8 534.9 L308.9 532.7Z"/><path fill="#69131b" stroke="#69131b" d="M306.5 536.2 L310.1 538.5 L308.9 532.7 L305.3 530.1Z"/><path fill="#5b0e16" stroke="#5b0e16" d="M303.1 533.6 L306.5 536.2 L305.3 530.1 L302 527Z"/><path fill="#530b13" stroke="#530b13" d="M300.2 530.6 L303.1 533.6 L302 527 L299 523.6Z"/><path fill="#4f0a12" stroke="#4f0a12" d="M297.5 527.4 L300.2 530.6 L299 523.6 L296.3 519.8Z"/><path fill="#4d0911" stroke="#4d0911" d="M295.3 524 L297.5 527.4 L296.3 519.8 L294.1 515.9Z"/><path fill="#4c0911" stroke="#4c0911" d="M293.4 520.7 L295.3 524 L294.1 515.9 L292.2 512.1Z"/><path fill="#4b0810" stroke="#4b0810" d="M291.9 517.6 L293.4 520.7 L292.2 512.1 L290.7 508.6Z"/><path fill="#4d0911" stroke="#4d0911" d="M412.9 533 L414.4 529.9 L413.2 531.3 L411.7 533.7Z"/><path fill="#510a12" stroke="#510a12" d="M411 535.9 L412.9 533 L411.7 533.7 L409.8 535.9Z"/><path fill="#5b0e16" stroke="#5b0e16" d="M408.8 538.5 L411 535.9 L409.8 535.9 L407.6 538Z"/><path fill="#75171f" stroke="#75171f" d="M406.1 540.7 L408.8 538.5 L407.6 538 L404.9 539.7Z"/><path fill="#a0262e" stroke="#a0262e" d="M403.1 542.5 L406.1 540.7 L404.9 539.7 L402 541Z"/><path fill="#c5333a" stroke="#c5333a" d="M399.8 543.9 L403.1 542.5 L402 541 L398.6 542.1Z"/><path fill="#d63940" stroke="#d63940" d="M396.2 545.1 L399.8 543.9 L398.6 542.1 L395 543Z"/><path fill="#dc3b42" stroke="#dc3b42" d="M392.3 546.1 L396.2 545.1 L395 543 L391.1 543.8Z"/><path fill="#de3c43" stroke="#de3c43" d="M388.1 546.9 L392.3 546.1 L391.1 543.8 L386.9 544.4Z"/><path fill="#df3c44" stroke="#df3c44" d="M383.6 547.6 L388.1 546.9 L386.9 544.4 L382.4 544.9Z"/><path fill="#df3c44" stroke="#df3c44" d="M379 548.3 L383.6 547.6 L382.4 544.9 L377.8 545.3Z"/><path fill="#df3d44" stroke="#df3d44" d="M374.1 548.8 L379 548.3 L377.8 545.3 L373 545.7Z"/><path fill="#df3d44" stroke="#df3d44" d="M369.2 549.2 L374.1 548.8 L373 545.7 L368 546Z"/><path fill="#df3d45" stroke="#df3d45" d="M364.1 549.6 L369.2 549.2 L368 546 L362.9 546.1Z"/><path fill="#df3d45" stroke="#df3d45" d="M358.9 549.8 L364.1 549.6 L362.9 546.1 L357.7 546.2Z"/><path fill="#df3e45" stroke="#df3e45" d="M353.7 549.9 L358.9 549.8 L357.7 546.2 L352.6 546.2Z"/><path fill="#df3e45" stroke="#df3e45" d="M348.5 549.9 L353.7 549.9 L352.6 546.2 L347.4 546.1Z"/><path fill="#de3e45" stroke="#de3e45" d="M343.4 549.8 L348.5 549.9 L347.4 546.1 L342.2 545.8Z"/><path fill="#dd3e45" stroke="#dd3e45" d="M338.3 549.6 L343.4 549.8 L342.2 545.8 L337.1 545.4Z"/><path fill="#db3d44" stroke="#db3d44" d="M333.3 549.2 L338.3 549.6 L337.1 545.4 L332.1 544.9Z"/><path fill="#d63b43" stroke="#d63b43" d="M328.5 548.7 L333.3 549.2 L332.1 544.9 L327.3 544.1Z"/><path fill="#ce3840" stroke="#ce3840" d="M323.9 547.9 L328.5 548.7 L327.3 544.1 L322.7 543.1Z"/><path fill="#c0333a" stroke="#c0333a" d="M319.4 546.9 L323.9 547.9 L322.7 543.1 L318.2 541.9Z"/><path fill="#ab2b33" stroke="#ab2b33" d="M315.2 545.6 L319.4 546.9 L318.2 541.9 L314 540.4Z"/><path fill="#902129" stroke="#902129" d="M311.3 544.1 L315.2 545.6 L314 540.4 L310.1 538.5Z"/><path fill="#771820" stroke="#771820" d="M307.7 542.2 L311.3 544.1 L310.1 538.5 L306.5 536.2Z"/><path fill="#641119" stroke="#641119" d="M304.3 540 L307.7 542.2 L306.5 536.2 L303.1 533.6Z"/><path fill="#580d15" stroke="#580d15" d="M301.4 537.4 L304.3 540 L303.1 533.6 L300.2 530.6Z"/><path fill="#520b13" stroke="#520b13" d="M298.7 534.7 L301.4 537.4 L300.2 530.6 L297.5 527.4Z"/><path fill="#4f0a12" stroke="#4f0a12" d="M296.5 531.8 L298.7 534.7 L297.5 527.4 L295.3 524Z"/><path fill="#4d0911" stroke="#4d0911" d="M294.6 529 L296.5 531.8 L295.3 524 L293.4 520.7Z"/><path fill="#4c0911" stroke="#4c0911" d="M293 526.4 L294.6 529 L293.4 520.7 L291.9 517.6Z"/><path fill="#4b0810" stroke="#4b0810" d="M414.1 532.2 L415.6 528.5 L414.4 529.9 L412.9 533Z"/><path fill="#4d0911" stroke="#4d0911" d="M412.2 535.8 L414.1 532.2 L412.9 533 L411 535.9Z"/><path fill="#520b13" stroke="#520b13" d="M409.9 539 L412.2 535.8 L411 535.9 L408.8 538.5Z"/><path fill="#611018" stroke="#611018" d="M407.3 541.7 L409.9 539 L408.8 538.5 L406.1 540.7Z"/><path fill="#811b23" stroke="#811b23" d="M404.3 543.9 L407.3 541.7 L406.1 540.7 L403.1 542.5Z"/><path fill="#ac2b32" stroke="#ac2b32" d="M401 545.6 L404.3 543.9 L403.1 542.5 L399.8 543.9Z"/><path fill="#ca353d" stroke="#ca353d" d="M397.4 547.1 L401 545.6 L399.8 543.9 L396.2 545.1Z"/><path fill="#d83a42" stroke="#d83a42" d="M393.4 548.3 L397.4 547.1 L396.2 545.1 L392.3 546.1Z"/><path fill="#dd3d44" stroke="#dd3d44" d="M389.2 549.4 L393.4 548.3 L392.3 546.1 L388.1 546.9Z"/><path fill="#df3e45" stroke="#df3e45" d="M384.8 550.3 L389.2 549.4 L388.1 546.9 L383.6 547.6Z"/><path fill="#e03f46" stroke="#e03f46" d="M380.2 551.1 L384.8 550.3 L383.6 547.6 L379 548.3Z"/><path fill="#e04047" stroke="#e04047" d="M375.3 551.8 L380.2 551.1 L379 548.3 L374.1 548.8Z"/><path fill="#e14148" stroke="#e14148" d="M370.4 552.4 L375.3 551.8 L374.1 548.8 L369.2 549.2Z"/><path fill="#e14249" stroke="#e14249" d="M365.3 552.9 L370.4 552.4 L369.2 549.2 L364.1 549.6Z"/><path fill="#e1434a" stroke="#e1434a" d="M360.1 553.3 L365.3 552.9 L364.1 549.6 L358.9 549.8Z"/><path fill="#e1444b" stroke="#e1444b" d="M354.9 553.6 L360.1 553.3 L358.9 549.8 L353.7 549.9Z"/><path fill="#e1454c" stroke="#e1454c" d="M349.7 553.7 L354.9 553.6 L353.7 549.9 L348.5 549.9Z"/><path fill="#e1454c" stroke="#e1454c" d="M344.6 553.8 L349.7 553.7 L348.5 549.9 L343.4 549.8Z"/><path fill="#e1464d" stroke="#e1464d" d="M339.5 553.7 L344.6 553.8 L343.4 549.8 L338.3 549.6Z"/><path fill="#e0464c" stroke="#e0464c" d="M334.5 553.5 L339.5 553.7 L338.3 549.6 L333.3 549.2Z"/><path fill="#dd454b" stroke="#dd454b" d="M329.7 553.1 L334.5 553.5 L333.3 549.2 L328.5 548.7Z"/><path fill="#d84249" stroke="#d84249" d="M325 552.6 L329.7 553.1 L328.5 548.7 L323.9 547.9Z"/><path fill="#ce3e45" stroke="#ce3e45" d="M320.6 551.8 L325 552.6 L323.9 547.9 L319.4 546.9Z"/><path fill="#be373e" stroke="#be373e" d="M316.4 550.8 L320.6 551.8 L319.4 546.9 L315.2 545.6Z"/><path fill="#a52c34" stroke="#a52c34" d="M312.5 549.5 L316.4 550.8 L315.2 545.6 L311.3 544.1Z"/><path fill="#892128" stroke="#892128" d="M308.8 548 L312.5 549.5 L311.3 544.1 L307.7 542.2Z"/><path fill="#71171f" stroke="#71171f" d="M305.5 546.2 L308.8 548 L307.7 542.2 L304.3 540Z"/><path fill="#611119" stroke="#611119" d="M302.5 544 L305.5 546.2 L304.3 540 L301.4 537.4Z"/><path fill="#570d15" stroke="#570d15" d="M299.9 541.7 L302.5 544 L301.4 537.4 L298.7 534.7Z"/><path fill="#510b13" stroke="#510b13" d="M297.6 539.3 L299.9 541.7 L298.7 534.7 L296.5 531.8Z"/><path fill="#4f0a12" stroke="#4f0a12" d="M295.7 536.9 L297.6 539.3 L296.5 531.8 L294.6 529Z"/><path fill="#4d0911" stroke="#4d0911" d="M294.2 534.7 L295.7 536.9 L294.6 529 L293 526.4Z"/><path fill="#4b0810" stroke="#4b0810" d="M415.3 531.3 L416.8 526.9 L415.6 528.5 L414.1 532.2Z"/><path fill="#4c0911" stroke="#4c0911" d="M413.4 535.6 L415.3 531.3 L414.1 532.2 L412.2 535.8Z"/><path fill="#4e0a12" stroke="#4e0a12" d="M411.1 539.4 L413.4 535.6 L412.2 535.8 L409.9 539Z"/><path fill="#570d14" stroke="#570d14" d="M408.5 542.6 L411.1 539.4 L409.9 539 L407.3 541.7Z"/><path fill="#6c141c" stroke="#6c141c" d="M405.5 545.2 L408.5 542.6 L407.3 541.7 L404.3 543.9Z"/><path fill="#922229" stroke="#922229" d="M402.2 547.3 L405.5 545.2 L404.3 543.9 L401 545.6Z"/><path fill="#b83037" stroke="#b83037" d="M398.6 549.1 L402.2 547.3 L401 545.6 L397.4 547.1Z"/><path fill="#cf3940" stroke="#cf3940" d="M394.6 550.6 L398.6 549.1 L397.4 547.1 L393.4 548.3Z"/><path fill="#d93e45" stroke="#d93e45" d="M390.4 551.8 L394.6 550.6 L393.4 548.3 L389.2 549.4Z"/><path fill="#de4148" stroke="#de4148" d="M386 553 L390.4 551.8 L389.2 549.4 L384.8 550.3Z"/><path fill="#e1434a" stroke="#e1434a" d="M381.4 553.9 L386 553 L384.8 550.3 L380.2 551.1Z"/><path fill="#e2464c" stroke="#e2464c" d="M376.5 554.8 L381.4 553.9 L380.2 551.1 L375.3 551.8Z"/><path fill="#e3484f" stroke="#e3484f" d="M371.5 555.6 L376.5 554.8 L375.3 551.8 L370.4 552.4Z"/><path fill="#e44b51" stroke="#e44b51" d="M366.5 556.2 L371.5 555.6 L370.4 552.4 L365.3 552.9Z"/><path fill="#e44e54" stroke="#e44e54" d="M361.3 556.8 L366.5 556.2 L365.3 552.9 L360.1 553.3Z"/><path fill="#e55157" stroke="#e55157" d="M356.1 557.2 L361.3 556.8 L360.1 553.3 L354.9 553.6Z"/><path fill="#e6545a" stroke="#e6545a" d="M350.9 557.5 L356.1 557.2 L354.9 553.6 L349.7 553.7Z"/><path fill="#e6575d" stroke="#e6575d" d="M345.8 557.7 L350.9 557.5 L349.7 553.7 L344.6 553.8Z"/><path fill="#e6595f" stroke="#e6595f" d="M340.7 557.7 L345.8 557.7 L344.6 553.8 L339.5 553.7Z"/><path fill="#e65b60" stroke="#e65b60" d="M335.7 557.7 L340.7 557.7 L339.5 553.7 L334.5 553.5Z"/><path fill="#e55b60" stroke="#e55b60" d="M330.9 557.5 L335.7 557.7 L334.5 553.5 L329.7 553.1Z"/><path fill="#e2595f" stroke="#e2595f" d="M326.2 557.1 L330.9 557.5 L329.7 553.1 L325 552.6Z"/><path fill="#dc555b" stroke="#dc555b" d="M321.8 556.6 L326.2 557.1 L325 552.6 L320.6 551.8Z"/><path fill="#d14d53" stroke="#d14d53" d="M317.6 555.8 L321.8 556.6 L320.6 551.8 L316.4 550.8Z"/><path fill="#bf4248" stroke="#bf4248" d="M313.7 554.8 L317.6 555.8 L316.4 550.8 L312.5 549.5Z"/><path fill="#a4333a" stroke="#a4333a" d="M310 553.6 L313.7 554.8 L312.5 549.5 L308.8 548Z"/><path fill="#87242b" stroke="#87242b" d="M306.7 552.1 L310 553.6 L308.8 548 L305.5 546.2Z"/><path fill="#701920" stroke="#701920" d="M303.7 550.4 L306.7 552.1 L305.5 546.2 L302.5 544Z"/><path fill="#60121a" stroke="#60121a" d="M301.1 548.5 L303.7 550.4 L302.5 544 L299.9 541.7Z"/><path fill="#570e16" stroke="#570e16" d="M298.8 546.5 L301.1 548.5 L299.9 541.7 L297.6 539.3Z"/><path fill="#520c13" stroke="#520c13" d="M296.9 544.6 L298.8 546.5 L297.6 539.3 L295.7 536.9Z"/><path fill="#4f0a12" stroke="#4f0a12" d="M295.4 542.8 L296.9 544.6 L295.7 536.9 L294.2 534.7Z"/><path fill="#4a0810" stroke="#4a0810" d="M416.5 530.4 L418 525.3 L416.8 526.9 L415.3 531.3Z"/><path fill="#4b0810" stroke="#4b0810" d="M414.6 535.4 L416.5 530.4 L415.3 531.3 L413.4 535.6Z"/><path fill="#4d0911" stroke="#4d0911" d="M412.3 539.8 L414.6 535.4 L413.4 535.6 L411.1 539.4Z"/><path fill="#520b13" stroke="#520b13" d="M409.7 543.5 L412.3 539.8 L411.1 539.4 L408.5 542.6Z"/><path fill="#5f1018" stroke="#5f1018" d="M406.7 546.5 L409.7 543.5 L408.5 542.6 L405.5 545.2Z"/><path fill="#7c1b22" stroke="#7c1b22" d="M403.4 549 L406.7 546.5 L405.5 545.2 L402.2 547.3Z"/><path fill="#a32a31" stroke="#a32a31" d="M399.7 551 L403.4 549 L402.2 547.3 L398.6 549.1Z"/><path fill="#c2373e" stroke="#c2373e" d="M395.8 552.7 L399.7 551 L398.6 549.1 L394.6 550.6Z"/><path fill="#d33f46" stroke="#d33f46" d="M391.6 554.2 L395.8 552.7 L394.6 550.6 L390.4 551.8Z"/><path fill="#dc454c" stroke="#dc454c" d="M387.2 555.6 L391.6 554.2 L390.4 551.8 L386 553Z"/><path fill="#e14a50" stroke="#e14a50" d="M382.5 556.7 L387.2 555.6 L386 553 L381.4 553.9Z"/><path fill="#e44f55" stroke="#e44f55" d="M377.7 557.8 L382.5 556.7 L381.4 553.9 L376.5 554.8Z"/><path fill="#e6545a" stroke="#e6545a" d="M372.7 558.7 L377.7 557.8 L376.5 554.8 L371.5 555.6Z"/><path fill="#e75b61" stroke="#e75b61" d="M367.7 559.5 L372.7 558.7 L371.5 555.6 L366.5 556.2Z"/><path fill="#e96368" stroke="#e96368" d="M362.5 560.2 L367.7 559.5 L366.5 556.2 L361.3 556.8Z"/><path fill="#eb6c71" stroke="#eb6c71" d="M357.3 560.7 L362.5 560.2 L361.3 556.8 L356.1 557.2Z"/><path fill="#ec767b" stroke="#ec767b" d="M352.1 561.2 L357.3 560.7 L356.1 557.2 L350.9 557.5Z"/><path fill="#ee8185" stroke="#ee8185" d="M346.9 561.5 L352.1 561.2 L350.9 557.5 L345.8 557.7Z"/><path fill="#f08b8e" stroke="#f08b8e" d="M341.9 561.7 L346.9 561.5 L345.8 557.7 L340.7 557.7Z"/><path fill="#f19396" stroke="#f19396" d="M336.9 561.8 L341.9 561.7 L340.7 557.7 L335.7 557.7Z"/><path fill="#f1989b" stroke="#f1989b" d="M332.1 561.8 L336.9 561.8 L335.7 557.7 L330.9 557.5Z"/><path fill="#f0999c" stroke="#f0999c" d="M327.4 561.6 L332.1 561.8 L330.9 557.5 L326.2 557.1Z"/><path fill="#ee9598" stroke="#ee9598" d="M323 561.2 L327.4 561.6 L326.2 557.1 L321.8 556.6Z"/><path fill="#e88b8e" stroke="#e88b8e" d="M318.8 560.7 L323 561.2 L321.8 556.6 L317.6 555.8Z"/><path fill="#dd7a7e" stroke="#dd7a7e" d="M314.9 560 L318.8 560.7 L317.6 555.8 L313.7 554.8Z"/><path fill="#c96368" stroke="#c96368" d="M311.2 559 L314.9 560 L313.7 554.8 L310 553.6Z"/><path fill="#ac494f" stroke="#ac494f" d="M307.9 557.9 L311.2 559 L310 553.6 L306.7 552.1Z"/><path fill="#8d3138" stroke="#8d3138" d="M304.9 556.6 L307.9 557.9 L306.7 552.1 L303.7 550.4Z"/><path fill="#742128" stroke="#742128" d="M302.3 555.1 L304.9 556.6 L303.7 550.4 L301.1 548.5Z"/><path fill="#64171e" stroke="#64171e" d="M300 553.5 L302.3 555.1 L301.1 548.5 L298.8 546.5Z"/><path fill="#5b1119" stroke="#5b1119" d="M298.1 551.9 L300 553.5 L298.8 546.5 L296.9 544.6Z"/><path fill="#550e16" stroke="#550e16" d="M296.6 550.4 L298.1 551.9 L296.9 544.6 L295.4 542.8Z"/><path fill="#4a0810" stroke="#4a0810" d="M417.7 529.5 L419.2 523.7 L418 525.3 L416.5 530.4Z"/><path fill="#4b0810" stroke="#4b0810" d="M415.8 535.1 L417.7 529.5 L416.5 530.4 L414.6 535.4Z"/><path fill="#4c0911" stroke="#4c0911" d="M413.5 540.1 L415.8 535.1 L414.6 535.4 L412.3 539.8Z"/><path fill="#4f0a12" stroke="#4f0a12" d="M410.9 544.3 L413.5 540.1 L412.3 539.8 L409.7 543.5Z"/><path fill="#580d15" stroke="#580d15" d="M407.9 547.8 L410.9 544.3 L409.7 543.5 L406.7 546.5Z"/><path fill="#6d151d" stroke="#6d151d" d="M404.6 550.6 L407.9 547.8 L406.7 546.5 L403.4 549Z"/><path fill="#90232b" stroke="#90232b" d="M400.9 552.9 L404.6 550.6 L403.4 549 L399.7 551Z"/><path fill="#b23239" stroke="#b23239" d="M397 554.9 L400.9 552.9 L399.7 551 L395.8 552.7Z"/><path fill="#ca3e45" stroke="#ca3e45" d="M392.8 556.6 L397 554.9 L395.8 552.7 L391.6 554.2Z"/><path fill="#d8484e" stroke="#d8484e" d="M388.4 558.1 L392.8 556.6 L391.6 554.2 L387.2 555.6Z"/><path fill="#e05056" stroke="#e05056" d="M383.7 559.5 L388.4 558.1 L387.2 555.6 L382.5 556.7Z"/><path fill="#e5585e" stroke="#e5585e" d="M378.9 560.7 L383.7 559.5 L382.5 556.7 L377.7 557.8Z"/><path fill="#e86267" stroke="#e86267" d="M373.9 561.8 L378.9 560.7 L377.7 557.8 L372.7 558.7Z"/><path fill="#eb6e73" stroke="#eb6e73" d="M368.8 562.7 L373.9 561.8 L372.7 558.7 L367.7 559.5Z"/><path fill="#ee7e82" stroke="#ee7e82" d="M363.7 563.5 L368.8 562.7 L367.7 559.5 L362.5 560.2Z"/><path fill="#f19194" stroke="#f19194" d="M358.5 564.2 L363.7 563.5 L362.5 560.2 L357.3 560.7Z"/><path fill="#f4a7a9" stroke="#f4a7a9" d="M353.3 564.8 L358.5 564.2 L357.3 560.7 L352.1 561.2Z"/><path fill="#f7bec0" stroke="#f7bec0" d="M348.1 565.3 L353.3 564.8 L352.1 561.2 L346.9 561.5Z"/><path fill="#fad5d7" stroke="#fad5d7" d="M343.1 565.6 L348.1 565.3 L346.9 561.5 L341.9 561.7Z"/><path fill="#fdeaea" stroke="#fdeaea" d="M338.1 565.8 L343.1 565.6 L341.9 561.7 L336.9 561.8Z"/><path fill="#fef8f8" stroke="#fef8f8" d="M333.2 565.9 L338.1 565.8 L336.9 561.8 L332.1 561.8Z"/><path fill="#ffffff" stroke="#ffffff" d="M328.6 565.9 L333.2 565.9 L332.1 561.8 L327.4 561.6Z"/><path fill="#fffdfd" stroke="#fffdfd" d="M324.2 565.8 L328.6 565.9 L327.4 561.6 L323 561.2Z"/><path fill="#fdf2f2" stroke="#fdf2f2" d="M320 565.4 L324.2 565.8 L323 561.2 L318.8 560.7Z"/><path fill="#f9ddde" stroke="#f9ddde" d="M316 565 L320 565.4 L318.8 560.7 L314.9 560Z"/><path fill="#efbec0" stroke="#efbec0" d="M312.4 564.3 L316 565 L314.9 560 L311.2 559Z"/><path fill="#db979a" stroke="#db979a" d="M309.1 563.5 L312.4 564.3 L311.2 559 L307.9 557.9Z"/><path fill="#bd6d72" stroke="#bd6d72" d="M306.1 562.5 L309.1 563.5 L307.9 557.9 L304.9 556.6Z"/><path fill="#9c494f" stroke="#9c494f" d="M303.5 561.3 L306.1 562.5 L304.9 556.6 L302.3 555.1Z"/><path fill="#813137" stroke="#813137" d="M301.2 560.1 L303.5 561.3 L302.3 555.1 L300 553.5Z"/><path fill="#6e2129" stroke="#6e2129" d="M299.3 558.9 L301.2 560.1 L300 553.5 L298.1 551.9Z"/><path fill="#631920" stroke="#631920" d="M297.8 557.7 L299.3 558.9 L298.1 551.9 L296.6 550.4Z"/><path fill="#4a0810" stroke="#4a0810" d="M418.9 528.5 L420.4 521.9 L419.2 523.7 L417.7 529.5Z"/><path fill="#4a0810" stroke="#4a0810" d="M417 534.8 L418.9 528.5 L417.7 529.5 L415.8 535.1Z"/><path fill="#4b0810" stroke="#4b0810" d="M414.7 540.4 L417 534.8 L415.8 535.1 L413.5 540.1Z"/><path fill="#4d0911" stroke="#4d0911" d="M412.1 545.2 L414.7 540.4 L413.5 540.1 L410.9 544.3Z"/><path fill="#530c13" stroke="#530c13" d="M409.1 549 L412.1 545.2 L410.9 544.3 L407.9 547.8Z"/><path fill="#631219" stroke="#631219" d="M405.8 552.2 L409.1 549 L407.9 547.8 L404.6 550.6Z"/><path fill="#7f1d25" stroke="#7f1d25" d="M402.1 554.8 L405.8 552.2 L404.6 550.6 L400.9 552.9Z"/><path fill="#a12c33" stroke="#a12c33" d="M398.2 557 L402.1 554.8 L400.9 552.9 L397 554.9Z"/><path fill="#bd3a41" stroke="#bd3a41" d="M394 559 L398.2 557 L397 554.9 L392.8 556.6Z"/><path fill="#d0464c" stroke="#d0464c" d="M389.6 560.7 L394 559 L392.8 556.6 L388.4 558.1Z"/><path fill="#dc5056" stroke="#dc5056" d="M384.9 562.2 L389.6 560.7 L388.4 558.1 L383.7 559.5Z"/><path fill="#e35a60" stroke="#e35a60" d="M380.1 563.6 L384.9 562.2 L383.7 559.5 L378.9 560.7Z"/><path fill="#e8666b" stroke="#e8666b" d="M375.1 564.8 L380.1 563.6 L378.9 560.7 L373.9 561.8Z"/><path fill="#ec7478" stroke="#ec7478" d="M370 565.9 L375.1 564.8 L373.9 561.8 L368.8 562.7Z"/><path fill="#f08589" stroke="#f08589" d="M364.9 566.8 L370 565.9 L368.8 562.7 L363.7 563.5Z"/><path fill="#f39a9d" stroke="#f39a9d" d="M359.7 567.7 L364.9 566.8 L363.7 563.5 L358.5 564.2Z"/><path fill="#f6b2b4" stroke="#f6b2b4" d="M354.5 568.4 L359.7 567.7 L358.5 564.2 L353.3 564.8Z"/><path fill="#f9cbcc" stroke="#f9cbcc" d="M349.3 568.9 L354.5 568.4 L353.3 564.8 L348.1 565.3Z"/><path fill="#fce3e4" stroke="#fce3e4" d="M344.2 569.4 L349.3 568.9 L348.1 565.3 L343.1 565.6Z"/><path fill="#fef8f8" stroke="#fef8f8" d="M339.3 569.8 L344.2 569.4 L343.1 565.6 L338.1 565.8Z"/><path fill="#ffffff" stroke="#ffffff" d="M334.4 570 L339.3 569.8 L338.1 565.8 L333.2 565.9Z"/><path fill="#ffffff" stroke="#ffffff" d="M329.8 570.1 L334.4 570 L333.2 565.9 L328.6 565.9Z"/><path fill="#ffffff" stroke="#ffffff" d="M325.4 570.2 L329.8 570.1 L328.6 565.9 L324.2 565.8Z"/><path fill="#ffffff" stroke="#ffffff" d="M321.2 570 L325.4 570.2 L324.2 565.8 L320 565.4Z"/><path fill="#fef5f5" stroke="#fef5f5" d="M317.2 569.8 L321.2 570 L320 565.4 L316 565Z"/><path fill="#f9ddde" stroke="#f9ddde" d="M313.6 569.4 L317.2 569.8 L316 565 L312.4 564.3Z"/><path fill="#efbdbf" stroke="#efbdbf" d="M310.3 568.8 L313.6 569.4 L312.4 564.3 L309.1 563.5Z"/><path fill="#de989c" stroke="#de989c" d="M307.3 568.1 L310.3 568.8 L309.1 563.5 L306.1 562.5Z"/><path fill="#c47478" stroke="#c47478" d="M304.7 567.3 L307.3 568.1 L306.1 562.5 L303.5 561.3Z"/><path fill="#a75459" stroke="#a75459" d="M302.4 566.4 L304.7 567.3 L303.5 561.3 L301.2 560.1Z"/><path fill="#8e3c42" stroke="#8e3c42" d="M300.5 565.5 L302.4 566.4 L301.2 560.1 L299.3 558.9Z"/><path fill="#7c2c33" stroke="#7c2c33" d="M299 564.7 L300.5 565.5 L299.3 558.9 L297.8 557.7Z"/><path fill="#4a0810" stroke="#4a0810" d="M420 527.4 L421.6 520.1 L420.4 521.9 L418.9 528.5Z"/><path fill="#4a0810" stroke="#4a0810" d="M418.1 534.4 L420 527.4 L418.9 528.5 L417 534.8Z"/><path fill="#4b0810" stroke="#4b0810" d="M415.9 540.7 L418.1 534.4 L417 534.8 L414.7 540.4Z"/><path fill="#4c0911" stroke="#4c0911" d="M413.2 545.9 L415.9 540.7 L414.7 540.4 L412.1 545.2Z"/><path fill="#500a12" stroke="#500a12" d="M410.3 550.2 L413.2 545.9 L412.1 545.2 L409.1 549Z"/><path fill="#5b0f17" stroke="#5b0f17" d="M406.9 553.8 L410.3 550.2 L409.1 549 L405.8 552.2Z"/><path fill="#71181f" stroke="#71181f" d="M403.3 556.7 L406.9 553.8 L405.8 552.2 L402.1 554.8Z"/><path fill="#90252c" stroke="#90252c" d="M399.4 559.1 L403.3 556.7 L402.1 554.8 L398.2 557Z"/><path fill="#ae3239" stroke="#ae3239" d="M395.2 561.3 L399.4 559.1 L398.2 557 L394 559Z"/><path fill="#c53f45" stroke="#c53f45" d="M390.7 563.2 L395.2 561.3 L394 559 L389.6 560.7Z"/><path fill="#d4494f" stroke="#d4494f" d="M386.1 564.9 L390.7 563.2 L389.6 560.7 L384.9 562.2Z"/><path fill="#de5359" stroke="#de5359" d="M381.3 566.4 L386.1 564.9 L384.9 562.2 L380.1 563.6Z"/><path fill="#e55d62" stroke="#e55d62" d="M376.3 567.8 L381.3 566.4 L380.1 563.6 L375.1 564.8Z"/><path fill="#e9676c" stroke="#e9676c" d="M371.2 569 L376.3 567.8 L375.1 564.8 L370 565.9Z"/><path fill="#ec7377" stroke="#ec7377" d="M366.1 570.1 L371.2 569 L370 565.9 L364.9 566.8Z"/><path fill="#ef7f83" stroke="#ef7f83" d="M360.9 571 L366.1 570.1 L364.9 566.8 L359.7 567.7Z"/><path fill="#f28d90" stroke="#f28d90" d="M355.7 571.8 L360.9 571 L359.7 567.7 L354.5 568.4Z"/><path fill="#f49b9e" stroke="#f49b9e" d="M350.5 572.5 L355.7 571.8 L354.5 568.4 L349.3 568.9Z"/><path fill="#f5a8aa" stroke="#f5a8aa" d="M345.4 573.1 L350.5 572.5 L349.3 568.9 L344.2 569.4Z"/><path fill="#f7b2b4" stroke="#f7b2b4" d="M340.5 573.6 L345.4 573.1 L344.2 569.4 L339.3 569.8Z"/><path fill="#f8b9bb" stroke="#f8b9bb" d="M335.6 574 L340.5 573.6 L339.3 569.8 L334.4 570Z"/><path fill="#f8bcbe" stroke="#f8bcbe" d="M331 574.3 L335.6 574 L334.4 570 L329.8 570.1Z"/><path fill="#f7babc" stroke="#f7babc" d="M326.5 574.4 L331 574.3 L329.8 570.1 L325.4 570.2Z"/><path fill="#f6b5b7" stroke="#f6b5b7" d="M322.3 574.5 L326.5 574.4 L325.4 570.2 L321.2 570Z"/><path fill="#f4abae" stroke="#f4abae" d="M318.4 574.4 L322.3 574.5 L321.2 570 L317.2 569.8Z"/><path fill="#f19fa2" stroke="#f19fa2" d="M314.8 574.2 L318.4 574.4 L317.2 569.8 L313.6 569.4Z"/><path fill="#ec9194" stroke="#ec9194" d="M311.5 573.9 L314.8 574.2 L313.6 569.4 L310.3 568.8Z"/><path fill="#e38286" stroke="#e38286" d="M308.5 573.5 L311.5 573.9 L310.3 568.8 L307.3 568.1Z"/><path fill="#d67377" stroke="#d67377" d="M305.8 572.9 L308.5 573.5 L307.3 568.1 L304.7 567.3Z"/><path fill="#c56367" stroke="#c56367" d="M303.6 572.3 L305.8 572.9 L304.7 567.3 L302.4 566.4Z"/><path fill="#b15257" stroke="#b15257" d="M301.7 571.7 L303.6 572.3 L302.4 566.4 L300.5 565.5Z"/><path fill="#9e4248" stroke="#9e4248" d="M300.2 571.2 L301.7 571.7 L300.5 565.5 L299 564.7Z"/><path fill="#4a0810" stroke="#4a0810" d="M421.2 526.3 L422.8 518.3 L421.6 520.1 L420 527.4Z"/><path fill="#4a0810" stroke="#4a0810" d="M419.3 534 L421.2 526.3 L420 527.4 L418.1 534.4Z"/><path fill="#4b0810" stroke="#4b0810" d="M417.1 540.9 L419.3 534 L418.1 534.4 L415.9 540.7Z"/><path fill="#4c0911" stroke="#4c0911" d="M414.4 546.7 L417.1 540.9 L415.9 540.7 L413.2 545.9Z"/><path fill="#4e0a12" stroke="#4e0a12" d="M411.5 551.4 L414.4 546.7 L413.2 545.9 L410.3 550.2Z"/><path fill="#560d15" stroke="#560d15" d="M408.1 555.3 L411.5 551.4 L410.3 550.2 L406.9 553.8Z"/><path fill="#67131b" stroke="#67131b" d="M404.5 558.5 L408.1 555.3 L406.9 553.8 L403.3 556.7Z"/><path fill="#811e25" stroke="#811e25" d="M400.6 561.2 L404.5 558.5 L403.3 556.7 L399.4 559.1Z"/><path fill="#9e2a31" stroke="#9e2a31" d="M396.4 563.6 L400.6 561.2 L399.4 559.1 L395.2 561.3Z"/><path fill="#b7353c" stroke="#b7353c" d="M391.9 565.7 L396.4 563.6 L395.2 561.3 L390.7 563.2Z"/><path fill="#ca3f46" stroke="#ca3f46" d="M387.3 567.5 L391.9 565.7 L390.7 563.2 L386.1 564.9Z"/><path fill="#d7484e" stroke="#d7484e" d="M382.5 569.2 L387.3 567.5 L386.1 564.9 L381.3 566.4Z"/><path fill="#df4f55" stroke="#df4f55" d="M377.5 570.7 L382.5 569.2 L381.3 566.4 L376.3 567.8Z"/><path fill="#e4565b" stroke="#e4565b" d="M372.4 572.1 L377.5 570.7 L376.3 567.8 L371.2 569Z"/><path fill="#e85d62" stroke="#e85d62" d="M367.2 573.3 L372.4 572.1 L371.2 569 L366.1 570.1Z"/><path fill="#ea6368" stroke="#ea6368" d="M362.1 574.3 L367.2 573.3 L366.1 570.1 L360.9 571Z"/><path fill="#ec696d" stroke="#ec696d" d="M356.9 575.3 L362.1 574.3 L360.9 571 L355.7 571.8Z"/><path fill="#ed6e72" stroke="#ed6e72" d="M351.7 576.1 L356.9 575.3 L355.7 571.8 L350.5 572.5Z"/><path fill="#ee7277" stroke="#ee7277" d="M346.6 576.8 L351.7 576.1 L350.5 572.5 L345.4 573.1Z"/><path fill="#ee757a" stroke="#ee757a" d="M341.6 577.4 L346.6 576.8 L345.4 573.1 L340.5 573.6Z"/><path fill="#ef777b" stroke="#ef777b" d="M336.8 577.8 L341.6 577.4 L340.5 573.6 L335.6 574Z"/><path fill="#ef777b" stroke="#ef777b" d="M332.2 578.2 L336.8 577.8 L335.6 574 L331 574.3Z"/><path fill="#ee7579" stroke="#ee7579" d="M327.7 578.5 L332.2 578.2 L331 574.3 L326.5 574.4Z"/><path fill="#ee7277" stroke="#ee7277" d="M323.5 578.7 L327.7 578.5 L326.5 574.4 L322.3 574.5Z"/><path fill="#ed6f73" stroke="#ed6f73" d="M319.6 578.8 L323.5 578.7 L322.3 574.5 L318.4 574.4Z"/><path fill="#eb6a6f" stroke="#eb6a6f" d="M316 578.8 L319.6 578.8 L318.4 574.4 L314.8 574.2Z"/><path fill="#e9676c" stroke="#e9676c" d="M312.6 578.7 L316 578.8 L314.8 574.2 L311.5 573.9Z"/><path fill="#e6666b" stroke="#e6666b" d="M309.7 578.5 L312.6 578.7 L311.5 573.9 L308.5 573.5Z"/><path fill="#e2696d" stroke="#e2696d" d="M307 578.3 L309.7 578.5 L308.5 573.5 L305.8 572.9Z"/><path fill="#dd6b6f" stroke="#dd6b6f" d="M304.8 577.9 L307 578.3 L305.8 572.9 L303.6 572.3Z"/><path fill="#d4686c" stroke="#d4686c" d="M302.9 577.6 L304.8 577.9 L303.6 572.3 L301.7 571.7Z"/><path fill="#c85f64" stroke="#c85f64" d="M301.4 577.2 L302.9 577.6 L301.7 571.7 L300.2 571.2Z"/><path fill="#4a0810" stroke="#4a0810" d="M422.4 525.2 L423.9 516.5 L422.8 518.3 L421.2 526.3Z"/><path fill="#4a0810" stroke="#4a0810" d="M420.5 533.6 L422.4 525.2 L421.2 526.3 L419.3 534Z"/><path fill="#4a0810" stroke="#4a0810" d="M418.3 541.1 L420.5 533.6 L419.3 534 L417.1 540.9Z"/><path fill="#4b0810" stroke="#4b0810" d="M415.6 547.4 L418.3 541.1 L417.1 540.9 L414.4 546.7Z"/><path fill="#4d0911" stroke="#4d0911" d="M412.6 552.6 L415.6 547.4 L414.4 546.7 L411.5 551.4Z"/><path fill="#530b13" stroke="#530b13" d="M409.3 556.8 L412.6 552.6 L411.5 551.4 L408.1 555.3Z"/><path fill="#601018" stroke="#601018" d="M405.7 560.3 L409.3 556.8 L408.1 555.3 L404.5 558.5Z"/><path fill="#751820" stroke="#751820" d="M401.8 563.2 L405.7 560.3 L404.5 558.5 L400.6 561.2Z"/><path fill="#8f232a" stroke="#8f232a" d="M397.6 565.8 L401.8 563.2 L400.6 561.2 L396.4 563.6Z"/><path fill="#a92d34" stroke="#a92d34" d="M393.1 568.1 L397.6 565.8 L396.4 563.6 L391.9 565.7Z"/><path fill="#be363d" stroke="#be363d" d="M388.5 570.1 L393.1 568.1 L391.9 565.7 L387.3 567.5Z"/><path fill="#cd3e44" stroke="#cd3e44" d="M383.6 572 L388.5 570.1 L387.3 567.5 L382.5 569.2Z"/><path fill="#d8444a" stroke="#d8444a" d="M378.7 573.6 L383.6 572 L382.5 569.2 L377.5 570.7Z"/><path fill="#df494f" stroke="#df494f" d="M373.6 575.1 L378.7 573.6 L377.5 570.7 L372.4 572.1Z"/><path fill="#e34d52" stroke="#e34d52" d="M368.4 576.4 L373.6 575.1 L372.4 572.1 L367.2 573.3Z"/><path fill="#e65056" stroke="#e65056" d="M363.2 577.6 L368.4 576.4 L367.2 573.3 L362.1 574.3Z"/><path fill="#e85358" stroke="#e85358" d="M358 578.6 L363.2 577.6 L362.1 574.3 L356.9 575.3Z"/><path fill="#e9555b" stroke="#e9555b" d="M352.9 579.5 L358 578.6 L356.9 575.3 L351.7 576.1Z"/><path fill="#e9575c" stroke="#e9575c" d="M347.8 580.3 L352.9 579.5 L351.7 576.1 L346.6 576.8Z"/><path fill="#ea585d" stroke="#ea585d" d="M342.8 581 L347.8 580.3 L346.6 576.8 L341.6 577.4Z"/><path fill="#ea585d" stroke="#ea585d" d="M338 581.6 L342.8 581 L341.6 577.4 L336.8 577.8Z"/><path fill="#ea585d" stroke="#ea585d" d="M333.4 582.1 L338 581.6 L336.8 577.8 L332.2 578.2Z"/><path fill="#ea575c" stroke="#ea575c" d="M328.9 582.5 L333.4 582.1 L332.2 578.2 L327.7 578.5Z"/><path fill="#e9565b" stroke="#e9565b" d="M324.7 582.8 L328.9 582.5 L327.7 578.5 L323.5 578.7Z"/><path fill="#e9545a" stroke="#e9545a" d="M320.8 583.1 L324.7 582.8 L323.5 578.7 L319.6 578.8Z"/><path fill="#e95359" stroke="#e95359" d="M317.2 583.2 L320.8 583.1 L319.6 578.8 L316 578.8Z"/><path fill="#e85359" stroke="#e85359" d="M313.8 583.3 L317.2 583.2 L316 578.8 L312.6 578.7Z"/><path fill="#e8595e" stroke="#e8595e" d="M310.9 583.3 L313.8 583.3 L312.6 578.7 L309.7 578.5Z"/><path fill="#e96569" stroke="#e96569" d="M308.2 583.3 L310.9 583.3 L309.7 578.5 L307 578.3Z"/><path fill="#ea7276" stroke="#ea7276" d="M306 583.2 L308.2 583.3 L307 578.3 L304.8 577.9Z"/><path fill="#e97a7e" stroke="#e97a7e" d="M304.1 583 L306 583.2 L304.8 577.9 L302.9 577.6Z"/><path fill="#e67b7e" stroke="#e67b7e" d="M302.5 582.9 L304.1 583 L302.9 577.6 L301.4 577.2Z"/><path fill="#4a0810" stroke="#4a0810" d="M423.6 524 L425.1 514.5 L423.9 516.5 L422.4 525.2Z"/><path fill="#4a0810" stroke="#4a0810" d="M421.7 533.1 L423.6 524 L422.4 525.2 L420.5 533.6Z"/><path fill="#4a0810" stroke="#4a0810" d="M419.4 541.3 L421.7 533.1 L420.5 533.6 L418.3 541.1Z"/><path fill="#4b0810" stroke="#4b0810" d="M416.8 548.1 L419.4 541.3 L418.3 541.1 L415.6 547.4Z"/><path fill="#4c0911" stroke="#4c0911" d="M413.8 553.7 L416.8 548.1 L415.6 547.4 L412.6 552.6Z"/><path fill="#510a12" stroke="#510a12" d="M410.5 558.3 L413.8 553.7 L412.6 552.6 L409.3 556.8Z"/><path fill="#5a0e16" stroke="#5a0e16" d="M406.9 562 L410.5 558.3 L409.3 556.8 L405.7 560.3Z"/><path fill="#6c141c" stroke="#6c141c" d="M402.9 565.2 L406.9 562 L405.7 560.3 L401.8 563.2Z"/><path fill="#831d24" stroke="#831d24" d="M398.7 568 L402.9 565.2 L401.8 563.2 L397.6 565.8Z"/><path fill="#9c262e" stroke="#9c262e" d="M394.3 570.5 L398.7 568 L397.6 565.8 L393.1 568.1Z"/><path fill="#b22f36" stroke="#b22f36" d="M389.7 572.7 L394.3 570.5 L393.1 568.1 L388.5 570.1Z"/><path fill="#c4363d" stroke="#c4363d" d="M384.8 574.7 L389.7 572.7 L388.5 570.1 L383.6 572Z"/><path fill="#d13c42" stroke="#d13c42" d="M379.9 576.5 L384.8 574.7 L383.6 572 L378.7 573.6Z"/><path fill="#da4046" stroke="#da4046" d="M374.8 578.1 L379.9 576.5 L378.7 573.6 L373.6 575.1Z"/><path fill="#e04349" stroke="#e04349" d="M369.6 579.5 L374.8 578.1 L373.6 575.1 L368.4 576.4Z"/><path fill="#e3454b" stroke="#e3454b" d="M364.4 580.8 L369.6 579.5 L368.4 576.4 L363.2 577.6Z"/><path fill="#e5474d" stroke="#e5474d" d="M359.2 581.9 L364.4 580.8 L363.2 577.6 L358 578.6Z"/><path fill="#e6484e" stroke="#e6484e" d="M354.1 582.9 L359.2 581.9 L358 578.6 L352.9 579.5Z"/><path fill="#e7494f" stroke="#e7494f" d="M349 583.7 L354.1 582.9 L352.9 579.5 L347.8 580.3Z"/><path fill="#e7494f" stroke="#e7494f" d="M344 584.5 L349 583.7 L347.8 580.3 L342.8 581Z"/><path fill="#e84a4f" stroke="#e84a4f" d="M339.2 585.2 L344 584.5 L342.8 581 L338 581.6Z"/><path fill="#e8494f" stroke="#e8494f" d="M334.5 585.8 L339.2 585.2 L338 581.6 L333.4 582.1Z"/><path fill="#e8494f" stroke="#e8494f" d="M330.1 586.3 L334.5 585.8 L333.4 582.1 L328.9 582.5Z"/><path fill="#e8494f" stroke="#e8494f" d="M325.9 586.7 L330.1 586.3 L328.9 582.5 L324.7 582.8Z"/><path fill="#e7484e" stroke="#e7484e" d="M322 587.1 L325.9 586.7 L324.7 582.8 L320.8 583.1Z"/><path fill="#e7484e" stroke="#e7484e" d="M318.3 587.4 L322 587.1 L320.8 583.1 L317.2 583.2Z"/><path fill="#e84a50" stroke="#e84a50" d="M315 587.6 L318.3 587.4 L317.2 583.2 L313.8 583.3Z"/><path fill="#e95157" stroke="#e95157" d="M312 587.8 L315 587.6 L313.8 583.3 L310.9 583.3Z"/><path fill="#eb6165" stroke="#eb6165" d="M309.4 587.9 L312 587.8 L310.9 583.3 L308.2 583.3Z"/><path fill="#ee7377" stroke="#ee7377" d="M307.1 588 L309.4 587.9 L308.2 583.3 L306 583.2Z"/><path fill="#f18083" stroke="#f18083" d="M305.2 588 L307.1 588 L306 583.2 L304.1 583Z"/><path fill="#f18588" stroke="#f18588" d="M303.7 588 L305.2 588 L304.1 583 L302.5 582.9Z"/><path fill="#4a0810" stroke="#4a0810" d="M424.8 522.8 L426.3 512.6 L425.1 514.5 L423.6 524Z"/><path fill="#4a0810" stroke="#4a0810" d="M422.9 532.6 L424.8 522.8 L423.6 524 L421.7 533.1Z"/><path fill="#4a0810" stroke="#4a0810" d="M420.6 541.4 L422.9 532.6 L421.7 533.1 L419.4 541.3Z"/><path fill="#4b0810" stroke="#4b0810" d="M418 548.8 L420.6 541.4 L419.4 541.3 L416.8 548.1Z"/><path fill="#4c0911" stroke="#4c0911" d="M415 554.8 L418 548.8 L416.8 548.1 L413.8 553.7Z"/><path fill="#4f0a12" stroke="#4f0a12" d="M411.7 559.7 L415 554.8 L413.8 553.7 L410.5 558.3Z"/><path fill="#570d15" stroke="#570d15" d="M408.1 563.8 L411.7 559.7 L410.5 558.3 L406.9 562Z"/><path fill="#651219" stroke="#651219" d="M404.1 567.2 L408.1 563.8 L406.9 562 L402.9 565.2Z"/><path fill="#791921" stroke="#791921" d="M399.9 570.2 L404.1 567.2 L402.9 565.2 L398.7 568Z"/><path fill="#902229" stroke="#902229" d="M395.5 572.9 L399.9 570.2 L398.7 568 L394.3 570.5Z"/><path fill="#a72a31" stroke="#a72a31" d="M390.9 575.2 L395.5 572.9 L394.3 570.5 L389.7 572.7Z"/><path fill="#ba3238" stroke="#ba3238" d="M386 577.4 L390.9 575.2 L389.7 572.7 L384.8 574.7Z"/><path fill="#ca373e" stroke="#ca373e" d="M381 579.3 L386 577.4 L384.8 574.7 L379.9 576.5Z"/><path fill="#d53c42" stroke="#d53c42" d="M376 581 L381 579.3 L379.9 576.5 L374.8 578.1Z"/><path fill="#dc3f45" stroke="#dc3f45" d="M370.8 582.5 L376 581 L374.8 578.1 L369.6 579.5Z"/><path fill="#e14147" stroke="#e14147" d="M365.6 583.9 L370.8 582.5 L369.6 579.5 L364.4 580.8Z"/><path fill="#e44248" stroke="#e44248" d="M360.4 585.1 L365.6 583.9 L364.4 580.8 L359.2 581.9Z"/><path fill="#e54349" stroke="#e54349" d="M355.3 586.1 L360.4 585.1 L359.2 581.9 L354.1 582.9Z"/><path fill="#e64349" stroke="#e64349" d="M350.2 587.1 L355.3 586.1 L354.1 582.9 L349 583.7Z"/><path fill="#e7444a" stroke="#e7444a" d="M345.2 587.9 L350.2 587.1 L349 583.7 L344 584.5Z"/><path fill="#e7444a" stroke="#e7444a" d="M340.4 588.7 L345.2 587.9 L344 584.5 L339.2 585.2Z"/><path fill="#e7444a" stroke="#e7444a" d="M335.7 589.3 L340.4 588.7 L339.2 585.2 L334.5 585.8Z"/><path fill="#e7444a" stroke="#e7444a" d="M331.3 589.9 L335.7 589.3 L334.5 585.8 L330.1 586.3Z"/><path fill="#e7434a" stroke="#e7434a" d="M327.1 590.4 L331.3 589.9 L330.1 586.3 L325.9 586.7Z"/><path fill="#e74349" stroke="#e74349" d="M323.2 590.9 L327.1 590.4 L325.9 586.7 L322 587.1Z"/><path fill="#e7444a" stroke="#e7444a" d="M319.5 591.3 L323.2 590.9 L322 587.1 L318.3 587.4Z"/><path fill="#e8464c" stroke="#e8464c" d="M316.2 591.6 L319.5 591.3 L318.3 587.4 L315 587.6Z"/><path fill="#e94d53" stroke="#e94d53" d="M313.2 591.9 L316.2 591.6 L315 587.6 L312 587.8Z"/><path fill="#ec5c61" stroke="#ec5c61" d="M310.6 592.1 L313.2 591.9 L312 587.8 L309.4 587.9Z"/><path fill="#ef6d71" stroke="#ef6d71" d="M308.3 592.3 L310.6 592.1 L309.4 587.9 L307.1 588Z"/><path fill="#f17b7e" stroke="#f17b7e" d="M306.4 592.4 L308.3 592.3 L307.1 588 L305.2 588Z"/><path fill="#f28184" stroke="#f28184" d="M304.9 592.5 L306.4 592.4 L305.2 588 L303.7 588Z"/><path fill="#4a0810" stroke="#4a0810" d="M426 521.5 L427.5 510.6 L426.3 512.6 L424.8 522.8Z"/><path fill="#4a0810" stroke="#4a0810" d="M424.1 532.1 L426 521.5 L424.8 522.8 L422.9 532.6Z"/><path fill="#4a0810" stroke="#4a0810" d="M421.8 541.5 L424.1 532.1 L422.9 532.6 L420.6 541.4Z"/><path fill="#4a0810" stroke="#4a0810" d="M419.2 549.4 L421.8 541.5 L420.6 541.4 L418 548.8Z"/><path fill="#4b0911" stroke="#4b0911" d="M416.2 555.9 L419.2 549.4 L418 548.8 L415 554.8Z"/><path fill="#4e0911" stroke="#4e0911" d="M412.9 561.1 L416.2 555.9 L415 554.8 L411.7 559.7Z"/><path fill="#540c14" stroke="#540c14" d="M409.2 565.5 L412.9 561.1 L411.7 559.7 L408.1 563.8Z"/><path fill="#5f1018" stroke="#5f1018" d="M405.3 569.1 L409.2 565.5 L408.1 563.8 L404.1 567.2Z"/><path fill="#71161e" stroke="#71161e" d="M401.1 572.3 L405.3 569.1 L404.1 567.2 L399.9 570.2Z"/><path fill="#861e25" stroke="#861e25" d="M396.7 575.2 L401.1 572.3 L399.9 570.2 L395.5 572.9Z"/><path fill="#9c262d" stroke="#9c262d" d="M392 577.7 L396.7 575.2 L395.5 572.9 L390.9 575.2Z"/><path fill="#b12e35" stroke="#b12e35" d="M387.2 580 L392 577.7 L390.9 575.2 L386 577.4Z"/><path fill="#c3343b" stroke="#c3343b" d="M382.2 582 L387.2 580 L386 577.4 L381 579.3Z"/><path fill="#d03940" stroke="#d03940" d="M377.2 583.8 L382.2 582 L381 579.3 L376 581Z"/><path fill="#d93d43" stroke="#d93d43" d="M372 585.4 L377.2 583.8 L376 581 L370.8 582.5Z"/><path fill="#df3f45" stroke="#df3f45" d="M366.8 586.8 L372 585.4 L370.8 582.5 L365.6 583.9Z"/><path fill="#e34046" stroke="#e34046" d="M361.6 588.1 L366.8 586.8 L365.6 583.9 L360.4 585.1Z"/><path fill="#e54147" stroke="#e54147" d="M356.4 589.2 L361.6 588.1 L360.4 585.1 L355.3 586.1Z"/><path fill="#e64248" stroke="#e64248" d="M351.4 590.3 L356.4 589.2 L355.3 586.1 L350.2 587.1Z"/><path fill="#e74248" stroke="#e74248" d="M346.4 591.1 L351.4 590.3 L350.2 587.1 L345.2 587.9Z"/><path fill="#e74248" stroke="#e74248" d="M341.6 591.9 L346.4 591.1 L345.2 587.9 L340.4 588.7Z"/><path fill="#e74248" stroke="#e74248" d="M336.9 592.6 L341.6 591.9 L340.4 588.7 L335.7 589.3Z"/><path fill="#e74248" stroke="#e74248" d="M332.5 593.3 L336.9 592.6 L335.7 589.3 L331.3 589.9Z"/><path fill="#e84248" stroke="#e84248" d="M328.3 593.8 L332.5 593.3 L331.3 589.9 L327.1 590.4Z"/><path fill="#e84248" stroke="#e84248" d="M324.4 594.3 L328.3 593.8 L327.1 590.4 L323.2 590.9Z"/><path fill="#e84248" stroke="#e84248" d="M320.7 594.8 L324.4 594.3 L323.2 590.9 L319.5 591.3Z"/><path fill="#e8444a" stroke="#e8444a" d="M317.4 595.1 L320.7 594.8 L319.5 591.3 L316.2 591.6Z"/><path fill="#e94a50" stroke="#e94a50" d="M314.4 595.5 L317.4 595.1 L316.2 591.6 L313.2 591.9Z"/><path fill="#eb565b" stroke="#eb565b" d="M311.8 595.8 L314.4 595.5 L313.2 591.9 L310.6 592.1Z"/><path fill="#ee6469" stroke="#ee6469" d="M309.5 596 L311.8 595.8 L310.6 592.1 L308.3 592.3Z"/><path fill="#ef6f73" stroke="#ef6f73" d="M307.6 596.2 L309.5 596 L308.3 592.3 L306.4 592.4Z"/><path fill="#f07477" stroke="#f07477" d="M306.1 596.4 L307.6 596.2 L306.4 592.4 L304.9 592.5Z"/></g><polygon points="306.1,596.4 305.8,595.4 305.5,594.4 305.2,593.4 304.8,592.3 304.5,591.1 304.2,589.9 303.9,588.6 303.6,587.3 303.2,586 302.9,584.6 302.6,583.2 302.3,581.8 302,580.3 301.7,578.8 301.4,577.2 301,575.7 300.7,574.1 300.4,572.4 300.1,570.8 299.8,569 299.5,567.3 299.1,565.6 298.8,563.8 298.5,561.9 298.2,560.1 297.9,558.2 297.6,556.3 297.2,554.4 296.9,552.4 296.6,550.4 296.3,548.4 296,546.4 295.7,544.3 295.3,542.2 295,540.1 294.7,538 294.4,535.8 294.1,533.6 293.8,531.4 293.4,529.2 293.1,526.9 292.8,524.6 292.5,522.3 292.2,520 291.9,517.6 291.5,515.2 291.2,512.8 290.9,510.4 290.6,508 290.3,505.5 290,503 289.6,500.5 289.3,497.9 289,495.4 288.7,492.8 288.4,490.2 288.1,487.5 287.7,484.9 287.4,482.2 287.1,479.5 287.1,545.3 306.1,597.9" fill="url(#curfs)"/><polygon points="306.1,596.4 308.1,596.1 310.1,595.9 312.2,595.7 314.2,595.5 316.2,595.3 318.2,595 320.3,594.8 322.3,594.6 324.3,594.3 326.3,594.1 328.4,593.8 330.4,593.5 332.4,593.3 334.4,593 336.5,592.7 338.5,592.4 340.5,592.1 342.5,591.8 344.5,591.5 346.6,591.1 348.6,590.8 350.6,590.4 352.6,590 354.7,589.6 356.7,589.2 358.7,588.8 360.7,588.3 362.8,587.9 364.8,587.4 366.8,586.8 368.8,586.3 370.8,585.7 372.9,585.2 374.9,584.5 376.9,583.9 378.9,583.2 381,582.5 383,581.7 385,580.9 387,580 389.1,579.1 391.1,578.2 393.1,577.1 395.1,576.1 397.1,574.9 399.2,573.6 401.2,572.3 403.2,570.8 405.2,569.2 407.3,567.4 409.3,565.4 411.3,563.1 413.3,560.5 415.4,557.4 417.4,553.6 419.4,548.8 421.4,542.8 423.5,535 425.5,524.6 427.5,510.6 427.5,588.4 306.1,597.9" fill="url(#curff)"/><polygon points="306.1,596.4 305.8,595.4 305.5,594.4 305.2,593.4 304.8,592.3 304.5,591.1 304.2,589.9 303.9,588.6 303.6,587.3 303.2,586 302.9,584.6 302.6,583.2 302.3,581.8 302,580.3 301.7,578.8 301.4,577.2 301,575.7 300.7,574.1 300.4,572.4 300.1,570.8 299.8,569 299.5,567.3 299.1,565.6 298.8,563.8 298.5,561.9 298.2,560.1 297.9,558.2 297.6,556.3 297.2,554.4 296.9,552.4 296.6,550.4 296.3,548.4 296,546.4 295.7,544.3 295.3,542.2 295,540.1 294.7,538 294.4,535.8 294.1,533.6 293.8,531.4 293.4,529.2 293.1,526.9 292.8,524.6 292.5,522.3 292.2,520 291.9,517.6 291.5,515.2 291.2,512.8 290.9,510.4 290.6,508 290.3,505.5 290,503 289.6,500.5 289.3,497.9 289,495.4 288.7,492.8 288.4,490.2 288.1,487.5 287.7,484.9 287.4,482.2 287.1,479.5 287.1,545.3 306.1,597.9" fill="url(#stripes)"/><polygon points="306.1,596.4 308.1,596.1 310.1,595.9 312.2,595.7 314.2,595.5 316.2,595.3 318.2,595 320.3,594.8 322.3,594.6 324.3,594.3 326.3,594.1 328.4,593.8 330.4,593.5 332.4,593.3 334.4,593 336.5,592.7 338.5,592.4 340.5,592.1 342.5,591.8 344.5,591.5 346.6,591.1 348.6,590.8 350.6,590.4 352.6,590 354.7,589.6 356.7,589.2 358.7,588.8 360.7,588.3 362.8,587.9 364.8,587.4 366.8,586.8 368.8,586.3 370.8,585.7 372.9,585.2 374.9,584.5 376.9,583.9 378.9,583.2 381,582.5 383,581.7 385,580.9 387,580 389.1,579.1 391.1,578.2 393.1,577.1 395.1,576.1 397.1,574.9 399.2,573.6 401.2,572.3 403.2,570.8 405.2,569.2 407.3,567.4 409.3,565.4 411.3,563.1 413.3,560.5 415.4,557.4 417.4,553.6 419.4,548.8 421.4,542.8 423.5,535 425.5,524.6 427.5,510.6 427.5,588.4 306.1,597.9" fill="url(#stripes)"/><path d="M306.1 596.4 L308.1 596.1 L310.1 595.9 L312.2 595.7 L314.2 595.5 L316.2 595.3 L318.2 595 L320.3 594.8 L322.3 594.6 L324.3 594.3 L326.3 594.1 L328.4 593.8 L330.4 593.5 L332.4 593.3 L334.4 593 L336.5 592.7 L338.5 592.4 L340.5 592.1 L342.5 591.8 L344.5 591.5 L346.6 591.1 L348.6 590.8 L350.6 590.4 L352.6 590 L354.7 589.6 L356.7 589.2 L358.7 588.8 L360.7 588.3 L362.8 587.9 L364.8 587.4 L366.8 586.8 L368.8 586.3 L370.8 585.7 L372.9 585.2 L374.9 584.5 L376.9 583.9 L378.9 583.2 L381 582.5 L383 581.7 L385 580.9 L387 580 L389.1 579.1 L391.1 578.2 L393.1 577.1 L395.1 576.1 L397.1 574.9 L399.2 573.6 L401.2 572.3 L403.2 570.8 L405.2 569.2 L407.3 567.4 L409.3 565.4 L411.3 563.1 L413.3 560.5 L415.4 557.4 L417.4 553.6 L419.4 548.8 L421.4 542.8 L423.5 535 L425.5 524.6 L427.5 510.6" fill="none" stroke="#a8202c" stroke-width="0.9"/><path d="M306.1 596.4 L305.8 595.4 L305.5 594.4 L305.2 593.4 L304.8 592.3 L304.5 591.1 L304.2 589.9 L303.9 588.6 L303.6 587.3 L303.2 586 L302.9 584.6 L302.6 583.2 L302.3 581.8 L302 580.3 L301.7 578.8 L301.4 577.2 L301 575.7 L300.7 574.1 L300.4 572.4 L300.1 570.8 L299.8 569 L299.5 567.3 L299.1 565.6 L298.8 563.8 L298.5 561.9 L298.2 560.1 L297.9 558.2 L297.6 556.3 L297.2 554.4 L296.9 552.4 L296.6 550.4 L296.3 548.4 L296 546.4 L295.7 544.3 L295.3 542.2 L295 540.1 L294.7 538 L294.4 535.8 L294.1 533.6 L293.8 531.4 L293.4 529.2 L293.1 526.9 L292.8 524.6 L292.5 522.3 L292.2 520 L291.9 517.6 L291.5 515.2 L291.2 512.8 L290.9 510.4 L290.6 508 L290.3 505.5 L290 503 L289.6 500.5 L289.3 497.9 L289 495.4 L288.7 492.8 L288.4 490.2 L288.1 487.5 L287.7 484.9 L287.4 482.2 L287.1 479.5" fill="none" stroke="#a8202c" stroke-width="0.9"/><line x1="306.1" y1="597.9" x2="427.5" y2="588.4" stroke="#8a8a8a" stroke-width="0.8"/><line x1="306.1" y1="597.9" x2="287.1" y2="545.3" stroke="#8a8a8a" stroke-width="0.8"/><rect x="308.5" y="460.2" width="98.3" height="26" rx="3.5" fill="#fff" stroke="#8c8c8c" stroke-width="0.9"/><text x="325" y="478.4" font-size="15.8" fill="#111">Loss</text><line x1="361.5" y1="474.1" x2="379.2" y2="474.1" stroke="#111" stroke-width="1.1"/><polygon points="382,474.1 377,476.3 378,474.1 377,471.9" fill="#111"/><text x="385.3" y="478.7" font-size="16" font-weight="bold" fill="#8c1a1a">B</text><text x="265" y="481" font-size="12" fill="#111">|<tspan font-style="italic">ψ</tspan>|<tspan font-size="7" dy="-5.5">2</tspan></text><line x1="283.8" y1="492" x2="286.3" y2="492" stroke="#8a8a8a" stroke-width="0.8"/><text x="282.5" y="497.8" font-size="12" text-anchor="end" fill="#111">0.2</text><text x="282.5" y="547.3" font-size="12" text-anchor="end" fill="#111">0</text><text x="283.5" y="559.2" font-size="11.6" text-anchor="end" fill="#111">0.75</text><text x="291" y="579.3" font-size="11.6" text-anchor="end" fill="#111">0.5</text><text x="304" y="604.5" font-size="11.6" text-anchor="end" fill="#111">0.25</text><text x="264.5" y="588" font-size="14" fill="#111">η</text><text x="368" y="610.3" font-size="11.6" text-anchor="middle" fill="#111">40</text><text x="429.5" y="604.5" font-size="11.6" text-anchor="middle" fill="#111">80</text><text x="375.5" y="621" font-size="11.6" text-anchor="middle" fill="#111">Site</text><line x1="336.5" y1="595.5" x2="336.5" y2="597.5" stroke="#8a8a8a" stroke-width="0.7"/><line x1="366.8" y1="593.1" x2="366.8" y2="595.1" stroke="#8a8a8a" stroke-width="0.7"/><line x1="397.1" y1="590.8" x2="397.1" y2="592.8" stroke="#8a8a8a" stroke-width="0.7"/><line x1="427.5" y1="588.4" x2="427.5" y2="590.4" stroke="#8a8a8a" stroke-width="0.7"/><line x1="306.1" y1="597.9" x2="303.9" y2="598.4" stroke="#8a8a8a" stroke-width="0.7"/><line x1="296.6" y1="571.6" x2="294.4" y2="572.1" stroke="#8a8a8a" stroke-width="0.7"/><line x1="287.1" y1="545.3" x2="284.9" y2="545.8" stroke="#8a8a8a" stroke-width="0.7"/>
<text x="454.5" y="283.2" font-size="18" font-weight="bold" fill="#000">e</text><circle cx="518.9" cy="287.3" r="2.3" fill="#4f93c6"/><text x="526" y="291.6" font-size="11.4" fill="#111">PBC</text><circle cx="572" cy="287.3" r="2.3" fill="#8c8c8c"/><text x="579" y="291.6" font-size="11.4" fill="#111">OBC</text><rect x="500.3" y="293.8" width="129.1" height="122.8" fill="none" stroke="#777" stroke-width="1"/><line x1="532.6" y1="416.6" x2="532.6" y2="414.6" stroke="#555" stroke-width="0.7"/><line x1="532.6" y1="293.8" x2="532.6" y2="295.8" stroke="#555" stroke-width="0.7"/><line x1="564.9" y1="416.6" x2="564.9" y2="414.6" stroke="#555" stroke-width="0.7"/><line x1="564.9" y1="293.8" x2="564.9" y2="295.8" stroke="#555" stroke-width="0.7"/><line x1="597.1" y1="416.6" x2="597.1" y2="414.6" stroke="#555" stroke-width="0.7"/><line x1="597.1" y1="293.8" x2="597.1" y2="295.8" stroke="#555" stroke-width="0.7"/><line x1="500.3" y1="334.7" x2="502.3" y2="334.7" stroke="#555" stroke-width="0.7"/><line x1="629.4" y1="334.7" x2="627.4" y2="334.7" stroke="#555" stroke-width="0.7"/><line x1="500.3" y1="375.7" x2="502.3" y2="375.7" stroke="#555" stroke-width="0.7"/><line x1="629.4" y1="375.7" x2="627.4" y2="375.7" stroke="#555" stroke-width="0.7"/><text x="497" y="306.5" font-size="11.4" text-anchor="end" fill="#111">-0.06</text><text x="497" y="421.5" font-size="11.4" text-anchor="end" fill="#111">-0.14</text><text x="503.5" y="430.5" font-size="11.4" text-anchor="middle" fill="#111">-1.3</text><text x="567.7" y="430.5" font-size="11.4" text-anchor="middle" fill="#111">0</text><text x="624" y="430.5" font-size="11.4" text-anchor="middle" fill="#111">1.3</text><text x="568" y="442" font-size="11.4" text-anchor="middle" fill="#111">Re(ε)</text><text x="0" y="0" font-size="11.4" text-anchor="middle" fill="#111" transform="translate(484,364) rotate(-90)">Im(ε)</text><path d="M519.8 408.9 L518.8 408.5 L517.9 407.6 L517.1 406.3 L516.3 404.4 L515.7 402.1 L515.2 399.4 L514.7 396.2 L514.4 392.7 L514.2 388.9 L514.2 384.8 L514.2 380.4 L514.4 375.8 L514.7 371.1 L515.1 366.3 L515.6 361.5 L516.2 356.6 L516.9 351.9 L517.7 347.2 L518.6 342.7 L519.6 338.5 L520.6 334.5 L521.7 330.8 L522.8 327.5 L523.9 324.5 L525.1 322 L526.2 319.9 L527.4 318.2 L528.5 317.1 L529.6 316.4 L530.6 316.3 L531.6 316.7 L532.5 317.6 L533.3 318.9 L534.1 320.8 L534.7 323.1 L535.2 325.8 L535.7 329 L536 332.5 L536.2 336.3 L536.2 340.4 L536.2 344.8 L536 349.4 L535.7 354.1 L535.3 358.9 L534.8 363.7 L534.2 368.6 L533.5 373.3 L532.7 378 L531.8 382.5 L530.8 386.7 L529.8 390.7 L528.7 394.4 L527.6 397.7 L526.5 400.7 L525.3 403.2 L524.2 405.3 L523 407 L521.9 408.1 L520.8 408.8Z" fill="none" stroke="#4f93c6" stroke-width="1.3"/><path d="M534.3 340.2 Q521 356 513.3 384.3" fill="none" stroke="#8c8c8c" stroke-width="1.1"/><path d="M624.3 391.3 L623.3 391.4 L622.1 391.1 L620.7 390.3 L619.1 388.9 L617.5 387.2 L615.7 384.9 L613.8 382.2 L611.9 379.2 L610 375.7 L608 371.9 L606 367.9 L604 363.6 L602.1 359.1 L600.2 354.4 L598.4 349.7 L596.7 345 L595 340.2 L593.4 335.6 L592 331.1 L590.6 326.7 L589.4 322.6 L588.4 318.8 L587.5 315.3 L586.7 312.1 L586.1 309.4 L585.7 307 L585.5 305.1 L585.5 303.7 L585.7 302.8 L586.1 302.3 L586.7 302.4 L587.5 302.9 L588.5 303.9 L589.8 305.3 L591.2 307.2 L592.8 309.5 L594.5 312.2 L596.5 315.3 L598.5 318.7 L600.7 322.4 L602.9 326.4 L605.2 330.5 L607.5 334.9 L609.8 339.3 L612 343.9 L614.2 348.5 L616.2 353 L618.2 357.5 L619.9 361.9 L621.5 366.1 L622.9 370.2 L624 374 L625 377.5 L625.6 380.6 L626 383.5 L626.2 385.9 L626.1 387.9 L625.7 389.5 L625.1 390.6Z" fill="none" stroke="#4f93c6" stroke-width="1.3"/><path d="M586.2 306 Q602 344 624 388.5" fill="none" stroke="#8c8c8c" stroke-width="1" stroke-dasharray="1 1.3"/><circle cx="546.8" cy="401.1" r="10.6" fill="none" stroke="#1f6496" stroke-width="1.9" stroke-dasharray="3.3 2.7"/><text x="546.3" y="405.4" font-size="12.5" text-anchor="middle" fill="#111">+1</text><polygon points="557.9,404.1 555.8,415.4 553.5,409.7 547.5,408.8" fill="#1f6496"/><circle cx="583.1" cy="401.6" r="10.6" fill="none" stroke="#b03a3a" stroke-width="1.9" stroke-dasharray="3.3 2.7"/><text x="582.6" y="405.9" font-size="12.5" text-anchor="middle" fill="#111">-1</text><polygon points="594,397.9 583.2,393.8 589.2,392.6 591.1,386.7" fill="#b03a3a"/><text x="454.5" y="460.5" font-size="18" font-weight="bold" fill="#000">g</text><circle cx="518.9" cy="466.6" r="2.3" fill="#4f93c6"/><text x="526" y="470.9" font-size="11.4" fill="#111">PBC</text><circle cx="572" cy="466.6" r="2.3" fill="#8c8c8c"/><text x="579" y="470.9" font-size="11.4" fill="#111">OBC</text><rect x="500.5" y="473.7" width="128.8" height="123.1" fill="none" stroke="#777" stroke-width="1"/><line x1="532.7" y1="596.8" x2="532.7" y2="594.8" stroke="#555" stroke-width="0.7"/><line x1="532.7" y1="473.7" x2="532.7" y2="475.7" stroke="#555" stroke-width="0.7"/><line x1="564.9" y1="596.8" x2="564.9" y2="594.8" stroke="#555" stroke-width="0.7"/><line x1="564.9" y1="473.7" x2="564.9" y2="475.7" stroke="#555" stroke-width="0.7"/><line x1="597.1" y1="596.8" x2="597.1" y2="594.8" stroke="#555" stroke-width="0.7"/><line x1="597.1" y1="473.7" x2="597.1" y2="475.7" stroke="#555" stroke-width="0.7"/><line x1="500.5" y1="514.7" x2="502.5" y2="514.7" stroke="#555" stroke-width="0.7"/><line x1="629.3" y1="514.7" x2="627.3" y2="514.7" stroke="#555" stroke-width="0.7"/><line x1="500.5" y1="555.8" x2="502.5" y2="555.8" stroke="#555" stroke-width="0.7"/><line x1="629.3" y1="555.8" x2="627.3" y2="555.8" stroke="#555" stroke-width="0.7"/><text x="497" y="485" font-size="11.4" text-anchor="end" fill="#111">-0.06</text><text x="497" y="600.8" font-size="11.4" text-anchor="end" fill="#111">-0.14</text><text x="503.5" y="609.5" font-size="11.4" text-anchor="middle" fill="#111">-1.3</text><text x="567.7" y="609.5" font-size="11.4" text-anchor="middle" fill="#111">0</text><text x="624.5" y="609.5" font-size="11.4" text-anchor="middle" fill="#111">1.3</text><text x="568" y="621.5" font-size="11.4" text-anchor="middle" fill="#111">Re(ε)</text><text x="0" y="0" font-size="11.4" text-anchor="middle" fill="#111" transform="translate(484,543.5) rotate(-90)">Im(ε)</text><path d="M529.9 574.1 L528.9 573.9 L527.8 573.3 L526.7 572.2 L525.5 570.5 L524.4 568.4 L523.2 565.9 L522 562.9 L520.9 559.5 L519.8 555.8 L518.8 551.8 L517.8 547.5 L516.9 543 L516.1 538.4 L515.4 533.6 L514.8 528.7 L514.2 523.9 L513.8 519.1 L513.5 514.3 L513.4 509.7 L513.3 505.4 L513.4 501.2 L513.6 497.4 L513.9 493.8 L514.3 490.7 L514.8 487.9 L515.4 485.6 L516.2 483.8 L517 482.4 L517.9 481.5 L518.9 481.1 L519.9 481.3 L521 481.9 L522.1 483 L523.3 484.7 L524.4 486.8 L525.6 489.3 L526.8 492.3 L527.9 495.7 L529 499.4 L530 503.4 L531 507.7 L531.9 512.2 L532.7 516.8 L533.4 521.6 L534 526.5 L534.6 531.3 L535 536.1 L535.3 540.9 L535.4 545.5 L535.5 549.8 L535.4 554 L535.2 557.8 L534.9 561.4 L534.5 564.5 L534 567.3 L533.4 569.6 L532.6 571.4 L531.8 572.8 L530.9 573.7Z" fill="none" stroke="#4f93c6" stroke-width="1.3"/><path d="M512.7 504.6 Q520 536 534.6 550" fill="none" stroke="#8c8c8c" stroke-width="1.1"/><path d="M624.4 496.3 L624.8 496.7 L625.1 497.7 L625.1 499.2 L624.9 501.1 L624.5 503.5 L623.9 506.4 L623.2 509.6 L622.3 513.3 L621.3 517.3 L620.1 521.5 L618.8 526 L617.3 530.7 L615.8 535.5 L614.2 540.5 L612.4 545.4 L610.6 550.3 L608.7 555.1 L606.8 559.8 L604.9 564.3 L602.9 568.5 L600.9 572.4 L598.9 576 L597 579.2 L595.1 582 L593.3 584.4 L591.7 586.2 L590.1 587.6 L588.7 588.5 L587.4 588.9 L586.4 588.7 L585.5 588.1 L584.9 586.9 L584.5 585.3 L584.4 583.2 L584.5 580.7 L584.9 577.8 L585.5 574.5 L586.4 570.9 L587.5 566.9 L588.9 562.7 L590.5 558.3 L592.2 553.8 L594.1 549.1 L596.2 544.4 L598.4 539.6 L600.6 534.9 L602.9 530.2 L605.2 525.7 L607.5 521.4 L609.7 517.3 L611.9 513.4 L614 509.8 L615.9 506.6 L617.7 503.8 L619.3 501.4 L620.7 499.4 L622 497.9 L623 496.9 L623.8 496.3Z" fill="none" stroke="#4f93c6" stroke-width="1.3"/><path d="M586.8 585 Q600 540 623.5 499" fill="none" stroke="#8c8c8c" stroke-width="1" stroke-dasharray="1 1.3"/><circle cx="546.5" cy="489.4" r="10.6" fill="none" stroke="#1f6496" stroke-width="1.9" stroke-dasharray="3.3 2.7"/><text x="546" y="493.7" font-size="12.5" text-anchor="middle" fill="#111">-1</text><polygon points="557.4,485.7 546.6,481.6 552.6,480.4 554.5,474.5" fill="#1f6496"/><circle cx="582.3" cy="488.6" r="10.6" fill="none" stroke="#b03a3a" stroke-width="1.9" stroke-dasharray="3.3 2.7"/><text x="581.8" y="492.9" font-size="12.5" text-anchor="middle" fill="#111">+1</text><polygon points="593.4,491.6 591.3,502.9 589,497.2 583,496.3" fill="#b03a3a"/>
</svg>
</body></html>
